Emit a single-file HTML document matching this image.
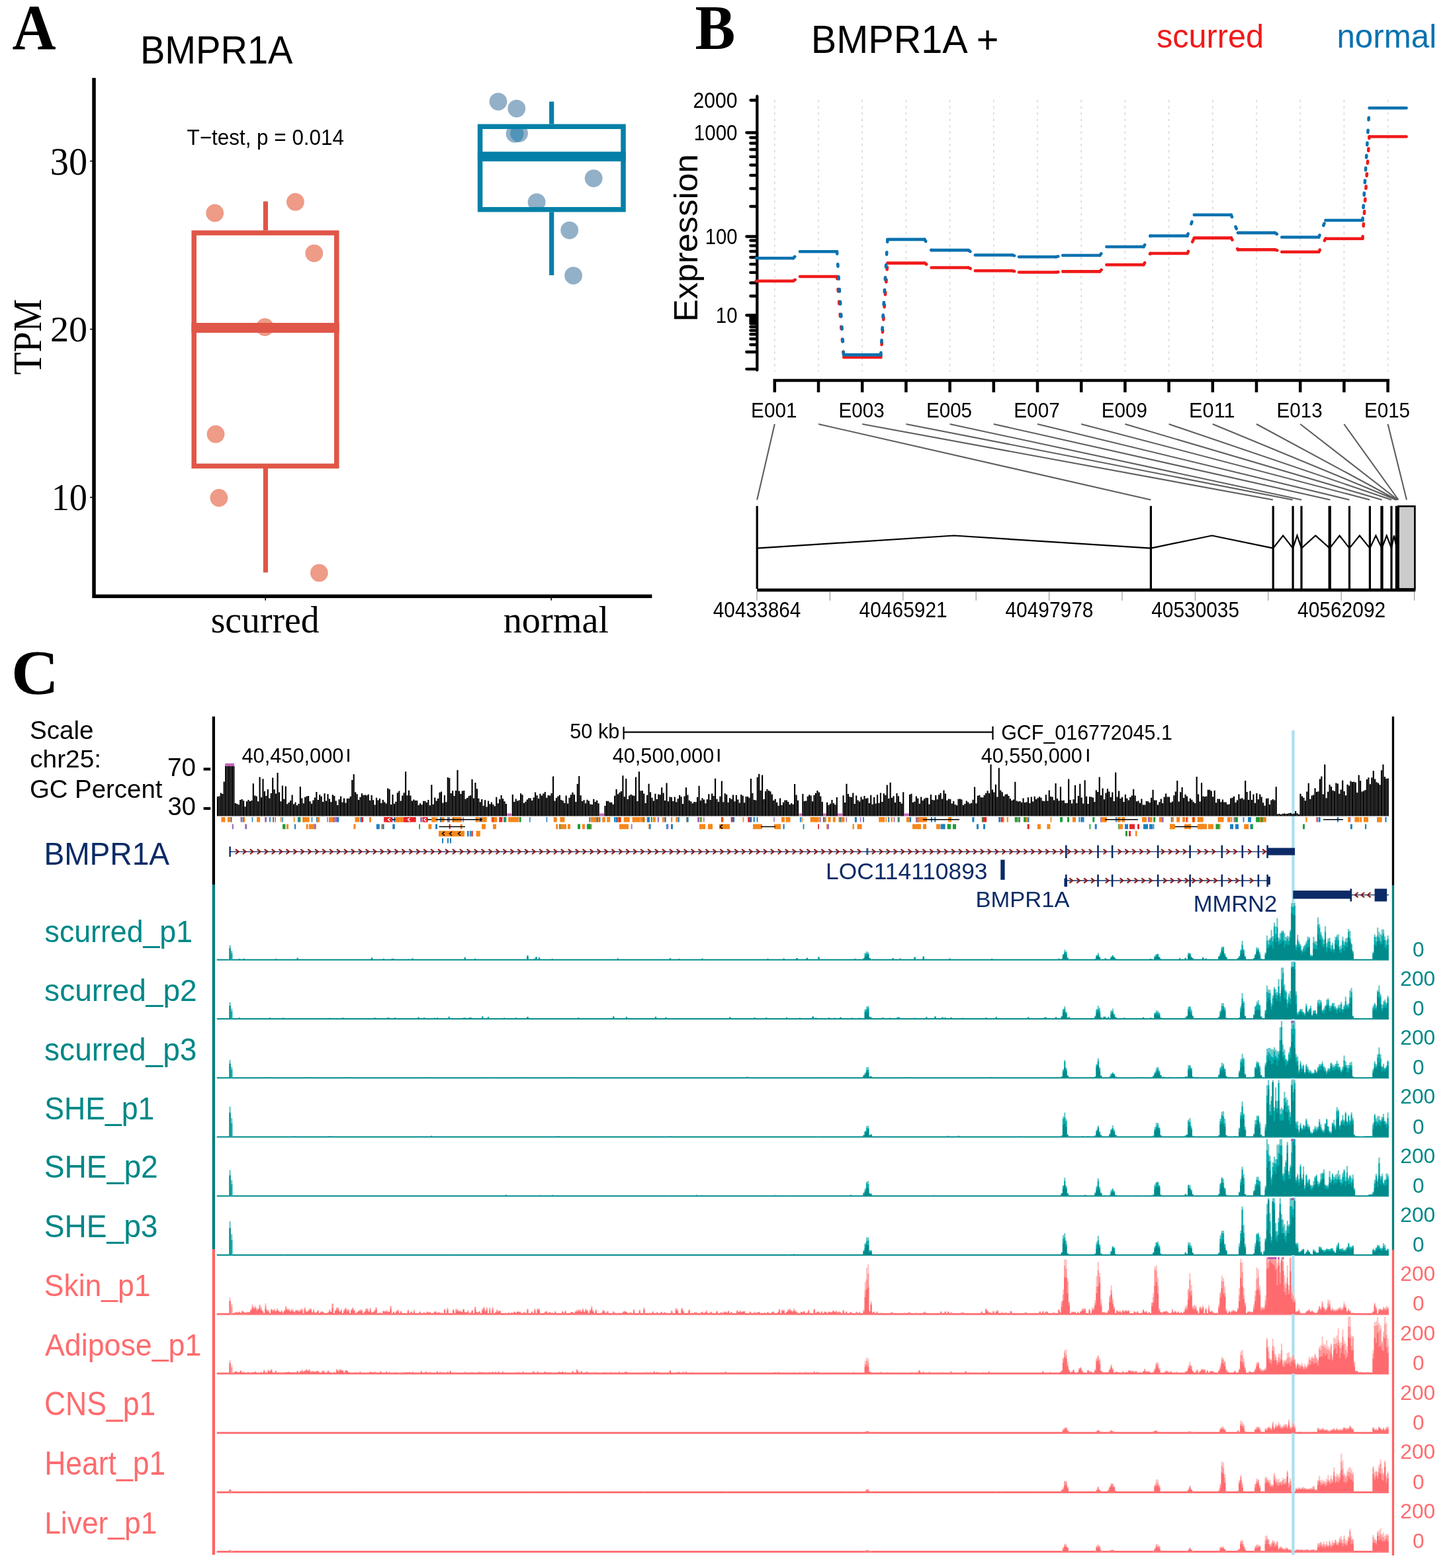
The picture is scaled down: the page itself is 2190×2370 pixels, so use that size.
<!DOCTYPE html>
<html><head><meta charset="utf-8"><title>BMPR1A figure</title>
<style>html,body{margin:0;padding:0;background:#fff;}svg{display:block;}</style></head>
<body><svg width="2190" height="2370" viewBox="0 0 2190 2370">
<rect width="2190" height="2370" fill="#fff"/>
<text x="18.6" y="74.4" font-family="'Liberation Serif', 'Times New Roman', serif" font-weight="bold" font-size="96.34" textLength="66.1" lengthAdjust="spacingAndGlyphs" fill="#000">A</text>
<text x="211.9" y="96.0" font-family="'Liberation Sans', Arial, sans-serif" font-weight="normal" font-size="58.87" textLength="230.6" lengthAdjust="spacingAndGlyphs" fill="#000">BMPR1A</text>
<text x="282.5" y="219.2" font-family="'Liberation Sans', Arial, sans-serif" font-weight="normal" font-size="33.08" textLength="237.5" lengthAdjust="spacingAndGlyphs" fill="#000">T−test, p = 0.014</text>
<text x="75.8" y="263.8" font-family="'Liberation Serif', 'Times New Roman', serif" font-weight="normal" font-size="58.94" textLength="56.3" lengthAdjust="spacingAndGlyphs" fill="#000">30</text>
<text x="76.0" y="516.3" font-family="'Liberation Serif', 'Times New Roman', serif" font-weight="normal" font-size="54.88" textLength="56.1" lengthAdjust="spacingAndGlyphs" fill="#000">20</text>
<text x="77.7" y="771.4" font-family="'Liberation Serif', 'Times New Roman', serif" font-weight="normal" font-size="56.99" textLength="54.3" lengthAdjust="spacingAndGlyphs" fill="#000">10</text>
<line x1="136" y1="243.5" x2="140" y2="243.5" stroke="#000" stroke-width="1.6"/>
<line x1="136" y1="497.6" x2="140" y2="497.6" stroke="#000" stroke-width="1.6"/>
<line x1="136" y1="751.7" x2="140" y2="751.7" stroke="#000" stroke-width="1.6"/>
<line x1="401.2" y1="903" x2="401.2" y2="907.5" stroke="#000" stroke-width="1.6"/>
<line x1="833.2" y1="903" x2="833.2" y2="907.5" stroke="#000" stroke-width="1.6"/>
<path d="M142 117.7 V901.3 H985.4" fill="none" stroke="#000" stroke-width="5.5"/>
<text transform="translate(61.5 566.5) rotate(-90)" x="0" y="0" font-family="'Liberation Serif', 'Times New Roman', serif" font-size="60.94" textLength="114.6" lengthAdjust="spacingAndGlyphs">TPM</text>
<text x="318.7" y="956.3" font-family="'Liberation Serif', 'Times New Roman', serif" font-weight="normal" font-size="56.64" textLength="164.0" lengthAdjust="spacingAndGlyphs" fill="#000">scurred</text>
<text x="760.7" y="956.3" font-family="'Liberation Serif', 'Times New Roman', serif" font-weight="normal" font-size="56.64" textLength="159.4" lengthAdjust="spacingAndGlyphs" fill="#000">normal</text>
<circle cx="324.7" cy="322" r="13.4" fill="#EE9B87"/>
<circle cx="446.4" cy="305.2" r="13.4" fill="#EE9B87"/>
<circle cx="474.8" cy="382.8" r="13.4" fill="#EE9B87"/>
<circle cx="400.4" cy="494.5" r="13.4" fill="#EE9B87"/>
<circle cx="326" cy="656.2" r="13.4" fill="#EE9B87"/>
<circle cx="330.9" cy="752.5" r="13.4" fill="#EE9B87"/>
<circle cx="482.4" cy="865.9" r="13.4" fill="#EE9B87"/>
<circle cx="753" cy="153.6" r="13.4" fill="#92B0C8"/>
<circle cx="780.8" cy="164.1" r="13.4" fill="#92B0C8"/>
<circle cx="778.1" cy="202.3" r="13.4" fill="#92B0C8"/>
<circle cx="784.6" cy="201.5" r="13.4" fill="#92B0C8"/>
<circle cx="897.2" cy="269.6" r="13.4" fill="#92B0C8"/>
<circle cx="811.1" cy="305.6" r="13.4" fill="#92B0C8"/>
<circle cx="860.7" cy="348.1" r="13.4" fill="#92B0C8"/>
<circle cx="866.6" cy="416.6" r="13.4" fill="#92B0C8"/>
<clipPath id="ov"><circle cx="778.1" cy="202.3" r="13.4"/></clipPath><circle cx="784.6" cy="201.5" r="13.4" fill="#5294B9" clip-path="url(#ov)"/>
<rect x="293.2" y="352" width="215.6" height="352.4" fill="none" stroke="#E05648" stroke-width="7.5"/>
<rect x="289.45" y="488" width="223.1" height="15" fill="#E05648"/>
<line x1="401.4" y1="304.4" x2="401.4" y2="348.3" stroke="#E05648" stroke-width="7.2"/>
<line x1="401.4" y1="708.1" x2="401.4" y2="865.3" stroke="#E05648" stroke-width="7.2"/>
<rect x="725.6" y="191.3" width="216.4" height="125.4" fill="none" stroke="#0480A8" stroke-width="7.5"/>
<rect x="721.85" y="229.3" width="223.9" height="14.6" fill="#0480A8"/>
<line x1="833.7" y1="153.6" x2="833.7" y2="187.6" stroke="#0480A8" stroke-width="7.2"/>
<line x1="833.7" y1="320.4" x2="833.7" y2="416" stroke="#0480A8" stroke-width="7.2"/>
<text x="1050.5" y="74.0" font-family="'Liberation Serif', 'Times New Roman', serif" font-weight="bold" font-size="94.23" textLength="60.9" lengthAdjust="spacingAndGlyphs" fill="#000">B</text>
<text x="1225.8" y="79.5" font-family="'Liberation Sans', Arial, sans-serif" font-weight="normal" font-size="59.88" textLength="283.5" lengthAdjust="spacingAndGlyphs" fill="#000">BMPR1A +</text>
<text x="1747.9" y="71.6" font-family="'Liberation Sans', Arial, sans-serif" font-weight="normal" font-size="50.37" textLength="162.2" lengthAdjust="spacingAndGlyphs" fill="#F01A1A">scurred</text>
<text x="2020.4" y="71.6" font-family="'Liberation Sans', Arial, sans-serif" font-weight="normal" font-size="50.37" textLength="150.7" lengthAdjust="spacingAndGlyphs" fill="#0A72B0">normal</text>
<text x="1047.4" y="162.9" font-family="'Liberation Sans', Arial, sans-serif" font-weight="normal" font-size="32.80" textLength="67.1" lengthAdjust="spacingAndGlyphs" fill="#000">2000</text>
<text x="1048.8" y="211.8" font-family="'Liberation Sans', Arial, sans-serif" font-weight="normal" font-size="32.80" textLength="65.7" lengthAdjust="spacingAndGlyphs" fill="#000">1000</text>
<text x="1065.7" y="368.8" font-family="'Liberation Sans', Arial, sans-serif" font-weight="normal" font-size="32.94" textLength="48.8" lengthAdjust="spacingAndGlyphs" fill="#000">100</text>
<text x="1081.8" y="487.7" font-family="'Liberation Sans', Arial, sans-serif" font-weight="normal" font-size="32.80" textLength="32.7" lengthAdjust="spacingAndGlyphs" fill="#000">10</text>
<text transform="translate(1053.8 486.5) rotate(-90)" x="0" y="0" font-family="'Liberation Sans', Arial, sans-serif" font-size="50.87" textLength="253.4" lengthAdjust="spacingAndGlyphs">Expression</text>
<line x1="1170.8" y1="151" x2="1170.8" y2="562" stroke="#D8D8D8" stroke-width="1.6" stroke-dasharray="3.5 6"/>
<line x1="1237.0" y1="151" x2="1237.0" y2="562" stroke="#D8D8D8" stroke-width="1.6" stroke-dasharray="3.5 6"/>
<line x1="1303.2" y1="151" x2="1303.2" y2="562" stroke="#D8D8D8" stroke-width="1.6" stroke-dasharray="3.5 6"/>
<line x1="1369.4" y1="151" x2="1369.4" y2="562" stroke="#D8D8D8" stroke-width="1.6" stroke-dasharray="3.5 6"/>
<line x1="1435.6" y1="151" x2="1435.6" y2="562" stroke="#D8D8D8" stroke-width="1.6" stroke-dasharray="3.5 6"/>
<line x1="1501.8" y1="151" x2="1501.8" y2="562" stroke="#D8D8D8" stroke-width="1.6" stroke-dasharray="3.5 6"/>
<line x1="1568.0" y1="151" x2="1568.0" y2="562" stroke="#D8D8D8" stroke-width="1.6" stroke-dasharray="3.5 6"/>
<line x1="1634.2" y1="151" x2="1634.2" y2="562" stroke="#D8D8D8" stroke-width="1.6" stroke-dasharray="3.5 6"/>
<line x1="1700.4" y1="151" x2="1700.4" y2="562" stroke="#D8D8D8" stroke-width="1.6" stroke-dasharray="3.5 6"/>
<line x1="1766.6" y1="151" x2="1766.6" y2="562" stroke="#D8D8D8" stroke-width="1.6" stroke-dasharray="3.5 6"/>
<line x1="1832.8" y1="151" x2="1832.8" y2="562" stroke="#D8D8D8" stroke-width="1.6" stroke-dasharray="3.5 6"/>
<line x1="1899.0" y1="151" x2="1899.0" y2="562" stroke="#D8D8D8" stroke-width="1.6" stroke-dasharray="3.5 6"/>
<line x1="1965.2" y1="151" x2="1965.2" y2="562" stroke="#D8D8D8" stroke-width="1.6" stroke-dasharray="3.5 6"/>
<line x1="2031.4" y1="151" x2="2031.4" y2="562" stroke="#D8D8D8" stroke-width="1.6" stroke-dasharray="3.5 6"/>
<line x1="2097.6" y1="151" x2="2097.6" y2="562" stroke="#D8D8D8" stroke-width="1.6" stroke-dasharray="3.5 6"/>
<path d="M1144.3 145.5 V559.5 M1134.5 151.5 H1144.3 M1128.3 200.5 H1144.3 M1128.3 357.5 H1144.3 M1128.3 476.5 H1144.3 M1128.3 532 H1144.3 M1128.3 557.8 H1144.3 M1134.3 208 H1144.3 M1134.3 216.5 H1144.3 M1134.3 226 H1144.3 M1134.3 236.8 H1144.3 M1134.3 249.5 H1144.3 M1134.3 265 H1144.3 M1134.3 285 H1144.3 M1134.3 312 H1144.3 M1134.3 363.5 H1144.3 M1134.3 371.3 H1144.3 M1134.3 379.8 H1144.3 M1134.3 389 H1144.3 M1134.3 399.4 H1144.3 M1134.3 411.9 H1144.3 M1134.3 427.5 H1144.3 M1134.3 447.5 H1144.3 M1134.3 480 H1144.3 M1134.3 483.5 H1144.3 M1134.3 486 H1144.3 M1134.3 489 H1144.3 M1134.3 494 H1144.3 M1134.3 499.5 H1144.3 M1134.3 505.25 H1144.3 M1134.3 512.25 H1144.3 M1134.3 521 H1144.3" fill="none" stroke="#000" stroke-width="4.3" stroke-linecap="round"/>
<path d="M1168.5 575.1 H2100 M1170.8 575.1 V593 M1237.0 575.1 V593 M1303.2 575.1 V593 M1369.4 575.1 V593 M1435.6 575.1 V593 M1501.8 575.1 V593 M1568.0 575.1 V593 M1634.2 575.1 V593 M1700.4 575.1 V593 M1766.6 575.1 V593 M1832.8 575.1 V593 M1899.0 575.1 V593 M1965.2 575.1 V593 M2031.4 575.1 V593 M2097.6 575.1 V593" fill="none" stroke="#000" stroke-width="4.5"/>
<text x="1135.1" y="630.8" font-family="'Liberation Sans', Arial, sans-serif" font-weight="normal" font-size="31.94" textLength="69.4" lengthAdjust="spacingAndGlyphs" fill="#000">E001</text>
<text x="1267.5" y="630.8" font-family="'Liberation Sans', Arial, sans-serif" font-weight="normal" font-size="31.94" textLength="69.2" lengthAdjust="spacingAndGlyphs" fill="#000">E003</text>
<text x="1399.9" y="630.8" font-family="'Liberation Sans', Arial, sans-serif" font-weight="normal" font-size="31.94" textLength="69.2" lengthAdjust="spacingAndGlyphs" fill="#000">E005</text>
<text x="1532.3" y="630.8" font-family="'Liberation Sans', Arial, sans-serif" font-weight="normal" font-size="31.94" textLength="69.4" lengthAdjust="spacingAndGlyphs" fill="#000">E007</text>
<text x="1664.7" y="630.8" font-family="'Liberation Sans', Arial, sans-serif" font-weight="normal" font-size="31.94" textLength="69.3" lengthAdjust="spacingAndGlyphs" fill="#000">E009</text>
<text x="1797.1" y="630.8" font-family="'Liberation Sans', Arial, sans-serif" font-weight="normal" font-size="31.94" textLength="69.4" lengthAdjust="spacingAndGlyphs" fill="#000">E011</text>
<text x="1929.5" y="630.8" font-family="'Liberation Sans', Arial, sans-serif" font-weight="normal" font-size="31.94" textLength="69.2" lengthAdjust="spacingAndGlyphs" fill="#000">E013</text>
<text x="2061.9" y="630.8" font-family="'Liberation Sans', Arial, sans-serif" font-weight="normal" font-size="31.94" textLength="69.2" lengthAdjust="spacingAndGlyphs" fill="#000">E015</text>
<path d="M1142.8 424.7 H1198.8 M1209.0 418.0 H1265.0 M1275.2 540.0 H1331.2 M1341.4 397.6 H1397.4 M1407.6 404.5 H1463.6 M1473.8 409.3 H1529.8 M1540.0 411.5 H1596.0 M1606.2 410.4 H1662.2 M1672.4 400.2 H1728.4 M1738.6 383.0 H1794.6 M1804.8 359.6 H1860.8 M1871.0 377.4 H1927.0 M1937.2 380.7 H1993.2 M2003.4 360.7 H2059.4 M2069.6 206.5 H2125.6" fill="none" stroke="#F01A1A" stroke-width="4.6" stroke-linecap="round"/>
<path d="M1198.8 424.7 L1209.0 418.0 M1265.0 418.0 L1275.2 540.0 M1331.2 540.0 L1341.4 397.6 M1397.4 397.6 L1407.6 404.5 M1463.6 404.5 L1473.8 409.3 M1529.8 409.3 L1540.0 411.5 M1596.0 411.5 L1606.2 410.4 M1662.2 410.4 L1672.4 400.2 M1728.4 400.2 L1738.6 383.0 M1794.6 383.0 L1804.8 359.6 M1860.8 359.6 L1871.0 377.4 M1927.0 377.4 L1937.2 380.7 M1993.2 380.7 L2003.4 360.7 M2059.4 360.7 L2069.6 206.5" fill="none" stroke="#F01A1A" stroke-width="4.6" stroke-dasharray="3.4 15.6" stroke-linecap="round"/>
<path d="M1142.8 390.3 H1198.8 M1209.0 380.3 H1265.0 M1275.2 536.4 H1331.2 M1341.4 361.9 H1397.4 M1407.6 378.1 H1463.6 M1473.8 385.5 H1529.8 M1540.0 388.3 H1596.0 M1606.2 386.0 H1662.2 M1672.4 373.0 H1728.4 M1738.6 356.5 H1794.6 M1804.8 324.8 H1860.8 M1871.0 351.9 H1927.0 M1937.2 358.5 H1993.2 M2003.4 333.0 H2059.4 M2069.6 163.3 H2125.6" fill="none" stroke="#0A72B0" stroke-width="4.6" stroke-linecap="round"/>
<path d="M1198.8 390.3 L1209.0 380.3 M1265.0 380.3 L1275.2 536.4 M1331.2 536.4 L1341.4 361.9 M1397.4 361.9 L1407.6 378.1 M1463.6 378.1 L1473.8 385.5 M1529.8 385.5 L1540.0 388.3 M1596.0 388.3 L1606.2 386.0 M1662.2 386.0 L1672.4 373.0 M1728.4 373.0 L1738.6 356.5 M1794.6 356.5 L1804.8 324.8 M1860.8 324.8 L1871.0 351.9 M1927.0 351.9 L1937.2 358.5 M1993.2 358.5 L2003.4 333.0 M2059.4 333.0 L2069.6 163.3" fill="none" stroke="#0A72B0" stroke-width="4.6" stroke-dasharray="3.4 15.6" stroke-linecap="round"/>
<path d="M1170.8 641 L1144.2 755.5 M1237.0 641 L1739.4 755.5 M1303.2 641 L1924.0 755.5 M1369.4 641 L1953.8 755.5 M1435.6 641 L1967.2 755.5 M1501.8 641 L2010.5 755.5 M1568.0 641 L2039.5 755.5 M1634.2 641 L2070.3 755.5 M1700.4 641 L2088.6 755.5 M1766.6 641 L2103.0 755.5 M1832.8 641 L2109.8 755.5 M1899.0 641 L2111.2 755.5 M1965.2 641 L2112.6 755.5 M2031.4 641 L2113.6 755.5 M2097.6 641 L2126.0 755.5" fill="none" stroke="#5E5E5E" stroke-width="2.1"/>
<path d="M1144.2 764.7 V890 M1739.4 764.7 V890 M1924.2 764.7 V890 M1954.1 764.7 V890 M1967.0 764.7 V890 M2039.5 764.7 V890 M2070.4 764.7 V890 M2103.0 764.7 V890" fill="none" stroke="#000" stroke-width="3.2"/>
<path d="M2009.7 764.7 V890 M2088.5 764.7 V890" fill="none" stroke="#000" stroke-width="4.3"/>
<path d="M2111.4 764.7 V890" fill="none" stroke="#000" stroke-width="5.2"/>
<rect x="2113.6" y="765.2" width="24.8" height="125" fill="#CCCCCC" stroke="#000" stroke-width="2.6"/>
<path d="M1144.2 828.6 L1441.8 809.5 L1739.4 828.6 M1739.4 828.6 L1831.8 809.5 L1924.2 828.6 M1924.2 828.6 L1939.2 809.5 L1954.1 828.6 M1954.1 828.6 L1960.5 809.5 L1967.0 828.6 M1967.0 828.6 L1988.3 809.5 L2009.7 828.6 M2009.7 828.6 L2024.6 809.5 L2039.5 828.6 M2039.5 828.6 L2054.9 809.5 L2070.4 828.6 M2070.4 828.6 L2079.4 809.5 L2088.5 828.6 M2088.5 828.6 L2095.8 809.5 L2103.0 828.6 M2103.0 828.6 L2107.0 809.5 L2111.0 828.6" fill="none" stroke="#000" stroke-width="2.2" stroke-linejoin="miter"/>
<path d="M1144.2 891.9 H2139.3" stroke="#000" stroke-width="4.7"/>
<path d="M1144.0 894 V907.8 M1254.4 894 V907.8 M1364.8 894 V907.8 M1475.2 894 V907.8 M1585.6 894 V907.8 M1696.0 894 V907.8 M1806.4 894 V907.8 M1916.8 894 V907.8 M2027.2 894 V907.8 M2137.6 894 V907.8" stroke="#999" stroke-width="1.2"/>
<text x="1077.8" y="933.0" font-family="'Liberation Sans', Arial, sans-serif" font-weight="normal" font-size="32.65" textLength="132.6" lengthAdjust="spacingAndGlyphs" fill="#000">40433864</text>
<text x="1298.6" y="933.0" font-family="'Liberation Sans', Arial, sans-serif" font-weight="normal" font-size="32.65" textLength="133.1" lengthAdjust="spacingAndGlyphs" fill="#000">40465921</text>
<text x="1519.4" y="933.0" font-family="'Liberation Sans', Arial, sans-serif" font-weight="normal" font-size="32.65" textLength="133.0" lengthAdjust="spacingAndGlyphs" fill="#000">40497978</text>
<text x="1740.2" y="933.0" font-family="'Liberation Sans', Arial, sans-serif" font-weight="normal" font-size="32.65" textLength="132.9" lengthAdjust="spacingAndGlyphs" fill="#000">40530035</text>
<text x="1961.0" y="933.0" font-family="'Liberation Sans', Arial, sans-serif" font-weight="normal" font-size="32.65" textLength="133.2" lengthAdjust="spacingAndGlyphs" fill="#000">40562092</text>
<rect x="327.7" y="1449.70" width="1771.3" height="2.0" fill="#008A8A"/>
<rect x="327.7" y="1538.95" width="1771.3" height="2.0" fill="#008A8A"/>
<rect x="327.7" y="1628.20" width="1771.3" height="2.0" fill="#008A8A"/>
<rect x="327.7" y="1717.45" width="1771.3" height="2.0" fill="#008A8A"/>
<rect x="327.7" y="1806.70" width="1771.3" height="2.0" fill="#008A8A"/>
<rect x="327.7" y="1895.95" width="1771.3" height="2.0" fill="#008A8A"/>
<rect x="327.7" y="1984.80" width="1771.3" height="2.8" fill="#FF6A6E"/>
<rect x="327.7" y="2074.60" width="1771.3" height="2.8" fill="#FF6A6E"/>
<rect x="327.7" y="2164.40" width="1771.3" height="2.8" fill="#FF6A6E"/>
<rect x="327.7" y="2254.20" width="1771.3" height="2.8" fill="#FF6A6E"/>
<rect x="327.7" y="2344.00" width="1771.3" height="2.8" fill="#FF6A6E"/>
<rect x="1952.3" y="1104" width="4.3" height="1246" fill="#ADDFF0"/>
<rect x="320.7" y="1083" width="4.3" height="254" fill="#000"/>
<rect x="320.7" y="1337" width="4.3" height="551.1" fill="#067F7C"/>
<rect x="320.7" y="1888.1" width="4.3" height="462" fill="#FF6464"/>
<rect x="2103.8" y="1083" width="3.3" height="255" fill="#000"/>
<rect x="2103.8" y="1338" width="3.3" height="551" fill="#067F7C"/>
<rect x="2103.8" y="1889" width="3.3" height="462" fill="#FF6464"/>
<text x="17.1" y="1049.3" font-family="'Liberation Serif', 'Times New Roman', serif" font-weight="bold" font-size="94.85" textLength="71.8" lengthAdjust="spacingAndGlyphs" fill="#000">C</text>
<text x="45.0" y="1117.1" font-family="'Liberation Sans', Arial, sans-serif" font-weight="normal" font-size="38.50" textLength="96.6" lengthAdjust="spacingAndGlyphs" fill="#000">Scale</text>
<text x="45.2" y="1159.6" font-family="'Liberation Sans', Arial, sans-serif" font-weight="normal" font-size="36.99" textLength="107.9" lengthAdjust="spacingAndGlyphs" fill="#000">chr25:</text>
<text x="44.9" y="1205.7" font-family="'Liberation Sans', Arial, sans-serif" font-weight="normal" font-size="38.24" textLength="200.5" lengthAdjust="spacingAndGlyphs" fill="#000">GC Percent</text>
<text x="253.0" y="1172.9" font-family="'Liberation Sans', Arial, sans-serif" font-weight="normal" font-size="38.24" textLength="42.9" lengthAdjust="spacingAndGlyphs" fill="#000">70</text>
<text x="253.6" y="1231.6" font-family="'Liberation Sans', Arial, sans-serif" font-weight="normal" font-size="38.67" textLength="42.3" lengthAdjust="spacingAndGlyphs" fill="#000">30</text>
<rect x="307.6" y="1160.4" width="10.6" height="4.2" fill="#000"/>
<rect x="307.6" y="1219.9" width="10.6" height="4.2" fill="#000"/>
<text x="861.2" y="1116.1" font-family="'Liberation Sans', Arial, sans-serif" font-weight="normal" font-size="30.78" textLength="75.3" lengthAdjust="spacingAndGlyphs" fill="#000">50 kb</text>
<path d="M942.6 1098.5 V1117.5 M942.6 1106.6 H1500.5 M1500.5 1098 V1117.9" fill="none" stroke="#000" stroke-width="2.2"/>
<text x="1513.2" y="1117.9" font-family="'Liberation Sans', Arial, sans-serif" font-weight="normal" font-size="31.79" textLength="258.7" lengthAdjust="spacingAndGlyphs" fill="#000">GCF_016772045.1</text>
<text x="365.4" y="1152.9" font-family="'Liberation Sans', Arial, sans-serif" font-weight="normal" font-size="31.36" textLength="154.1" lengthAdjust="spacingAndGlyphs" fill="#000">40,450,000</text>
<rect x="525.1" y="1132.1" width="2.8" height="19.3" fill="#000"/>
<text x="925.7" y="1152.9" font-family="'Liberation Sans', Arial, sans-serif" font-weight="normal" font-size="31.36" textLength="153.5" lengthAdjust="spacingAndGlyphs" fill="#000">40,500,000</text>
<rect x="1084.8" y="1132.1" width="2.8" height="19.3" fill="#000"/>
<text x="1482.8" y="1152.9" font-family="'Liberation Sans', Arial, sans-serif" font-weight="normal" font-size="31.36" textLength="152.9" lengthAdjust="spacingAndGlyphs" fill="#000">40,550,000</text>
<rect x="1642.8999999999999" y="1132.1" width="2.8" height="19.3" fill="#000"/>
<path d="M328.90 1233.5V1203.9M331.35 1233.5V1203.6M333.80 1233.5V1198.6M336.25 1233.5V1200.1M338.70 1233.5V1181.6M341.15 1233.5V1158.0M343.60 1233.5V1158.0M346.05 1233.5V1158.0M348.50 1233.5V1158.0M350.95 1233.5V1158.0M353.40 1233.5V1158.0M355.85 1233.5V1213.9M358.30 1233.5V1214.9M360.75 1233.5V1216.2M363.20 1233.5V1209.0M365.65 1233.5V1208.0M368.10 1233.5V1210.2M370.55 1233.5V1219.3M373.00 1233.5V1211.3M375.45 1233.5V1209.0M377.90 1233.5V1211.1M380.35 1233.5V1209.9M382.80 1233.5V1184.2M385.25 1233.5V1202.6M387.70 1233.5V1203.5M390.15 1233.5V1211.2M392.60 1233.5V1174.4M395.05 1233.5V1205.2M397.50 1233.5V1177.3M399.95 1233.5V1196.1M402.40 1233.5V1202.9M404.85 1233.5V1192.9M407.30 1233.5V1206.4M409.75 1233.5V1199.1M412.20 1233.5V1175.4M414.65 1233.5V1193.3M417.10 1233.5V1199.5M419.55 1233.5V1167.9M422.00 1233.5V1197.6M424.45 1233.5V1211.3M426.90 1233.5V1187.5M429.35 1233.5V1207.7M431.80 1233.5V1188.4M434.25 1233.5V1215.2M436.70 1233.5V1213.1M439.15 1233.5V1209.9M441.60 1233.5V1201.6M444.05 1233.5V1215.6M446.50 1233.5V1212.8M448.95 1233.5V1217.3M451.40 1233.5V1215.1M453.85 1233.5V1188.9M456.30 1233.5V1206.6M458.75 1233.5V1214.3M461.20 1233.5V1204.7M463.65 1233.5V1203.6M466.10 1233.5V1202.9M468.55 1233.5V1211.3M471.00 1233.5V1214.8M473.45 1233.5V1209.5M475.90 1233.5V1205.5M478.35 1233.5V1196.9M480.80 1233.5V1208.9M483.25 1233.5V1201.3M485.70 1233.5V1203.8M488.15 1233.5V1211.9M490.60 1233.5V1199.3M493.05 1233.5V1210.5M495.50 1233.5V1200.3M497.95 1233.5V1207.4M500.40 1233.5V1212.2M502.85 1233.5V1201.3M505.30 1233.5V1203.1M507.75 1233.5V1210.6M510.20 1233.5V1216.9M512.65 1233.5V1208.3M515.10 1233.5V1203.6M517.55 1233.5V1212.4M520.00 1233.5V1206.6M522.45 1233.5V1213.6M524.90 1233.5V1207.1M527.35 1233.5V1206.7M529.80 1233.5V1203.8M532.25 1233.5V1179.1M534.70 1233.5V1170.2M537.15 1233.5V1197.3M539.60 1233.5V1200.3M542.05 1233.5V1209.0M544.50 1233.5V1204.8M546.95 1233.5V1199.2M549.40 1233.5V1202.0M551.85 1233.5V1201.4M554.30 1233.5V1202.2M556.75 1233.5V1200.7M559.20 1233.5V1209.7M561.65 1233.5V1201.9M564.10 1233.5V1209.2M566.55 1233.5V1216.5M569.00 1233.5V1205.8M571.45 1233.5V1209.6M573.90 1233.5V1206.9M576.35 1233.5V1213.9M578.80 1233.5V1208.9M581.25 1233.5V1212.3M583.70 1233.5V1214.4M586.15 1233.5V1191.6M588.60 1233.5V1193.0M591.05 1233.5V1216.1M593.50 1233.5V1201.0M595.95 1233.5V1214.7M598.40 1233.5V1211.8M600.85 1233.5V1198.2M603.30 1233.5V1195.4M605.75 1233.5V1210.4M608.20 1233.5V1202.5M610.65 1233.5V1198.3M613.10 1233.5V1166.3M615.55 1233.5V1202.2M618.00 1233.5V1194.8M620.45 1233.5V1202.5M622.90 1233.5V1210.5M625.35 1233.5V1208.5M627.80 1233.5V1210.0M630.25 1233.5V1210.0M632.70 1233.5V1216.9M635.15 1233.5V1214.3M637.60 1233.5V1216.3M640.05 1233.5V1210.7M642.50 1233.5V1210.8M644.95 1233.5V1213.1M647.40 1233.5V1208.9M649.85 1233.5V1217.3M652.30 1233.5V1186.2M654.75 1233.5V1215.8M657.20 1233.5V1205.6M659.65 1233.5V1210.5M662.10 1233.5V1206.9M664.55 1233.5V1197.7M667.00 1233.5V1196.5M669.45 1233.5V1213.5M671.90 1233.5V1201.9M674.35 1233.5V1212.3M676.80 1233.5V1175.0M679.25 1233.5V1176.1M681.70 1233.5V1199.1M684.15 1233.5V1195.3M686.60 1233.5V1203.0M689.05 1233.5V1195.1M691.50 1233.5V1164.1M693.95 1233.5V1195.6M696.40 1233.5V1200.0M698.85 1233.5V1195.5M701.30 1233.5V1194.9M703.75 1233.5V1207.8M706.20 1233.5V1205.9M708.65 1233.5V1203.2M711.10 1233.5V1202.3M713.55 1233.5V1178.1M716.00 1233.5V1206.6M718.45 1233.5V1183.1M720.90 1233.5V1192.2M723.35 1233.5V1206.8M725.80 1233.5V1212.3M728.25 1233.5V1208.0M730.70 1233.5V1218.0M733.15 1233.5V1209.3M735.60 1233.5V1219.5M738.05 1233.5V1210.4M740.50 1233.5V1215.2M742.95 1233.5V1212.6M745.40 1233.5V1215.9M747.85 1233.5V1218.6M750.30 1233.5V1204.7M752.75 1233.5V1214.2M755.20 1233.5V1207.9M757.65 1233.5V1202.0M760.10 1233.5V1207.3M762.55 1233.5V1211.3M765.00 1233.5V1215.0M774.80 1233.5V1201.0M777.25 1233.5V1211.9M779.70 1233.5V1207.6M782.15 1233.5V1210.4M784.60 1233.5V1209.4M787.05 1233.5V1199.3M789.50 1233.5V1201.2M791.95 1233.5V1213.8M794.40 1233.5V1211.7M796.85 1233.5V1208.4M799.30 1233.5V1206.2M801.75 1233.5V1206.4M804.20 1233.5V1209.9M806.65 1233.5V1205.5M809.10 1233.5V1197.4M811.55 1233.5V1202.2M814.00 1233.5V1206.9M816.45 1233.5V1199.7M818.90 1233.5V1202.5M821.35 1233.5V1199.6M823.80 1233.5V1196.9M826.25 1233.5V1205.7M828.70 1233.5V1202.0M831.15 1233.5V1202.4M833.60 1233.5V1198.9M836.05 1233.5V1173.6M838.50 1233.5V1210.5M840.95 1233.5V1205.9M843.40 1233.5V1203.5M845.85 1233.5V1201.7M848.30 1233.5V1209.0M850.75 1233.5V1210.3M853.20 1233.5V1213.7M855.65 1233.5V1202.5M858.10 1233.5V1214.4M860.55 1233.5V1205.7M863.00 1233.5V1201.2M865.45 1233.5V1197.7M867.90 1233.5V1200.9M870.35 1233.5V1212.0M872.80 1233.5V1185.0M875.25 1233.5V1173.1M877.70 1233.5V1202.3M880.15 1233.5V1211.1M882.60 1233.5V1209.3M885.05 1233.5V1214.2M887.50 1233.5V1208.8M889.95 1233.5V1210.4M892.40 1233.5V1215.6M894.85 1233.5V1216.0M897.30 1233.5V1207.7M899.75 1233.5V1212.0M902.20 1233.5V1209.7M904.65 1233.5V1214.3M914.45 1233.5V1218.0M916.90 1233.5V1210.7M919.35 1233.5V1210.7M921.80 1233.5V1212.8M924.25 1233.5V1212.8M926.70 1233.5V1215.8M929.15 1233.5V1202.8M931.60 1233.5V1193.0M934.05 1233.5V1200.3M936.50 1233.5V1197.8M938.95 1233.5V1196.0M941.40 1233.5V1172.2M943.85 1233.5V1204.3M946.30 1233.5V1176.9M948.75 1233.5V1208.1M951.20 1233.5V1202.4M953.65 1233.5V1200.8M956.10 1233.5V1202.2M958.55 1233.5V1202.7M961.00 1233.5V1174.5M963.45 1233.5V1211.1M965.90 1233.5V1166.3M968.35 1233.5V1195.3M970.80 1233.5V1195.1M973.25 1233.5V1199.5M975.70 1233.5V1213.9M978.15 1233.5V1201.7M980.60 1233.5V1184.7M983.05 1233.5V1197.3M985.50 1233.5V1205.8M987.95 1233.5V1210.6M990.40 1233.5V1199.7M992.85 1233.5V1208.0M995.30 1233.5V1200.6M997.75 1233.5V1201.2M1000.20 1233.5V1190.2M1002.65 1233.5V1198.5M1005.10 1233.5V1210.1M1007.55 1233.5V1183.6M1010.00 1233.5V1211.2M1012.45 1233.5V1204.4M1014.90 1233.5V1204.9M1017.35 1233.5V1211.0M1019.80 1233.5V1204.5M1022.25 1233.5V1212.3M1024.70 1233.5V1207.2M1027.15 1233.5V1201.8M1029.60 1233.5V1204.2M1032.05 1233.5V1215.1M1034.50 1233.5V1203.6M1036.95 1233.5V1190.3M1039.40 1233.5V1201.5M1041.85 1233.5V1209.8M1044.30 1233.5V1211.6M1046.75 1233.5V1214.3M1049.20 1233.5V1212.0M1051.65 1233.5V1212.2M1054.10 1233.5V1204.8M1056.55 1233.5V1187.7M1059.00 1233.5V1210.0M1061.45 1233.5V1206.2M1063.90 1233.5V1208.6M1066.35 1233.5V1214.2M1068.80 1233.5V1208.3M1071.25 1233.5V1200.3M1073.70 1233.5V1209.1M1076.15 1233.5V1199.5M1078.60 1233.5V1203.1M1081.05 1233.5V1176.8M1083.50 1233.5V1207.8M1085.95 1233.5V1212.1M1088.40 1233.5V1203.7M1090.85 1233.5V1180.5M1093.30 1233.5V1212.2M1095.75 1233.5V1199.3M1098.20 1233.5V1201.1M1100.65 1233.5V1212.7M1103.10 1233.5V1206.2M1105.55 1233.5V1208.0M1108.00 1233.5V1201.5M1110.45 1233.5V1211.3M1112.90 1233.5V1201.8M1115.35 1233.5V1208.4M1117.80 1233.5V1213.5M1120.25 1233.5V1201.1M1122.70 1233.5V1202.8M1125.15 1233.5V1213.3M1127.60 1233.5V1204.0M1130.05 1233.5V1204.1M1132.50 1233.5V1205.7M1134.95 1233.5V1177.1M1137.40 1233.5V1198.8M1139.85 1233.5V1208.9M1142.30 1233.5V1209.4M1144.75 1233.5V1174.8M1147.20 1233.5V1169.7M1149.65 1233.5V1194.8M1152.10 1233.5V1171.6M1154.55 1233.5V1208.0M1157.00 1233.5V1196.1M1159.45 1233.5V1192.8M1161.90 1233.5V1195.1M1164.35 1233.5V1196.3M1166.80 1233.5V1200.6M1169.25 1233.5V1210.1M1171.70 1233.5V1207.7M1174.15 1233.5V1212.8M1176.60 1233.5V1217.8M1179.05 1233.5V1206.5M1181.50 1233.5V1217.1M1183.95 1233.5V1212.8M1186.40 1233.5V1209.5M1188.85 1233.5V1209.5M1191.30 1233.5V1211.9M1193.75 1233.5V1215.9M1196.20 1233.5V1213.9M1198.65 1233.5V1215.7M1201.10 1233.5V1184.9M1203.55 1233.5V1201.6M1206.00 1233.5V1209.8M1213.35 1233.5V1199.9M1215.80 1233.5V1211.0M1218.25 1233.5V1210.5M1220.70 1233.5V1203.8M1223.15 1233.5V1201.3M1225.60 1233.5V1202.4M1228.05 1233.5V1211.3M1230.50 1233.5V1201.8M1232.95 1233.5V1198.7M1235.40 1233.5V1195.1M1237.85 1233.5V1197.6M1240.30 1233.5V1203.4M1242.75 1233.5V1212.1M1250.10 1233.5V1212.7M1252.55 1233.5V1217.1M1255.00 1233.5V1214.8M1257.45 1233.5V1208.9M1259.90 1233.5V1214.1M1262.35 1233.5V1216.2M1264.80 1233.5V1205.0M1274.60 1233.5V1202.3M1277.05 1233.5V1212.9M1279.50 1233.5V1184.7M1281.95 1233.5V1199.9M1284.40 1233.5V1204.3M1286.85 1233.5V1205.0M1289.30 1233.5V1198.6M1291.75 1233.5V1215.1M1294.20 1233.5V1202.6M1296.65 1233.5V1209.6M1299.10 1233.5V1211.5M1301.55 1233.5V1204.6M1304.00 1233.5V1208.2M1306.45 1233.5V1203.0M1308.90 1233.5V1207.0M1311.35 1233.5V1206.3M1313.80 1233.5V1213.9M1316.25 1233.5V1201.7M1318.70 1233.5V1215.8M1321.15 1233.5V1205.0M1323.60 1233.5V1214.5M1326.05 1233.5V1201.3M1328.50 1233.5V1213.8M1330.95 1233.5V1198.4M1333.40 1233.5V1212.1M1335.85 1233.5V1199.3M1338.30 1233.5V1201.7M1340.75 1233.5V1186.4M1343.20 1233.5V1206.9M1345.65 1233.5V1182.8M1348.10 1233.5V1205.8M1350.55 1233.5V1203.3M1353.00 1233.5V1213.1M1355.45 1233.5V1199.1M1357.90 1233.5V1203.2M1360.35 1233.5V1212.1M1362.80 1233.5V1214.4M1365.25 1233.5V1197.2M1375.05 1233.5V1201.1M1377.50 1233.5V1199.7M1379.95 1233.5V1212.7M1382.40 1233.5V1211.6M1384.85 1233.5V1203.5M1387.30 1233.5V1206.7M1389.75 1233.5V1214.8M1392.20 1233.5V1204.4M1394.65 1233.5V1210.0M1397.10 1233.5V1207.2M1399.55 1233.5V1205.7M1402.00 1233.5V1206.0M1404.45 1233.5V1215.4M1406.90 1233.5V1201.0M1409.35 1233.5V1208.9M1411.80 1233.5V1209.5M1414.25 1233.5V1202.1M1416.70 1233.5V1208.2M1419.15 1233.5V1201.2M1421.60 1233.5V1198.8M1424.05 1233.5V1207.6M1426.50 1233.5V1194.5M1428.95 1233.5V1199.5M1431.40 1233.5V1209.7M1433.85 1233.5V1207.5M1436.30 1233.5V1208.1M1438.75 1233.5V1214.6M1441.20 1233.5V1211.1M1443.65 1233.5V1216.1M1446.10 1233.5V1217.3M1448.55 1233.5V1207.7M1451.00 1233.5V1207.4M1453.45 1233.5V1208.4M1455.90 1233.5V1217.1M1458.35 1233.5V1215.0M1460.80 1233.5V1210.6M1463.25 1233.5V1212.5M1465.70 1233.5V1214.7M1468.15 1233.5V1213.8M1470.60 1233.5V1208.8M1473.05 1233.5V1189.5M1475.50 1233.5V1214.2M1477.95 1233.5V1202.8M1480.40 1233.5V1201.9M1482.85 1233.5V1205.3M1485.30 1233.5V1205.3M1487.75 1233.5V1201.7M1490.20 1233.5V1198.8M1492.65 1233.5V1195.2M1495.10 1233.5V1199.0M1497.55 1233.5V1155.5M1500.00 1233.5V1193.4M1502.45 1233.5V1197.5M1504.90 1233.5V1185.7M1507.35 1233.5V1204.6M1509.80 1233.5V1160.7M1512.25 1233.5V1194.6M1514.70 1233.5V1197.2M1517.15 1233.5V1203.5M1519.60 1233.5V1200.7M1522.05 1233.5V1200.2M1524.50 1233.5V1203.0M1526.95 1233.5V1207.3M1529.40 1233.5V1210.0M1531.85 1233.5V1208.6M1534.30 1233.5V1181.8M1536.75 1233.5V1210.6M1539.20 1233.5V1211.6M1541.65 1233.5V1211.1M1544.10 1233.5V1213.1M1546.55 1233.5V1206.5M1549.00 1233.5V1212.9M1551.45 1233.5V1212.2M1553.90 1233.5V1205.3M1556.35 1233.5V1214.0M1558.80 1233.5V1204.4M1561.25 1233.5V1211.4M1563.70 1233.5V1203.8M1566.15 1233.5V1207.9M1568.60 1233.5V1205.9M1571.05 1233.5V1204.0M1573.50 1233.5V1205.8M1575.95 1233.5V1210.5M1578.40 1233.5V1211.1M1580.85 1233.5V1201.2M1583.30 1233.5V1210.4M1585.75 1233.5V1194.4M1588.20 1233.5V1204.0M1590.65 1233.5V1204.6M1593.10 1233.5V1209.4M1595.55 1233.5V1184.1M1598.00 1233.5V1207.0M1600.45 1233.5V1210.2M1602.90 1233.5V1189.2M1605.35 1233.5V1210.1M1607.80 1233.5V1209.8M1610.25 1233.5V1213.9M1612.70 1233.5V1213.8M1615.15 1233.5V1177.4M1617.60 1233.5V1209.0M1620.05 1233.5V1214.4M1622.50 1233.5V1208.3M1624.95 1233.5V1186.7M1627.40 1233.5V1214.0M1629.85 1233.5V1203.0M1632.30 1233.5V1184.7M1634.75 1233.5V1205.6M1637.20 1233.5V1214.6M1639.65 1233.5V1179.3M1642.10 1233.5V1203.7M1644.55 1233.5V1214.9M1647.00 1233.5V1204.3M1649.45 1233.5V1204.4M1651.90 1233.5V1205.4M1654.35 1233.5V1212.1M1656.80 1233.5V1194.2M1659.25 1233.5V1196.9M1661.70 1233.5V1174.5M1664.15 1233.5V1202.0M1666.60 1233.5V1191.5M1669.05 1233.5V1208.3M1671.50 1233.5V1198.5M1673.95 1233.5V1192.2M1676.40 1233.5V1196.4M1678.85 1233.5V1204.7M1681.30 1233.5V1197.6M1683.75 1233.5V1211.1M1686.20 1233.5V1167.6M1688.65 1233.5V1204.5M1691.10 1233.5V1195.5M1693.55 1233.5V1207.0M1696.00 1233.5V1204.8M1698.45 1233.5V1212.1M1700.90 1233.5V1200.7M1703.35 1233.5V1206.8M1705.80 1233.5V1209.4M1708.25 1233.5V1204.9M1710.70 1233.5V1202.5M1713.15 1233.5V1192.8M1715.60 1233.5V1202.6M1718.05 1233.5V1211.2M1720.50 1233.5V1210.6M1722.95 1233.5V1213.8M1725.40 1233.5V1207.5M1727.85 1233.5V1216.5M1730.30 1233.5V1216.6M1732.75 1233.5V1211.1M1735.20 1233.5V1211.3M1737.65 1233.5V1213.2M1740.10 1233.5V1205.7M1742.55 1233.5V1193.8M1745.00 1233.5V1209.4M1747.45 1233.5V1209.4M1749.90 1233.5V1216.4M1752.35 1233.5V1212.2M1754.80 1233.5V1207.5M1757.25 1233.5V1214.0M1759.70 1233.5V1204.6M1762.15 1233.5V1199.5M1764.60 1233.5V1204.5M1767.05 1233.5V1204.5M1769.50 1233.5V1213.1M1771.95 1233.5V1211.5M1774.40 1233.5V1202.2M1776.85 1233.5V1196.6M1779.30 1233.5V1180.0M1781.75 1233.5V1211.4M1784.20 1233.5V1197.2M1786.65 1233.5V1190.0M1789.10 1233.5V1206.0M1791.55 1233.5V1200.8M1794.00 1233.5V1203.4M1796.45 1233.5V1211.3M1798.90 1233.5V1206.7M1801.35 1233.5V1208.7M1803.80 1233.5V1212.1M1806.25 1233.5V1214.1M1808.70 1233.5V1174.0M1811.15 1233.5V1200.6M1813.60 1233.5V1211.6M1816.05 1233.5V1183.2M1818.50 1233.5V1203.4M1820.95 1233.5V1204.2M1823.40 1233.5V1203.6M1825.85 1233.5V1193.7M1828.30 1233.5V1193.7M1830.75 1233.5V1195.4M1833.20 1233.5V1204.2M1835.65 1233.5V1194.8M1838.10 1233.5V1213.3M1840.55 1233.5V1207.6M1843.00 1233.5V1207.8M1845.45 1233.5V1212.2M1847.90 1233.5V1208.6M1850.35 1233.5V1212.6M1852.80 1233.5V1212.4M1855.25 1233.5V1216.0M1857.70 1233.5V1215.5M1860.15 1233.5V1206.6M1862.60 1233.5V1205.8M1865.05 1233.5V1203.7M1867.50 1233.5V1213.1M1869.95 1233.5V1209.6M1872.40 1233.5V1200.6M1874.85 1233.5V1207.2M1877.30 1233.5V1206.2M1879.75 1233.5V1208.2M1882.20 1233.5V1180.0M1884.65 1233.5V1197.0M1887.10 1233.5V1208.9M1889.55 1233.5V1195.6M1892.00 1233.5V1208.9M1894.45 1233.5V1200.6M1896.90 1233.5V1213.7M1899.35 1233.5V1199.1M1901.80 1233.5V1208.3M1904.25 1233.5V1200.5M1906.70 1233.5V1204.4M1909.15 1233.5V1213.2M1911.60 1233.5V1217.7M1914.05 1233.5V1207.0M1916.50 1233.5V1206.6M1918.95 1233.5V1215.9M1921.40 1233.5V1209.5M1923.85 1233.5V1208.1M1926.30 1233.5V1209.6M1928.75 1233.5V1189.3M1931.20 1233.5V1230.6M1933.65 1233.5V1230.0M1936.10 1233.5V1230.9M1938.55 1233.5V1230.1M1941.00 1233.5V1229.6M1943.45 1233.5V1229.9M1945.90 1233.5V1230.1M1948.35 1233.5V1229.0M1950.80 1233.5V1228.7M1953.25 1233.5V1230.2M1955.70 1233.5V1229.8M1958.15 1233.5V1225.9M1960.60 1233.5V1229.3M1963.05 1233.5V1230.8M1965.50 1233.5V1199.7M1967.95 1233.5V1203.4M1970.40 1233.5V1205.7M1972.85 1233.5V1210.3M1975.30 1233.5V1196.5M1977.75 1233.5V1183.7M1980.20 1233.5V1207.7M1982.65 1233.5V1202.6M1985.10 1233.5V1201.4M1987.55 1233.5V1191.3M1990.00 1233.5V1196.9M1992.45 1233.5V1196.2M1994.90 1233.5V1177.5M1997.35 1233.5V1173.5M1999.80 1233.5V1200.4M2002.25 1233.5V1155.5M2004.70 1233.5V1206.3M2007.15 1233.5V1196.7M2009.60 1233.5V1186.0M2012.05 1233.5V1188.9M2014.50 1233.5V1194.7M2016.95 1233.5V1195.8M2019.40 1233.5V1183.6M2021.85 1233.5V1184.5M2024.30 1233.5V1199.8M2026.75 1233.5V1193.4M2029.20 1233.5V1179.6M2031.65 1233.5V1195.9M2034.10 1233.5V1202.3M2036.55 1233.5V1185.7M2039.00 1233.5V1187.4M2041.45 1233.5V1180.5M2043.90 1233.5V1182.0M2046.35 1233.5V1181.6M2048.80 1233.5V1182.5M2051.25 1233.5V1198.1M2053.70 1233.5V1171.4M2056.15 1233.5V1180.1M2058.60 1233.5V1196.5M2061.05 1233.5V1195.6M2063.50 1233.5V1193.9M2065.95 1233.5V1177.9M2068.40 1233.5V1175.2M2070.85 1233.5V1185.2M2073.30 1233.5V1175.3M2075.75 1233.5V1165.0M2078.20 1233.5V1177.5M2080.65 1233.5V1182.3M2083.10 1233.5V1183.4M2085.55 1233.5V1186.2M2088.00 1233.5V1164.2M2090.45 1233.5V1155.5M2092.90 1233.5V1174.0M2095.35 1233.5V1176.9M2097.80 1233.5V1176.6" stroke="#000" stroke-width="2.15"/>
<path d="M766.3 1231.5H768.7M768.7 1231.5H771.2M771.2 1231.5H773.6M905.9 1231.5H908.4M908.4 1231.5H910.8M910.8 1231.5H913.3M1207.3 1231.5H1209.7M1209.7 1231.5H1212.2M1244.0 1231.5H1246.5M1246.5 1231.5H1248.9M1266.1 1231.5H1268.5M1268.5 1231.5H1271.0M1271.0 1231.5H1273.4M1366.5 1231.5H1369.0M1369.0 1231.5H1371.4M1371.4 1231.5H1373.9" stroke="#C464B8" stroke-width="4"/>
<rect x="340.3" y="1153.7" width="13.8" height="4.4" fill="#C464B8"/>
<rect x="334.4" y="1235" width="5" height="7.6" fill="#F7871B"/><rect x="338.6" y="1235" width="1.8" height="7.6" fill="#F7871B"/><rect x="343.8" y="1235" width="5" height="7.6" fill="#F7871B"/><rect x="348.7" y="1235" width="1.8" height="7.6" fill="#1F7FC0"/><rect x="363.5" y="1235" width="3" height="7.6" fill="#9E6CC0"/><rect x="367.1" y="1235" width="2" height="7.6" fill="#1E9E3A"/><rect x="368.4" y="1235" width="1.8" height="7.6" fill="#F7871B"/><rect x="380.7" y="1235" width="1.5" height="7.6" fill="#1F7FC0"/><rect x="388.1" y="1235" width="5" height="7.6" fill="#F7871B"/><rect x="400.1" y="1235" width="3" height="7.6" fill="#9E6CC0"/><rect x="407.1" y="1235" width="1.8" height="7.6" fill="#1F7FC0"/><rect x="412.0" y="1235" width="2.2" height="7.6" fill="#F7871B"/><rect x="412.5" y="1235" width="1.5" height="7.6" fill="#1F7FC0"/><rect x="415.5" y="1235" width="1.5" height="7.6" fill="#9E6CC0"/><rect x="423.8" y="1235" width="1.6" height="7.6" fill="#F7871B"/><rect x="426.3" y="1235" width="1.5" height="7.6" fill="#1F7FC0"/><rect x="443.8" y="1235" width="1.8" height="7.6" fill="#F7871B"/><rect x="449.9" y="1235" width="1.8" height="7.6" fill="#1F7FC0"/><rect x="451.3" y="1235" width="3" height="7.6" fill="#1E9E3A"/><rect x="457.3" y="1235" width="1.8" height="7.6" fill="#F7871B"/><rect x="458.4" y="1235" width="1.5" height="7.6" fill="#1F7FC0"/><rect x="458.6" y="1235" width="9" height="7.6" fill="#F7871B"/><rect x="470.7" y="1235" width="1.5" height="7.6" fill="#1F7FC0"/><rect x="478.0" y="1235" width="2.2" height="7.6" fill="#1F7FC0"/><rect x="479.1" y="1235" width="4" height="7.6" fill="#F7871B"/><rect x="480.4" y="1235" width="1.8" height="7.6" fill="#F7871B"/><rect x="494.2" y="1235" width="1.5" height="7.6" fill="#9E6CC0"/><rect x="497.2" y="1235" width="3" height="7.6" fill="#1F7FC0"/><rect x="497.3" y="1235" width="7" height="7.6" fill="#F7871B"/><rect x="503.4" y="1235" width="3" height="7.6" fill="#9E6CC0"/><rect x="503.8" y="1235" width="3" height="7.6" fill="#F7871B"/><rect x="504.1" y="1235" width="1.8" height="7.6" fill="#9E6CC0"/><rect x="506.8" y="1235" width="3" height="7.6" fill="#9E6CC0"/><rect x="509.3" y="1235" width="3" height="7.6" fill="#1F7FC0"/><rect x="536.5" y="1235" width="7" height="7.6" fill="#F7871B"/><rect x="544.4" y="1235" width="3" height="7.6" fill="#1F7FC0"/><rect x="547.0" y="1235" width="2" height="7.6" fill="#E8262B"/><rect x="558.0" y="1235" width="2.2" height="7.6" fill="#F7871B"/><rect x="559.3" y="1235" width="1.6" height="7.6" fill="#F7871B"/><rect x="584.2" y="1235" width="5" height="7.6" fill="#F7871B"/><rect x="585.1" y="1235" width="3" height="7.6" fill="#1F7FC0"/><rect x="587.9" y="1235" width="1.5" height="7.6" fill="#1F7FC0"/><rect x="591.8" y="1235" width="1.8" height="7.6" fill="#9E6CC0"/><rect x="595.2" y="1235" width="2.2" height="7.6" fill="#1F7FC0"/><rect x="597.1" y="1235" width="1.6" height="7.6" fill="#F7871B"/><rect x="600.0" y="1235" width="2.2" height="7.6" fill="#F7871B"/><rect x="600.7" y="1235" width="2.2" height="7.6" fill="#F7871B"/><rect x="606.4" y="1235" width="1.8" height="7.6" fill="#1F7FC0"/><rect x="607.6" y="1235" width="7" height="7.6" fill="#F7871B"/><rect x="610.9" y="1235" width="1.8" height="7.6" fill="#9E6CC0"/><rect x="613.4" y="1235" width="1.8" height="7.6" fill="#1F7FC0"/><rect x="615.2" y="1235" width="1.8" height="7.6" fill="#1F7FC0"/><rect x="635.1" y="1235" width="3" height="7.6" fill="#9E6CC0"/><rect x="641.3" y="1235" width="3" height="7.6" fill="#F7871B"/><rect x="644.9" y="1235" width="1.8" height="7.6" fill="#1F7FC0"/><rect x="659.4" y="1235" width="1.8" height="7.6" fill="#F7871B"/><rect x="664.8" y="1235" width="7" height="7.6" fill="#F7871B"/><rect x="665.0" y="1235" width="1.8" height="7.6" fill="#1F7FC0"/><rect x="667.6" y="1235" width="1.8" height="7.6" fill="#F7871B"/><rect x="675.9" y="1235" width="4" height="7.6" fill="#1E9E3A"/><rect x="677.4" y="1235" width="1.5" height="7.6" fill="#9E6CC0"/><rect x="683.2" y="1235" width="4" height="7.6" fill="#F7871B"/><rect x="684.7" y="1235" width="1.5" height="7.6" fill="#1F7FC0"/><rect x="686.5" y="1235" width="7" height="7.6" fill="#F7871B"/><rect x="688.8" y="1235" width="9" height="7.6" fill="#F7871B"/><rect x="699.2" y="1235" width="1.8" height="7.6" fill="#9E6CC0"/><rect x="718.6" y="1235" width="5" height="7.6" fill="#F7871B"/><rect x="726.5" y="1235" width="2.2" height="7.6" fill="#1F7FC0"/><rect x="742.4" y="1235" width="9" height="7.6" fill="#F7871B"/><rect x="744.4" y="1235" width="2" height="7.6" fill="#E8262B"/><rect x="745.9" y="1235" width="3" height="7.6" fill="#F7871B"/><rect x="754.6" y="1235" width="1.6" height="7.6" fill="#F7871B"/><rect x="761.1" y="1235" width="2.2" height="7.6" fill="#1F7FC0"/><rect x="762.3" y="1235" width="3" height="7.6" fill="#1E9E3A"/><rect x="768.2" y="1235" width="9" height="7.6" fill="#F7871B"/><rect x="777.0" y="1235" width="7" height="7.6" fill="#F7871B"/><rect x="784.7" y="1235" width="1.5" height="7.6" fill="#1F7FC0"/><rect x="785.6" y="1235" width="2" height="7.6" fill="#1E9E3A"/><rect x="800.1" y="1235" width="1.5" height="7.6" fill="#1F7FC0"/><rect x="825.7" y="1235" width="1.5" height="7.6" fill="#1F7FC0"/><rect x="836.7" y="1235" width="5" height="7.6" fill="#F7871B"/><rect x="846.4" y="1235" width="7" height="7.6" fill="#F7871B"/><rect x="890.3" y="1235" width="1.8" height="7.6" fill="#1F7FC0"/><rect x="892.6" y="1235" width="7" height="7.6" fill="#F7871B"/><rect x="896.7" y="1235" width="9" height="7.6" fill="#F7871B"/><rect x="901.7" y="1235" width="1.8" height="7.6" fill="#1F7FC0"/><rect x="905.6" y="1235" width="1.8" height="7.6" fill="#1F7FC0"/><rect x="910.3" y="1235" width="4" height="7.6" fill="#F7871B"/><rect x="911.6" y="1235" width="3" height="7.6" fill="#F7871B"/><rect x="917.1" y="1235" width="1.6" height="7.6" fill="#F7871B"/><rect x="918.4" y="1235" width="1.8" height="7.6" fill="#F7871B"/><rect x="920.0" y="1235" width="2.2" height="7.6" fill="#F7871B"/><rect x="928.1" y="1235" width="3" height="7.6" fill="#1F7FC0"/><rect x="930.0" y="1235" width="9" height="7.6" fill="#F7871B"/><rect x="931.0" y="1235" width="2.2" height="7.6" fill="#1F7FC0"/><rect x="932.0" y="1235" width="1.8" height="7.6" fill="#1F7FC0"/><rect x="934.8" y="1235" width="3" height="7.6" fill="#E8262B"/><rect x="942.7" y="1235" width="9" height="7.6" fill="#F7871B"/><rect x="955.6" y="1235" width="3" height="7.6" fill="#F7871B"/><rect x="956.4" y="1235" width="5" height="7.6" fill="#F7871B"/><rect x="961.1" y="1235" width="4" height="7.6" fill="#F7871B"/><rect x="963.6" y="1235" width="4" height="7.6" fill="#F7871B"/><rect x="967.8" y="1235" width="5" height="7.6" fill="#F7871B"/><rect x="971.9" y="1235" width="2.2" height="7.6" fill="#1F7FC0"/><rect x="973.2" y="1235" width="1.6" height="7.6" fill="#F7871B"/><rect x="977.6" y="1235" width="3" height="7.6" fill="#9E6CC0"/><rect x="978.2" y="1235" width="2.2" height="7.6" fill="#1F7FC0"/><rect x="979.0" y="1235" width="3" height="7.6" fill="#1F7FC0"/><rect x="983.7" y="1235" width="2" height="7.6" fill="#1E9E3A"/><rect x="986.8" y="1235" width="4" height="7.6" fill="#F7871B"/><rect x="993.7" y="1235" width="2.2" height="7.6" fill="#9E6CC0"/><rect x="1001.2" y="1235" width="1.6" height="7.6" fill="#F7871B"/><rect x="1001.3" y="1235" width="2.2" height="7.6" fill="#F7871B"/><rect x="1003.8" y="1235" width="2.2" height="7.6" fill="#F7871B"/><rect x="1004.5" y="1235" width="2.2" height="7.6" fill="#1F7FC0"/><rect x="1014.0" y="1235" width="2.2" height="7.6" fill="#F7871B"/><rect x="1021.3" y="1235" width="3" height="7.6" fill="#F7871B"/><rect x="1024.6" y="1235" width="2.2" height="7.6" fill="#1F7FC0"/><rect x="1037.3" y="1235" width="1.6" height="7.6" fill="#F7871B"/><rect x="1037.6" y="1235" width="3" height="7.6" fill="#1F7FC0"/><rect x="1054.1" y="1235" width="3" height="7.6" fill="#9E6CC0"/><rect x="1057.9" y="1235" width="2" height="7.6" fill="#1E9E3A"/><rect x="1059.0" y="1235" width="2.2" height="7.6" fill="#F7871B"/><rect x="1063.1" y="1235" width="1.5" height="7.6" fill="#9E6CC0"/><rect x="1090.1" y="1235" width="3" height="7.6" fill="#E8262B"/><rect x="1091.9" y="1235" width="1.6" height="7.6" fill="#F7871B"/><rect x="1104.7" y="1235" width="3" height="7.6" fill="#E8262B"/><rect x="1107.1" y="1235" width="3" height="7.6" fill="#1F7FC0"/><rect x="1122.6" y="1235" width="1.6" height="7.6" fill="#F7871B"/><rect x="1130.2" y="1235" width="6" height="7.6" fill="#E8262B"/><rect x="1132.7" y="1235" width="2.2" height="7.6" fill="#1F7FC0"/><rect x="1138.6" y="1235" width="2.2" height="7.6" fill="#1F7FC0"/><rect x="1143.6" y="1235" width="1.8" height="7.6" fill="#1F7FC0"/><rect x="1169.3" y="1235" width="1.5" height="7.6" fill="#9E6CC0"/><rect x="1181.0" y="1235" width="5" height="7.6" fill="#F7871B"/><rect x="1187.5" y="1235" width="7" height="7.6" fill="#F7871B"/><rect x="1208.9" y="1235" width="1.8" height="7.6" fill="#1F7FC0"/><rect x="1211.4" y="1235" width="1.6" height="7.6" fill="#F7871B"/><rect x="1224.6" y="1235" width="9" height="7.6" fill="#F7871B"/><rect x="1232.8" y="1235" width="5" height="7.6" fill="#F7871B"/><rect x="1238.5" y="1235" width="2.2" height="7.6" fill="#9E6CC0"/><rect x="1243.8" y="1235" width="3" height="7.6" fill="#1F7FC0"/><rect x="1245.9" y="1235" width="3" height="7.6" fill="#F7871B"/><rect x="1251.5" y="1235" width="4" height="7.6" fill="#F7871B"/><rect x="1258.8" y="1235" width="4" height="7.6" fill="#F7871B"/><rect x="1267.4" y="1235" width="9" height="7.6" fill="#F7871B"/><rect x="1269.2" y="1235" width="1.5" height="7.6" fill="#1F7FC0"/><rect x="1278.6" y="1235" width="1.5" height="7.6" fill="#9E6CC0"/><rect x="1291.9" y="1235" width="3" height="7.6" fill="#1F7FC0"/><rect x="1292.9" y="1235" width="1.5" height="7.6" fill="#1F7FC0"/><rect x="1299.8" y="1235" width="1.5" height="7.6" fill="#9E6CC0"/><rect x="1304.1" y="1235" width="1.8" height="7.6" fill="#1F7FC0"/><rect x="1328.2" y="1235" width="9" height="7.6" fill="#F7871B"/><rect x="1338.6" y="1235" width="1.6" height="7.6" fill="#F7871B"/><rect x="1342.3" y="1235" width="1.6" height="7.6" fill="#F7871B"/><rect x="1342.4" y="1235" width="1.8" height="7.6" fill="#1F7FC0"/><rect x="1346.7" y="1235" width="2.2" height="7.6" fill="#F7871B"/><rect x="1350.6" y="1235" width="1.8" height="7.6" fill="#9E6CC0"/><rect x="1356.4" y="1235" width="2.2" height="7.6" fill="#9E6CC0"/><rect x="1357.7" y="1235" width="2" height="7.6" fill="#1E9E3A"/><rect x="1369.9" y="1235" width="5" height="7.6" fill="#F7871B"/><rect x="1374.9" y="1235" width="2.2" height="7.6" fill="#1F7FC0"/><rect x="1383.9" y="1235" width="5" height="7.6" fill="#F7871B"/><rect x="1384.6" y="1235" width="1.5" height="7.6" fill="#1F7FC0"/><rect x="1384.9" y="1235" width="1.8" height="7.6" fill="#9E6CC0"/><rect x="1386.9" y="1235" width="9" height="7.6" fill="#F7871B"/><rect x="1387.1" y="1235" width="3" height="7.6" fill="#9E6CC0"/><rect x="1387.9" y="1235" width="1.8" height="7.6" fill="#F7871B"/><rect x="1388.4" y="1235" width="2.2" height="7.6" fill="#F7871B"/><rect x="1394.1" y="1235" width="7" height="7.6" fill="#F7871B"/><rect x="1406.8" y="1235" width="2.2" height="7.6" fill="#1F7FC0"/><rect x="1412.2" y="1235" width="2.2" height="7.6" fill="#1F7FC0"/><rect x="1433.0" y="1235" width="5" height="7.6" fill="#F7871B"/><rect x="1469.4" y="1235" width="3" height="7.6" fill="#1F7FC0"/><rect x="1483.8" y="1235" width="2" height="7.6" fill="#1E9E3A"/><rect x="1485.2" y="1235" width="6" height="7.6" fill="#E8262B"/><rect x="1509.2" y="1235" width="3" height="7.6" fill="#1F7FC0"/><rect x="1512.7" y="1235" width="4" height="7.6" fill="#E8262B"/><rect x="1515.5" y="1235" width="2.2" height="7.6" fill="#F7871B"/><rect x="1521.7" y="1235" width="2.2" height="7.6" fill="#F7871B"/><rect x="1533.7" y="1235" width="6" height="7.6" fill="#1E9E3A"/><rect x="1537.2" y="1235" width="1.6" height="7.6" fill="#F7871B"/><rect x="1540.0" y="1235" width="1.8" height="7.6" fill="#1F7FC0"/><rect x="1540.2" y="1235" width="1.5" height="7.6" fill="#1F7FC0"/><rect x="1547.1" y="1235" width="4" height="7.6" fill="#1E9E3A"/><rect x="1550.5" y="1235" width="4" height="7.6" fill="#F7871B"/><rect x="1553.6" y="1235" width="1.8" height="7.6" fill="#1F7FC0"/><rect x="1587.6" y="1235" width="1.8" height="7.6" fill="#F7871B"/><rect x="1602.0" y="1235" width="4" height="7.6" fill="#1E9E3A"/><rect x="1613.0" y="1235" width="3" height="7.6" fill="#1E9E3A"/><rect x="1621.0" y="1235" width="5" height="7.6" fill="#F7871B"/><rect x="1630.4" y="1235" width="1.8" height="7.6" fill="#1F7FC0"/><rect x="1633.4" y="1235" width="3" height="7.6" fill="#1F7FC0"/><rect x="1636.3" y="1235" width="2.2" height="7.6" fill="#1F7FC0"/><rect x="1651.3" y="1235" width="3" height="7.6" fill="#1E9E3A"/><rect x="1662.9" y="1235" width="1.8" height="7.6" fill="#9E6CC0"/><rect x="1664.0" y="1235" width="9" height="7.6" fill="#F7871B"/><rect x="1667.6" y="1235" width="4" height="7.6" fill="#F7871B"/><rect x="1686.1" y="1235" width="1.8" height="7.6" fill="#1F7FC0"/><rect x="1688.7" y="1235" width="5" height="7.6" fill="#F7871B"/><rect x="1689.2" y="1235" width="1.8" height="7.6" fill="#F7871B"/><rect x="1695.3" y="1235" width="5" height="7.6" fill="#F7871B"/><rect x="1726.0" y="1235" width="7" height="7.6" fill="#F7871B"/><rect x="1734.9" y="1235" width="3" height="7.6" fill="#9E6CC0"/><rect x="1737.6" y="1235" width="4" height="7.6" fill="#F7871B"/><rect x="1743.2" y="1235" width="3" height="7.6" fill="#1E9E3A"/><rect x="1751.7" y="1235" width="7" height="7.6" fill="#F7871B"/><rect x="1755.9" y="1235" width="2.2" height="7.6" fill="#9E6CC0"/><rect x="1769.8" y="1235" width="1.8" height="7.6" fill="#1F7FC0"/><rect x="1771.8" y="1235" width="2.2" height="7.6" fill="#F7871B"/><rect x="1778.2" y="1235" width="5" height="7.6" fill="#F7871B"/><rect x="1787.1" y="1235" width="4" height="7.6" fill="#F7871B"/><rect x="1792.5" y="1235" width="2" height="7.6" fill="#E8262B"/><rect x="1794.1" y="1235" width="1.6" height="7.6" fill="#F7871B"/><rect x="1801.5" y="1235" width="5" height="7.6" fill="#F7871B"/><rect x="1802.8" y="1235" width="2" height="7.6" fill="#E8262B"/><rect x="1809.7" y="1235" width="9" height="7.6" fill="#F7871B"/><rect x="1840.6" y="1235" width="9" height="7.6" fill="#F7871B"/><rect x="1855.0" y="1235" width="5" height="7.6" fill="#F7871B"/><rect x="1860.8" y="1235" width="1.5" height="7.6" fill="#9E6CC0"/><rect x="1864.6" y="1235" width="2.2" height="7.6" fill="#1F7FC0"/><rect x="1865.8" y="1235" width="3" height="7.6" fill="#F7871B"/><rect x="1866.9" y="1235" width="4" height="7.6" fill="#1E9E3A"/><rect x="1878.6" y="1235" width="1.8" height="7.6" fill="#1F7FC0"/><rect x="1886.1" y="1235" width="2.2" height="7.6" fill="#1F7FC0"/><rect x="1888.0" y="1235" width="3" height="7.6" fill="#1F7FC0"/><rect x="1898.1" y="1235" width="6" height="7.6" fill="#1E9E3A"/><rect x="1903.8" y="1235" width="4" height="7.6" fill="#F7871B"/><rect x="1904.8" y="1235" width="9" height="7.6" fill="#F7871B"/><rect x="1905.5" y="1235" width="3" height="7.6" fill="#1E9E3A"/><rect x="1973.3" y="1235" width="2.2" height="7.6" fill="#F7871B"/><rect x="1989.6" y="1235" width="2" height="7.6" fill="#E8262B"/><rect x="1992.6" y="1235" width="3" height="7.6" fill="#1F7FC0"/><rect x="2020.9" y="1235" width="2.2" height="7.6" fill="#1F7FC0"/><rect x="2037.1" y="1235" width="3" height="7.6" fill="#F7871B"/><rect x="2039.8" y="1235" width="1.5" height="7.6" fill="#9E6CC0"/><rect x="2047.4" y="1235" width="7" height="7.6" fill="#F7871B"/><rect x="2055.2" y="1235" width="3" height="7.6" fill="#F7871B"/><rect x="2061.0" y="1235" width="7" height="7.6" fill="#F7871B"/><rect x="2081.3" y="1235" width="1.8" height="7.6" fill="#1F7FC0"/><rect x="2081.5" y="1235" width="7" height="7.6" fill="#F7871B"/><rect x="2083.5" y="1235" width="5" height="7.6" fill="#F7871B"/><rect x="2093.4" y="1235" width="2.2" height="7.6" fill="#1F7FC0"/><rect x="350.7" y="1245.6" width="2.2" height="7.6" fill="#9E6CC0"/><rect x="370.2" y="1245.6" width="3" height="7.6" fill="#9E6CC0"/><rect x="462.7" y="1245.6" width="3" height="7.6" fill="#F7871B"/><rect x="472.7" y="1245.6" width="5" height="7.6" fill="#F7871B"/><rect x="534.4" y="1245.6" width="3" height="7.6" fill="#F7871B"/><rect x="568.8" y="1245.6" width="5" height="7.6" fill="#1F7FC0"/><rect x="576.0" y="1245.6" width="2.2" height="7.6" fill="#F7871B"/><rect x="633.2" y="1245.6" width="1.8" height="7.6" fill="#1E9E3A"/><rect x="678.6" y="1245.6" width="2.2" height="7.6" fill="#E8262B"/><rect x="695.7" y="1245.6" width="3" height="7.6" fill="#F7871B"/><rect x="730.3" y="1245.6" width="2.2" height="7.6" fill="#1E9E3A"/><rect x="840.2" y="1245.6" width="3" height="7.6" fill="#F7871B"/><rect x="845.1" y="1245.6" width="1.8" height="7.6" fill="#1E9E3A"/><rect x="886.9" y="1245.6" width="5" height="7.6" fill="#1F7FC0"/><rect x="889.7" y="1245.6" width="5" height="7.6" fill="#F7871B"/><rect x="953.8" y="1245.6" width="1.8" height="7.6" fill="#9E6CC0"/><rect x="980.2" y="1245.6" width="1.8" height="7.6" fill="#F7871B"/><rect x="981.4" y="1245.6" width="2.2" height="7.6" fill="#1F7FC0"/><rect x="1007.0" y="1245.6" width="1.8" height="7.6" fill="#1F7FC0"/><rect x="1008.5" y="1245.6" width="1.8" height="7.6" fill="#9E6CC0"/><rect x="1071.8" y="1245.6" width="5" height="7.6" fill="#F7871B"/><rect x="1177.6" y="1245.6" width="1.8" height="7.6" fill="#1F7FC0"/><rect x="1183.5" y="1245.6" width="2.2" height="7.6" fill="#1F7FC0"/><rect x="1213.6" y="1245.6" width="1.8" height="7.6" fill="#1F7FC0"/><rect x="1236.2" y="1245.6" width="1.8" height="7.6" fill="#E8262B"/><rect x="1249.1" y="1245.6" width="2.2" height="7.6" fill="#F7871B"/><rect x="1288.5" y="1245.6" width="2.2" height="7.6" fill="#F7871B"/><rect x="1289.0" y="1245.6" width="1.8" height="7.6" fill="#F7871B"/><rect x="1295.6" y="1245.6" width="7" height="7.6" fill="#F7871B"/><rect x="1386.6" y="1245.6" width="3" height="7.6" fill="#F7871B"/><rect x="1421.6" y="1245.6" width="7" height="7.6" fill="#1F7FC0"/><rect x="1431.5" y="1245.6" width="5" height="7.6" fill="#F7871B"/><rect x="1552.7" y="1245.6" width="3" height="7.6" fill="#E8262B"/><rect x="1567.9" y="1245.6" width="5" height="7.6" fill="#F7871B"/><rect x="1582.4" y="1245.6" width="5" height="7.6" fill="#F7871B"/><rect x="1646.5" y="1245.6" width="1.8" height="7.6" fill="#1E9E3A"/><rect x="1654.7" y="1245.6" width="3" height="7.6" fill="#1F7FC0"/><rect x="1690.1" y="1245.6" width="2.2" height="7.6" fill="#1E9E3A"/><rect x="1742.5" y="1245.6" width="1.8" height="7.6" fill="#1F7FC0"/><rect x="1798.1" y="1245.6" width="1.8" height="7.6" fill="#1E9E3A"/><rect x="1813.7" y="1245.6" width="5" height="7.6" fill="#1F7FC0"/><rect x="1837.6" y="1245.6" width="7" height="7.6" fill="#F7871B"/><rect x="1837.6" y="1245.6" width="5" height="7.6" fill="#1E9E3A"/><rect x="1859.0" y="1245.6" width="5" height="7.6" fill="#1F7FC0"/><rect x="1867.0" y="1245.6" width="5" height="7.6" fill="#1F7FC0"/><rect x="1880.2" y="1245.6" width="7" height="7.6" fill="#F7871B"/><rect x="1889.5" y="1245.6" width="3" height="7.6" fill="#1F7FC0"/><rect x="1891.7" y="1245.6" width="2.2" height="7.6" fill="#1E9E3A"/><rect x="1969.0" y="1245.6" width="3" height="7.6" fill="#1E9E3A"/><rect x="2040.9" y="1245.6" width="3" height="7.6" fill="#1F7FC0"/><rect x="2063.0" y="1245.6" width="2.2" height="7.6" fill="#1F7FC0"/>
<rect x="427" y="1245.6" width="4.5" height="7.6" fill="#1E9E3A"/><rect x="433" y="1245.6" width="3.0" height="7.6" fill="#F7871B"/><rect x="445" y="1245.6" width="2.0" height="7.6" fill="#1F7FC0"/><rect x="467" y="1245.6" width="7.0" height="7.6" fill="#F7871B"/><rect x="475" y="1245.6" width="2.5" height="7.6" fill="#9E6CC0"/><rect x="578" y="1245.6" width="2.6" height="7.6" fill="#1F7FC0"/><rect x="593.3" y="1245.6" width="3.5" height="7.6" fill="#1F7FC0"/><rect x="647.4" y="1245.6" width="4.9" height="7.6" fill="#F7871B"/><rect x="658" y="1245.6" width="3.0" height="7.6" fill="#1F7FC0"/><rect x="728" y="1245.6" width="6.0" height="7.6" fill="#F7871B"/><rect x="745" y="1245.6" width="5.0" height="7.6" fill="#F7871B"/><rect x="847" y="1245.6" width="9.0" height="7.6" fill="#F7871B"/><rect x="858" y="1245.6" width="4.0" height="7.6" fill="#F7871B"/><rect x="873" y="1245.6" width="4.0" height="7.6" fill="#1E9E3A"/><rect x="880" y="1245.6" width="4.0" height="7.6" fill="#F7871B"/><rect x="888" y="1245.6" width="5.0" height="7.6" fill="#1E9E3A"/><rect x="936" y="1245.6" width="14.0" height="7.6" fill="#F7871B"/><rect x="1014" y="1245.6" width="3.0" height="7.6" fill="#1F7FC0"/><rect x="1057" y="1245.6" width="9.0" height="7.6" fill="#F7871B"/><rect x="1070" y="1245.6" width="7.0" height="7.6" fill="#F7871B"/><rect x="1087" y="1245.6" width="16.0" height="7.6" fill="#F7871B"/><rect x="1138" y="1245.6" width="14.0" height="7.6" fill="#F7871B"/><rect x="1170" y="1245.6" width="10.0" height="7.6" fill="#F7871B"/><rect x="1250" y="1245.6" width="3.0" height="7.6" fill="#9E6CC0"/><rect x="1379" y="1245.6" width="13.0" height="7.6" fill="#F7871B"/><rect x="1395" y="1245.6" width="5.0" height="7.6" fill="#F7871B"/><rect x="1415" y="1245.6" width="6.0" height="7.6" fill="#F7871B"/><rect x="1425" y="1245.6" width="3.0" height="7.6" fill="#1F7FC0"/><rect x="1432" y="1245.6" width="5.0" height="7.6" fill="#1E9E3A"/><rect x="1440" y="1245.6" width="5.0" height="7.6" fill="#1E9E3A"/><rect x="1476" y="1245.6" width="3.0" height="7.6" fill="#1F7FC0"/><rect x="1486" y="1245.6" width="3.0" height="7.6" fill="#1F7FC0"/><rect x="1691" y="1245.6" width="6.0" height="7.6" fill="#F7871B"/><rect x="1700" y="1245.6" width="5.0" height="7.6" fill="#1F7FC0"/><rect x="1707" y="1245.6" width="8.0" height="7.6" fill="#E8262B"/><rect x="1719" y="1245.6" width="3.0" height="7.6" fill="#E8262B"/><rect x="1728" y="1245.6" width="7.0" height="7.6" fill="#1F7FC0"/><rect x="1737" y="1245.6" width="5.0" height="7.6" fill="#1F7FC0"/><rect x="1768" y="1245.6" width="6.0" height="7.6" fill="#1E9E3A"/><rect x="1790" y="1245.6" width="10.0" height="7.6" fill="#F7871B"/><rect x="1810" y="1245.6" width="14.0" height="7.6" fill="#F7871B"/><rect x="1826" y="1245.6" width="8.0" height="7.6" fill="#F7871B"/>
<path d="M663.5 1249.5 H703 M1775 1249.5 H1810 M1150 1249.5 H1172 M1088 1249.5 L1092 1246.5 M1088 1249.5 L1092 1252.5" stroke="#000" stroke-width="1.6"/>
<rect x="1701" y="1256" width="3" height="8" fill="#1E9E3A"/><rect x="1706" y="1256" width="3" height="8" fill="#E8262B"/><rect x="1716" y="1256" width="2.5" height="8" fill="#F7871B"/>
<path d="M655 1238.8 H728 M1395 1238.8 H1450 M1670 1238.8 H1720 M2000 1238.8 H2030" stroke="#000" stroke-width="1.4"/>
<rect x="663" y="1255.8" width="39" height="8.5" fill="#F7871B"/><rect x="706" y="1255.8" width="2.6" height="8.5" fill="#1F7FC0"/><rect x="710" y="1255.8" width="1.8" height="8.5" fill="#1F7FC0"/><rect x="712.3" y="1255.8" width="2.4" height="8.5" fill="#E8262B"/><rect x="719.6" y="1255.8" width="6.2" height="8.5" fill="#F7871B"/>
<path d="M672 1257 L668.5 1260 L672 1263 M683 1257 L679.5 1260 L683 1263 M696 1257 L692.5 1260 L696 1263" fill="none" stroke="#000" stroke-width="1.6"/>
<rect x="580.1" y="1235" width="12.5" height="7.6" fill="#E8262B"/><rect x="597.6" y="1235" width="11.2" height="7.6" fill="#F7871B"/><rect x="610" y="1235" width="18.7" height="7.6" fill="#E8262B"/><rect x="638.6" y="1235" width="7.5" height="7.6" fill="#E8262B"/><rect x="652.3" y="1235" width="6.3" height="7.6" fill="#F7871B"/><rect x="728.3" y="1235" width="7.4" height="7.6" fill="#F7871B"/><rect x="754.4" y="1235" width="5" height="7.6" fill="#E8262B"/>
<path d="M589.5 1236.2 L586.5 1238.8 L589.5 1241.4 M619.5 1236.2 L616.5 1238.8 L619.5 1241.4 M644 1236.2 L641 1238.8 L644 1241.4" fill="none" stroke="#fff" stroke-width="1.4"/>
<path d="M592.6 1238.8 H597.6 M646.1 1238.8 H652.3 M724.5 1236 L728 1238.8 L724.5 1241.6" fill="none" stroke="#000" stroke-width="1.4"/>
<rect x="1768" y="1245.6" width="0" height="0" fill="none"/><rect x="1768" y="1245.6" width="8" height="7.6" fill="#F7871B"/><rect x="1810" y="1245.6" width="14" height="7.6" fill="#F7871B"/>
<rect x="668" y="1267" width="2" height="7.5" fill="#1F7FC0"/><rect x="676" y="1267" width="2" height="7.5" fill="#1F7FC0"/><rect x="680" y="1267" width="2" height="7.5" fill="#1F7FC0"/>
<path d="M347.5 1287.3 H1916" stroke="#0C2B66" stroke-width="1.3"/>
<path d="M356.0 1283.6L360.8 1287.3L356.0 1291.0M366.9 1283.6L371.7 1287.3L366.9 1291.0M377.9 1283.6L382.7 1287.3L377.9 1291.0M388.8 1283.6L393.6 1287.3L388.8 1291.0M399.7 1283.6L404.5 1287.3L399.7 1291.0M410.7 1283.6L415.5 1287.3L410.7 1291.0M421.6 1283.6L426.4 1287.3L421.6 1291.0M432.5 1283.6L437.3 1287.3L432.5 1291.0M443.4 1283.6L448.2 1287.3L443.4 1291.0M454.4 1283.6L459.2 1287.3L454.4 1291.0M465.3 1283.6L470.1 1287.3L465.3 1291.0M476.2 1283.6L481.0 1287.3L476.2 1291.0M487.2 1283.6L492.0 1287.3L487.2 1291.0M498.1 1283.6L502.9 1287.3L498.1 1291.0M509.0 1283.6L513.8 1287.3L509.0 1291.0M520.0 1283.6L524.8 1287.3L520.0 1291.0M530.9 1283.6L535.7 1287.3L530.9 1291.0M541.8 1283.6L546.6 1287.3L541.8 1291.0M552.7 1283.6L557.5 1287.3L552.7 1291.0M563.7 1283.6L568.5 1287.3L563.7 1291.0M574.6 1283.6L579.4 1287.3L574.6 1291.0M585.5 1283.6L590.3 1287.3L585.5 1291.0M596.5 1283.6L601.3 1287.3L596.5 1291.0M607.4 1283.6L612.2 1287.3L607.4 1291.0M618.3 1283.6L623.1 1287.3L618.3 1291.0M629.2 1283.6L634.0 1287.3L629.2 1291.0M640.2 1283.6L645.0 1287.3L640.2 1291.0M651.1 1283.6L655.9 1287.3L651.1 1291.0M662.0 1283.6L666.8 1287.3L662.0 1291.0M673.0 1283.6L677.8 1287.3L673.0 1291.0M683.9 1283.6L688.7 1287.3L683.9 1291.0M694.8 1283.6L699.6 1287.3L694.8 1291.0M705.8 1283.6L710.6 1287.3L705.8 1291.0M716.7 1283.6L721.5 1287.3L716.7 1291.0M727.6 1283.6L732.4 1287.3L727.6 1291.0M738.5 1283.6L743.3 1287.3L738.5 1291.0M749.5 1283.6L754.3 1287.3L749.5 1291.0M760.4 1283.6L765.2 1287.3L760.4 1291.0M771.3 1283.6L776.1 1287.3L771.3 1291.0M782.3 1283.6L787.1 1287.3L782.3 1291.0M793.2 1283.6L798.0 1287.3L793.2 1291.0M804.1 1283.6L808.9 1287.3L804.1 1291.0M815.1 1283.6L819.9 1287.3L815.1 1291.0M826.0 1283.6L830.8 1287.3L826.0 1291.0M836.9 1283.6L841.7 1287.3L836.9 1291.0M847.8 1283.6L852.6 1287.3L847.8 1291.0M858.8 1283.6L863.6 1287.3L858.8 1291.0M869.7 1283.6L874.5 1287.3L869.7 1291.0M880.6 1283.6L885.4 1287.3L880.6 1291.0M891.6 1283.6L896.4 1287.3L891.6 1291.0M902.5 1283.6L907.3 1287.3L902.5 1291.0M913.4 1283.6L918.2 1287.3L913.4 1291.0M924.4 1283.6L929.2 1287.3L924.4 1291.0M935.3 1283.6L940.1 1287.3L935.3 1291.0M946.2 1283.6L951.0 1287.3L946.2 1291.0M957.1 1283.6L961.9 1287.3L957.1 1291.0M968.1 1283.6L972.9 1287.3L968.1 1291.0M979.0 1283.6L983.8 1287.3L979.0 1291.0M989.9 1283.6L994.7 1287.3L989.9 1291.0M1000.9 1283.6L1005.7 1287.3L1000.9 1291.0M1011.8 1283.6L1016.6 1287.3L1011.8 1291.0M1022.7 1283.6L1027.5 1287.3L1022.7 1291.0M1033.7 1283.6L1038.5 1287.3L1033.7 1291.0M1044.6 1283.6L1049.4 1287.3L1044.6 1291.0M1055.5 1283.6L1060.3 1287.3L1055.5 1291.0M1066.4 1283.6L1071.2 1287.3L1066.4 1291.0M1077.4 1283.6L1082.2 1287.3L1077.4 1291.0M1088.3 1283.6L1093.1 1287.3L1088.3 1291.0M1099.2 1283.6L1104.0 1287.3L1099.2 1291.0M1110.2 1283.6L1115.0 1287.3L1110.2 1291.0M1121.1 1283.6L1125.9 1287.3L1121.1 1291.0M1132.0 1283.6L1136.8 1287.3L1132.0 1291.0M1143.0 1283.6L1147.8 1287.3L1143.0 1291.0M1153.9 1283.6L1158.7 1287.3L1153.9 1291.0M1164.8 1283.6L1169.6 1287.3L1164.8 1291.0M1175.7 1283.6L1180.5 1287.3L1175.7 1291.0M1186.7 1283.6L1191.5 1287.3L1186.7 1291.0M1197.6 1283.6L1202.4 1287.3L1197.6 1291.0M1208.5 1283.6L1213.3 1287.3L1208.5 1291.0M1219.5 1283.6L1224.3 1287.3L1219.5 1291.0M1230.4 1283.6L1235.2 1287.3L1230.4 1291.0M1241.3 1283.6L1246.1 1287.3L1241.3 1291.0M1252.3 1283.6L1257.1 1287.3L1252.3 1291.0M1263.2 1283.6L1268.0 1287.3L1263.2 1291.0M1274.1 1283.6L1278.9 1287.3L1274.1 1291.0M1285.0 1283.6L1289.8 1287.3L1285.0 1291.0M1296.0 1283.6L1300.8 1287.3L1296.0 1291.0M1317.8 1283.6L1322.6 1287.3L1317.8 1291.0M1328.8 1283.6L1333.6 1287.3L1328.8 1291.0M1339.7 1283.6L1344.5 1287.3L1339.7 1291.0M1350.6 1283.6L1355.4 1287.3L1350.6 1291.0M1361.6 1283.6L1366.4 1287.3L1361.6 1291.0M1372.5 1283.6L1377.3 1287.3L1372.5 1291.0M1383.4 1283.6L1388.2 1287.3L1383.4 1291.0M1394.4 1283.6L1399.2 1287.3L1394.4 1291.0M1405.3 1283.6L1410.1 1287.3L1405.3 1291.0M1416.2 1283.6L1421.0 1287.3L1416.2 1291.0M1427.1 1283.6L1431.9 1287.3L1427.1 1291.0M1438.1 1283.6L1442.9 1287.3L1438.1 1291.0M1449.0 1283.6L1453.8 1287.3L1449.0 1291.0M1459.9 1283.6L1464.7 1287.3L1459.9 1291.0M1470.9 1283.6L1475.7 1287.3L1470.9 1291.0M1481.8 1283.6L1486.6 1287.3L1481.8 1291.0M1492.7 1283.6L1497.5 1287.3L1492.7 1291.0M1503.7 1283.6L1508.5 1287.3L1503.7 1291.0M1514.6 1283.6L1519.4 1287.3L1514.6 1291.0M1525.5 1283.6L1530.3 1287.3L1525.5 1291.0M1536.4 1283.6L1541.2 1287.3L1536.4 1291.0M1547.4 1283.6L1552.2 1287.3L1547.4 1291.0M1558.3 1283.6L1563.1 1287.3L1558.3 1291.0M1569.2 1283.6L1574.0 1287.3L1569.2 1291.0M1580.2 1283.6L1585.0 1287.3L1580.2 1291.0M1591.1 1283.6L1595.9 1287.3L1591.1 1291.0M1602.0 1283.6L1606.8 1287.3L1602.0 1291.0M1613.0 1283.6L1617.8 1287.3L1613.0 1291.0M1623.9 1283.6L1628.7 1287.3L1623.9 1291.0M1634.8 1283.6L1639.6 1287.3L1634.8 1291.0M1645.7 1283.6L1650.5 1287.3L1645.7 1291.0M1667.6 1283.6L1672.4 1287.3L1667.6 1291.0M1689.5 1283.6L1694.3 1287.3L1689.5 1291.0M1700.4 1283.6L1705.2 1287.3L1700.4 1291.0M1711.3 1283.6L1716.1 1287.3L1711.3 1291.0M1722.3 1283.6L1727.1 1287.3L1722.3 1291.0M1733.2 1283.6L1738.0 1287.3L1733.2 1291.0M1755.0 1283.6L1759.8 1287.3L1755.0 1291.0M1766.0 1283.6L1770.8 1287.3L1766.0 1291.0M1776.9 1283.6L1781.7 1287.3L1776.9 1291.0M1787.8 1283.6L1792.6 1287.3L1787.8 1291.0M1809.7 1283.6L1814.5 1287.3L1809.7 1291.0M1820.6 1283.6L1825.4 1287.3L1820.6 1291.0M1831.6 1283.6L1836.4 1287.3L1831.6 1291.0M1853.4 1283.6L1858.2 1287.3L1853.4 1291.0M1864.3 1283.6L1869.1 1287.3L1864.3 1291.0M1886.2 1283.6L1891.0 1287.3L1886.2 1291.0M1908.1 1283.6L1912.9 1287.3L1908.1 1291.0" fill="none" stroke="#8B1A1A" stroke-width="2.1"/>
<rect x="346.4" y="1279.5" width="2.4" height="15.5" fill="#0C2B66"/>
<rect x="1309.3" y="1282" width="1.2" height="10" fill="#0C2B66"/><rect x="1311" y="1282" width="1.2" height="10" fill="#0C2B66"/>
<rect x="1610.0" y="1277.5" width="2.6" height="19.5" fill="#0C2B66"/>
<rect x="1658.2" y="1277.5" width="2.6" height="19.5" fill="#0C2B66"/>
<rect x="1679.8" y="1277.5" width="2.6" height="19.5" fill="#0C2B66"/>
<rect x="1748.8" y="1277.5" width="2.6" height="19.5" fill="#0C2B66"/>
<rect x="1797.3" y="1277.5" width="2.6" height="19.5" fill="#0C2B66"/>
<rect x="1845.5" y="1277.5" width="2.6" height="19.5" fill="#0C2B66"/>
<rect x="1876.5" y="1277.5" width="2.6" height="19.5" fill="#0C2B66"/>
<rect x="1900.6" y="1277.5" width="2.6" height="19.5" fill="#0C2B66"/>
<rect x="1914.3" y="1277.5" width="2.6" height="19.5" fill="#0C2B66"/>
<rect x="1915.5" y="1281.6" width="41.6" height="11" fill="#0C2B66"/>
<text x="1248.1" y="1329.1" font-family="'Liberation Sans', Arial, sans-serif" font-weight="normal" font-size="35.80" textLength="244.4" lengthAdjust="spacingAndGlyphs" fill="#0C2B66">LOC114110893</text>
<rect x="1512.3" y="1299.5" width="6.3" height="30.3" fill="#0C2B66"/>
<path d="M1609 1331 H1919" stroke="#0C2B66" stroke-width="1.3"/>
<path d="M1616.4 1327.3L1621.2 1331L1616.4 1334.7M1627.3 1327.3L1632.1 1331L1627.3 1334.7M1638.2 1327.3L1643.0 1331L1638.2 1334.7M1649.1 1327.3L1653.9 1331L1649.1 1334.7M1670.9 1327.3L1675.7 1331L1670.9 1334.7M1692.7 1327.3L1697.5 1331L1692.7 1334.7M1703.6 1327.3L1708.4 1331L1703.6 1334.7M1714.5 1327.3L1719.3 1331L1714.5 1334.7M1725.4 1327.3L1730.2 1331L1725.4 1334.7M1736.3 1327.3L1741.1 1331L1736.3 1334.7M1758.1 1327.3L1762.9 1331L1758.1 1334.7M1769.0 1327.3L1773.8 1331L1769.0 1334.7M1779.9 1327.3L1784.7 1331L1779.9 1334.7M1790.8 1327.3L1795.6 1331L1790.8 1334.7M1801.7 1327.3L1806.5 1331L1801.7 1334.7M1812.6 1327.3L1817.4 1331L1812.6 1334.7M1823.5 1327.3L1828.3 1331L1823.5 1334.7M1834.4 1327.3L1839.2 1331L1834.4 1334.7M1856.2 1327.3L1861.0 1331L1856.2 1334.7M1867.1 1327.3L1871.9 1331L1867.1 1334.7M1888.9 1327.3L1893.7 1331L1888.9 1334.7" fill="none" stroke="#8B1A1A" stroke-width="2.1"/>
<rect x="1608.4" y="1327.5" width="4.6" height="12.5" fill="#0C2B66"/>
<rect x="1610.0" y="1321.8" width="2.6" height="18.6" fill="#0C2B66"/>
<rect x="1658.2" y="1321.8" width="2.6" height="18.6" fill="#0C2B66"/>
<rect x="1679.8" y="1321.8" width="2.6" height="18.6" fill="#0C2B66"/>
<rect x="1748.8" y="1321.8" width="2.6" height="18.6" fill="#0C2B66"/>
<rect x="1797.3" y="1321.8" width="2.6" height="18.6" fill="#0C2B66"/>
<rect x="1845.5" y="1321.8" width="2.6" height="18.6" fill="#0C2B66"/>
<rect x="1876.5" y="1321.8" width="2.6" height="18.6" fill="#0C2B66"/>
<rect x="1900.6" y="1321.8" width="2.6" height="18.6" fill="#0C2B66"/>
<rect x="1914.3" y="1321.8" width="2.6" height="18.6" fill="#0C2B66"/>
<rect x="1915.5" y="1325" width="4.4" height="12" fill="#0C2B66"/>
<text x="1474.5" y="1370.7" font-family="'Liberation Sans', Arial, sans-serif" font-weight="normal" font-size="32.99" textLength="142.0" lengthAdjust="spacingAndGlyphs" fill="#0C2B66">BMPR1A</text>
<rect x="1954.3" y="1346.1" width="87.4" height="12.4" fill="#0C2B66"/>
<rect x="2040.4" y="1343.3" width="2.8" height="19.2" fill="#0C2B66"/>
<path d="M2042 1352.7 H2099" stroke="#0C2B66" stroke-width="1.3"/>
<path d="M2052.6 1349.0L2047.8 1352.7L2052.6 1356.4M2062.1 1349.0L2057.3 1352.7L2062.1 1356.4M2071.6 1349.0L2066.8 1352.7L2071.6 1356.4" fill="none" stroke="#8B1A1A" stroke-width="2.1"/>
<rect x="2077.6" y="1343.3" width="18.6" height="19.2" fill="#0C2B66"/>
<text x="1803.8" y="1377.7" font-family="'Liberation Sans', Arial, sans-serif" font-weight="normal" font-size="34.94" textLength="126.4" lengthAdjust="spacingAndGlyphs" fill="#0C2B66">MMRN2</text>
<text x="66.4" y="1306.9" font-family="'Liberation Sans', Arial, sans-serif" font-weight="normal" font-size="48.26" textLength="189.7" lengthAdjust="spacingAndGlyphs" fill="#0C2B66">BMPR1A</text>
<path d="M327.7 1450.7H360.7V1449.0H362.9V1450.7H367.3V1448.8H369.5V1450.7H415.7V1449.6H417.9V1450.7H448.7V1447.6H450.9V1450.7H560.9V1447.3H563.1V1450.7H578.5V1449.3H580.7V1450.7H591.7V1449.2H593.9V1449.4H596.1V1450.7H615.9V1449.8H618.1V1450.7H622.5V1448.3H624.7V1450.7H701.7V1446.6H703.9V1450.7H717.1V1448.7H719.3V1450.7H796.3V1443.6H798.5V1450.7H807.3V1448.6H809.5V1446.1H811.7V1450.7H813.9V1447.2H816.1V1450.7H833.7V1449.4H835.9V1450.7H932.7V1448.5H934.9V1450.7H1011.9V1448.0H1014.1V1450.7H1025.1V1448.9H1027.3V1450.7H1060.3V1448.5H1062.5V1450.7H1159.3V1449.3H1161.5V1450.7H1183.5V1448.5H1185.7V1450.7H1203.3V1447.9H1205.5V1450.7H1218.7V1447.6H1220.9V1450.7H1236.3V1446.0H1238.5V1450.7H1291.3V1449.0H1293.5V1450.7H1304.5V1448.3H1306.7V1440.1H1308.9V1438.1H1311.1V1439.2H1313.3V1447.9H1315.5V1450.0H1317.7V1450.7H1348.5V1448.3H1350.7V1450.7H1359.5V1448.5H1361.7V1450.7H1381.5V1446.4H1383.7V1450.7H1394.7V1444.9H1396.9V1450.7H1434.3V1448.6H1436.5V1450.7H1498.1V1449.0H1500.3V1450.7H1599.3V1448.8H1601.5V1450.7H1603.7V1449.4H1605.9V1442.2H1608.1V1435.5H1610.3V1437.6H1612.5V1447.0H1614.7V1450.7H1654.3V1449.5H1656.5V1443.7H1658.7V1440.2H1660.9V1445.8H1663.1V1450.0H1665.3V1450.7H1669.7V1448.2H1671.9V1450.7H1676.3V1450.0H1678.5V1445.8H1680.7V1443.7H1682.9V1446.4H1685.1V1449.1H1687.3V1450.7H1737.9V1449.3H1740.1V1450.7H1742.3V1449.9H1744.5V1444.3H1746.7V1442.1H1748.9V1441.5H1751.1V1446.1H1753.3V1449.8H1755.5V1450.7H1781.9V1447.8H1784.1V1450.7H1790.7V1447.6H1792.9V1450.2H1795.1V1440.0H1797.3V1440.2H1799.5V1445.5H1801.7V1447.9H1803.9V1450.7H1817.1V1446.6H1819.3V1450.7H1821.5V1448.6H1823.7V1450.7H1841.3V1445.2H1843.5V1439.6H1845.7V1430.9H1847.9V1430.5H1850.1V1441.0H1852.3V1446.1H1854.5V1450.7H1869.9V1447.8H1872.1V1445.2H1874.3V1434.9H1876.5V1422.0H1878.7V1434.5H1880.9V1444.6H1883.1V1450.7H1894.1V1448.1H1896.3V1441.7H1898.5V1431.4H1900.7V1432.7H1902.9V1438.7H1905.1V1449.4H1907.3V1450.7H1911.7V1439.6H1913.9V1413.9H1916.1V1420.8H1918.3V1417.9H1920.5V1405.5H1922.7V1415.0H1924.9V1394.4H1927.1V1400.0H1929.3V1388.0H1931.5V1417.5H1933.7V1410.5H1935.9V1407.1H1938.1V1406.5H1940.3V1410.5H1942.5V1416.1H1944.7V1414.4H1946.9V1415.4H1949.1V1405.5H1951.3V1364.7H1957.9V1427.7H1960.1V1413.0H1962.3V1422.9H1964.5V1427.4H1966.7V1435.4H1968.9V1430.5H1971.1V1428.0H1973.3V1423.1H1975.5V1415.4H1977.7V1416.6H1979.9V1442.6H1982.1V1444.0H1984.3V1416.1H1986.5V1422.4H1988.7V1422.6H1990.9V1386.6H1993.1V1396.6H1995.3V1408.6H1997.5V1415.5H1999.7V1420.2H2001.9V1400.1H2004.1V1425.7H2006.3V1418.4H2008.5V1417.6H2010.7V1428.4H2012.9V1425.3H2015.1V1433.9H2017.3V1416.0H2019.5V1413.6H2021.7V1411.9H2023.9V1430.3H2026.1V1428.5H2028.3V1415.8H2030.5V1423.2H2032.7V1418.4H2034.9V1417.3H2037.1V1403.9H2039.3V1406.9H2041.5V1425.8H2043.7V1437.0H2045.9V1450.7H2074.5V1438.5H2076.7V1412.2H2078.9V1415.7H2081.1V1402.1H2083.3V1408.4H2085.5V1411.9H2087.7V1404.7H2089.9V1405.0H2092.1V1415.5H2094.3V1421.3H2096.5V1414.0H2098.7V1450.7H2100.9V1450.7Z" fill="#6CC8C8"/>
<path d="M327.7 1450.7H360.7V1449.4H362.9V1450.7H367.3V1449.0H369.5V1450.7H415.7V1449.6H417.9V1450.7H448.7V1448.4H450.9V1450.7H560.9V1447.8H563.1V1450.7H578.5V1449.3H580.7V1450.7H591.7V1449.3H593.9V1449.4H596.1V1450.7H615.9V1449.8H618.1V1450.7H622.5V1449.0H624.7V1450.7H701.7V1447.5H703.9V1450.7H717.1V1449.1H719.3V1450.7H796.3V1445.1H798.5V1450.7H807.3V1449.2H809.5V1446.5H811.7V1450.7H813.9V1447.6H816.1V1450.7H833.7V1449.4H835.9V1450.7H932.7V1448.9H934.9V1450.7H1011.9V1448.5H1014.1V1450.7H1025.1V1449.2H1027.3V1450.7H1060.3V1449.1H1062.5V1450.7H1159.3V1449.3H1161.5V1450.7H1183.5V1449.1H1185.7V1450.7H1203.3V1448.1H1205.5V1450.7H1218.7V1448.2H1220.9V1450.7H1236.3V1446.8H1238.5V1450.7H1291.3V1449.1H1293.5V1450.7H1304.5V1448.5H1306.7V1441.9H1308.9V1441.0H1311.1V1441.7H1313.3V1448.1H1315.5V1450.0H1317.7V1450.7H1348.5V1448.5H1350.7V1450.7H1359.5V1449.0H1361.7V1450.7H1381.5V1446.8H1383.7V1450.7H1394.7V1446.0H1396.9V1450.7H1434.3V1448.9H1436.5V1450.7H1498.1V1449.4H1500.3V1450.7H1599.3V1448.9H1601.5V1450.7H1603.7V1449.4H1605.9V1442.6H1608.1V1439.1H1610.3V1439.4H1612.5V1447.9H1614.7V1450.7H1654.3V1449.5H1656.5V1444.3H1658.7V1443.0H1660.9V1447.0H1663.1V1450.0H1665.3V1450.7H1669.7V1448.5H1671.9V1450.7H1676.3V1450.0H1678.5V1446.8H1680.7V1444.2H1682.9V1446.8H1685.1V1449.3H1687.3V1450.7H1737.9V1449.3H1740.1V1450.7H1742.3V1449.9H1744.5V1445.9H1746.7V1443.1H1748.9V1442.1H1751.1V1446.9H1753.3V1449.8H1755.5V1450.7H1781.9V1448.5H1784.1V1450.7H1790.7V1448.3H1792.9V1450.2H1795.1V1442.2H1797.3V1441.4H1799.5V1446.7H1801.7V1448.6H1803.9V1450.7H1817.1V1447.5H1819.3V1450.7H1821.5V1448.8H1823.7V1450.7H1841.3V1445.8H1843.5V1441.8H1845.7V1433.5H1847.9V1432.1H1850.1V1442.4H1852.3V1447.1H1854.5V1450.7H1869.9V1448.4H1872.1V1445.5H1874.3V1436.9H1876.5V1428.2H1878.7V1436.6H1880.9V1446.2H1883.1V1450.7H1894.1V1448.2H1896.3V1443.3H1898.5V1434.5H1900.7V1435.5H1902.9V1442.0H1905.1V1449.4H1907.3V1450.7H1911.7V1441.2H1913.9V1421.8H1916.1V1427.4H1918.3V1421.1H1920.5V1417.3H1922.7V1422.7H1924.9V1400.4H1927.1V1411.4H1929.3V1401.5H1931.5V1422.6H1933.7V1420.0H1935.9V1410.3H1938.1V1408.8H1940.3V1421.4H1942.5V1422.1H1944.7V1418.3H1946.9V1422.1H1949.1V1408.5H1951.3V1370.0H1953.5V1370.9H1955.7V1369.2H1957.9V1430.7H1960.1V1420.4H1962.3V1426.4H1964.5V1429.7H1966.7V1437.9H1968.9V1433.8H1971.1V1429.9H1973.3V1426.5H1975.5V1421.1H1977.7V1418.7H1979.9V1444.5H1982.1V1444.6H1984.3V1424.5H1986.5V1426.4H1988.7V1428.9H1990.9V1398.0H1993.1V1402.1H1995.3V1412.8H1997.5V1419.0H1999.7V1427.1H2001.9V1408.6H2004.1V1431.4H2006.3V1423.2H2008.5V1423.0H2010.7V1434.5H2012.9V1428.9H2015.1V1435.8H2017.3V1421.1H2019.5V1416.6H2021.7V1421.1H2023.9V1435.3H2026.1V1434.6H2028.3V1421.6H2030.5V1428.1H2032.7V1424.1H2034.9V1424.6H2037.1V1408.4H2039.3V1418.4H2041.5V1427.6H2043.7V1439.1H2045.9V1450.7H2074.5V1440.4H2076.7V1415.9H2078.9V1423.6H2081.1V1414.0H2083.3V1417.2H2085.5V1422.4H2087.7V1414.3H2089.9V1411.2H2092.1V1421.1H2094.3V1427.7H2096.5V1419.3H2098.7V1450.7H2100.9V1450.7Z" fill="#00ADAD"/>
<path d="M327.7 1450.7H360.7V1449.4H362.9V1450.7H367.3V1449.6H369.5V1450.7H415.7V1449.6H417.9V1450.7H448.7V1448.8H450.9V1450.7H560.9V1448.9H563.1V1450.7H578.5V1449.3H580.7V1450.7H591.7V1449.3H593.9V1449.4H596.1V1450.7H615.9V1449.8H618.1V1450.7H622.5V1449.6H624.7V1450.7H701.7V1448.7H703.9V1450.7H717.1V1449.5H719.3V1450.7H796.3V1446.2H798.5V1450.7H807.3V1449.5H809.5V1448.1H811.7V1450.7H813.9V1448.5H816.1V1450.7H833.7V1449.4H835.9V1450.7H932.7V1449.4H934.9V1450.7H1011.9V1449.3H1014.1V1450.7H1025.1V1449.4H1027.3V1450.7H1060.3V1449.7H1062.5V1450.7H1159.3V1449.3H1161.5V1450.7H1183.5V1449.5H1185.7V1450.7H1203.3V1448.7H1205.5V1450.7H1218.7V1448.6H1220.9V1450.7H1236.3V1448.2H1238.5V1450.7H1291.3V1449.6H1293.5V1450.7H1304.5V1448.9H1306.7V1445.4H1308.9V1444.3H1311.1V1443.3H1313.3V1449.1H1315.5V1450.0H1317.7V1450.7H1348.5V1449.1H1350.7V1450.7H1359.5V1449.6H1361.7V1450.7H1381.5V1447.9H1383.7V1450.7H1394.7V1447.8H1396.9V1450.7H1434.3V1449.6H1436.5V1450.7H1498.1V1449.4H1500.3V1450.7H1599.3V1449.2H1601.5V1450.7H1603.7V1449.4H1605.9V1444.3H1608.1V1441.6H1610.3V1443.3H1612.5V1448.8H1614.7V1450.7H1654.3V1449.5H1656.5V1446.0H1658.7V1445.6H1660.9V1448.1H1663.1V1450.0H1665.3V1450.7H1669.7V1448.9H1671.9V1450.7H1676.3V1450.0H1678.5V1448.0H1680.7V1446.3H1682.9V1447.4H1685.1V1449.3H1687.3V1450.7H1737.9V1449.3H1740.1V1450.7H1742.3V1449.9H1744.5V1447.1H1746.7V1446.1H1748.9V1444.7H1751.1V1447.8H1753.3V1449.8H1755.5V1450.7H1781.9V1449.4H1784.1V1450.7H1790.7V1449.0H1792.9V1450.2H1795.1V1444.1H1797.3V1443.1H1799.5V1447.7H1801.7V1449.0H1803.9V1450.7H1817.1V1448.4H1819.3V1450.7H1821.5V1449.4H1823.7V1450.7H1841.3V1446.7H1843.5V1444.5H1845.7V1437.0H1847.9V1438.5H1850.1V1445.0H1852.3V1448.4H1854.5V1450.7H1869.9V1449.0H1872.1V1447.4H1874.3V1441.7H1876.5V1436.0H1878.7V1440.6H1880.9V1447.6H1883.1V1450.7H1894.1V1448.9H1896.3V1444.4H1898.5V1438.2H1900.7V1438.3H1902.9V1445.0H1905.1V1449.4H1907.3V1450.7H1911.7V1444.1H1913.9V1432.8H1916.1V1432.7H1918.3V1430.2H1920.5V1428.3H1922.7V1433.8H1924.9V1418.2H1927.1V1424.5H1929.3V1416.4H1931.5V1427.4H1933.7V1426.8H1935.9V1423.7H1938.1V1421.8H1940.3V1432.0H1942.5V1426.9H1944.7V1428.3H1946.9V1428.1H1949.1V1417.8H1951.3V1380.0H1953.5V1383.2H1955.7V1383.0H1957.9V1436.8H1960.1V1431.9H1962.3V1430.8H1964.5V1436.4H1966.7V1440.5H1968.9V1438.4H1971.1V1438.0H1973.3V1433.8H1975.5V1431.2H1979.9V1446.8H1982.1V1446.2H1984.3V1434.8H1986.5V1434.2H1988.7V1435.3H1990.9V1411.9H1993.1V1419.9H1995.3V1421.3H1997.5V1429.6H1999.7V1432.3H2001.9V1418.4H2004.1V1438.4H2006.3V1432.8H2008.5V1432.2H2010.7V1438.1H2012.9V1435.4H2015.1V1440.3H2017.3V1426.5H2019.5V1428.3H2021.7V1430.8H2023.9V1440.1H2026.1V1440.2H2028.3V1432.9H2030.5V1437.0H2032.7V1430.6H2034.9V1431.4H2037.1V1416.8H2039.3V1423.5H2041.5V1435.1H2043.7V1441.8H2045.9V1450.7H2074.5V1442.2H2076.7V1428.0H2078.9V1429.7H2081.1V1422.6H2085.5V1427.5H2087.7V1426.7H2089.9V1420.8H2092.1V1432.3H2094.3V1434.4H2096.5V1428.8H2098.7V1450.7H2100.9V1450.7Z" fill="#008A8A"/>
<rect x="348.7" y="1437.1" width="2.6" height="13.6" fill="#6CC8C8"/><rect x="348.7" y="1440.8" width="2.6" height="9.9" fill="#00ADAD"/>
<rect x="346.4" y="1428.7" width="2.3" height="22.0" fill="#6CC8C8"/><rect x="346.4" y="1433.1" width="2.3" height="17.6" fill="#008A8A"/>
<text x="67.6" y="1423.7" font-family="'Liberation Sans', Arial, sans-serif" font-weight="normal" font-size="45.40" textLength="223.4" lengthAdjust="spacingAndGlyphs" fill="#008787">scurred_p1</text>
<text x="2135.0" y="1445.7" font-family="'Liberation Sans', Arial, sans-serif" font-weight="normal" font-size="32.22" textLength="17.6" lengthAdjust="spacingAndGlyphs" fill="#008787">0</text>
<path d="M327.7 1540.0H360.7V1538.5H362.9V1540.0H406.9V1538.2H409.1V1540.0H426.7V1538.2H428.9V1540.0H497.1V1538.7H499.3V1540.0H516.9V1538.5H519.1V1540.0H565.3V1538.5H567.5V1540.0H585.1V1538.0H587.3V1538.8H589.5V1540.0H596.1V1538.2H598.3V1540.0H631.3V1537.2H633.5V1540.0H640.1V1537.7H642.3V1540.0H655.5V1538.4H657.7V1540.0H659.9V1537.8H662.1V1540.0H677.5V1536.2H679.7V1540.0H699.5V1538.5H701.7V1538.0H703.9V1540.0H708.3V1538.5H710.5V1537.7H712.7V1540.0H728.1V1535.8H730.3V1540.0H736.9V1536.7H739.1V1540.0H761.1V1538.2H763.3V1540.0H774.3V1539.0H776.5V1540.0H778.7V1538.4H780.9V1540.0H796.3V1536.7H798.5V1540.0H873.3V1538.2H875.5V1540.0H926.1V1535.9H928.3V1540.0H945.9V1536.8H948.1V1540.0H970.1V1538.9H972.3V1540.0H989.9V1536.5H992.1V1540.0H1005.3V1537.5H1007.5V1540.0H1102.1V1537.0H1104.3V1540.0H1139.5V1538.0H1141.7V1540.0H1157.1V1537.9H1159.3V1540.0H1187.9V1537.5H1190.1V1540.0H1207.7V1538.2H1209.9V1540.0H1227.5V1536.2H1229.7V1540.0H1231.9V1537.9H1234.1V1540.0H1251.7V1538.2H1253.9V1540.0H1260.5V1538.8H1262.7V1540.0H1269.3V1537.4H1271.5V1540.0H1286.9V1538.2H1289.1V1540.0H1297.9V1538.4H1300.1V1540.0H1304.5V1538.9H1306.7V1525.2H1308.9V1521.2H1311.1V1520.5H1313.3V1536.5H1315.5V1537.5H1317.7V1540.0H1333.1V1537.9H1335.3V1540.0H1344.1V1538.5H1346.3V1540.0H1355.1V1537.8H1357.3V1537.0H1359.5V1540.0H1381.5V1538.2H1383.7V1540.0H1399.1V1536.8H1401.3V1540.0H1412.3V1536.0H1414.5V1540.0H1423.3V1537.4H1425.5V1540.0H1427.7V1537.7H1429.9V1540.0H1436.5V1537.4H1438.7V1540.0H1454.1V1538.8H1456.3V1540.0H1489.3V1538.0H1491.5V1540.0H1504.7V1536.8H1506.9V1540.0H1553.1V1537.2H1555.3V1540.0H1577.3V1538.0H1579.5V1537.0H1581.7V1540.0H1594.9V1537.0H1597.1V1540.0H1603.7V1535.5H1605.9V1525.0H1608.1V1521.0H1610.3V1529.4H1612.5V1538.0H1614.7V1537.2H1616.9V1540.0H1654.3V1535.2H1656.5V1525.0H1658.7V1520.0H1660.9V1523.2H1663.1V1537.2H1665.3V1540.0H1667.5V1536.2H1669.7V1536.5H1671.9V1540.0H1674.1V1536.8H1676.3V1539.0H1678.5V1527.0H1680.7V1524.4H1682.9V1532.7H1685.1V1537.2H1687.3V1540.0H1698.3V1538.0H1700.5V1540.0H1726.9V1537.5H1729.1V1540.0H1737.9V1537.9H1740.1V1538.9H1742.3V1539.2H1744.5V1530.8H1746.7V1526.9H1748.9V1528.0H1751.1V1530.2H1753.3V1538.4H1755.5V1540.0H1790.7V1537.8H1792.9V1535.0H1795.1V1521.7H1797.3V1520.7H1799.5V1525.5H1801.7V1535.2H1803.9V1540.0H1841.3V1536.8H1843.5V1527.4H1845.7V1516.2H1850.1V1522.5H1852.3V1538.0H1854.5V1540.0H1872.1V1537.7H1874.3V1520.7H1876.5V1501.0H1878.7V1513.0H1880.9V1534.9H1883.1V1540.0H1894.1V1532.9H1896.3V1520.5H1898.5V1514.2H1900.7V1511.5H1902.9V1518.8H1905.1V1536.2H1907.3V1540.0H1911.7V1526.2H1913.9V1489.7H1916.1V1495.2H1918.3V1496.2H1920.5V1516.0H1922.7V1504.7H1924.9V1492.0H1927.1V1495.2H1929.3V1499.5H1931.5V1480.0H1933.7V1501.2H1935.9V1462.5H1940.3V1487.9H1942.5V1497.4H1944.7V1510.5H1946.9V1501.7H1949.1V1498.0H1951.3V1454.0H1957.9V1498.2H1960.1V1529.9H1962.3V1527.9H1964.5V1525.0H1966.7V1525.0H1968.9V1529.5H1971.1V1531.2H1973.3V1517.0H1975.5V1528.2H1977.7V1524.5H1979.9V1519.9H1982.1V1533.8H1984.3V1527.0H1986.5V1526.8H1988.7V1532.0H1990.9V1511.7H1993.1V1510.8H1995.3V1511.9H1997.5V1526.2H1999.7V1524.2H2001.9V1520.0H2004.1V1510.8H2006.3V1508.7H2008.5V1519.9H2010.7V1519.7H2012.9V1515.9H2015.1V1515.7H2017.3V1520.7H2019.5V1523.7H2021.7V1519.4H2023.9V1518.2H2026.1V1514.2H2028.3V1524.9H2030.5V1519.0H2032.7V1506.4H2034.9V1517.7H2037.1V1516.4H2039.3V1497.0H2041.5V1493.2H2043.7V1535.2H2045.9V1539.2H2048.1V1539.0H2050.3V1539.2H2052.5V1539.0H2054.7V1539.2H2056.9V1539.4H2061.3V1539.5H2063.5V1539.7H2065.7V1539.5H2067.9V1539.0H2070.1V1539.5H2072.3V1539.2H2074.5V1519.9H2076.7V1516.2H2078.9V1519.7H2081.1V1496.4H2083.3V1489.4H2085.5V1502.5H2087.7V1518.0H2089.9V1513.0H2092.1V1510.8H2094.3V1515.5H2096.5V1504.9H2098.7V1540.0H2100.9V1540.0Z" fill="#6CC8C8"/>
<path d="M327.7 1540.0H360.7V1538.5H362.9V1540.0H406.9V1538.5H409.1V1540.0H426.7V1538.5H428.9V1540.0H497.1V1538.7H499.3V1540.0H516.9V1538.5H519.1V1540.0H565.3V1538.5H567.5V1540.0H585.1V1538.5H587.3V1538.8H589.5V1540.0H596.1V1538.5H598.3V1540.0H631.3V1537.5H633.5V1540.0H640.1V1538.2H642.3V1540.0H655.5V1538.7H657.7V1540.0H659.9V1538.4H662.1V1540.0H677.5V1537.2H679.7V1540.0H699.5V1538.8H701.7V1538.2H703.9V1540.0H708.3V1538.5H710.5V1538.0H712.7V1540.0H728.1V1536.5H730.3V1540.0H736.9V1537.2H739.1V1540.0H761.1V1538.7H763.3V1540.0H774.3V1539.0H776.5V1540.0H778.7V1538.5H780.9V1540.0H796.3V1536.9H798.5V1540.0H873.3V1538.5H875.5V1540.0H926.1V1536.5H928.3V1540.0H945.9V1537.2H948.1V1540.0H970.1V1538.9H972.3V1540.0H989.9V1536.9H992.1V1540.0H1005.3V1538.0H1007.5V1540.0H1102.1V1537.5H1104.3V1540.0H1139.5V1538.0H1141.7V1540.0H1157.1V1538.0H1159.3V1540.0H1187.9V1538.0H1190.1V1540.0H1207.7V1538.4H1209.9V1540.0H1227.5V1536.5H1229.7V1540.0H1231.9V1538.2H1234.1V1540.0H1251.7V1538.5H1253.9V1540.0H1260.5V1538.8H1262.7V1540.0H1269.3V1537.7H1271.5V1540.0H1286.9V1538.8H1289.1V1540.0H1297.9V1538.8H1300.1V1540.0H1304.5V1538.9H1306.7V1527.5H1308.9V1525.4H1311.1V1522.8H1313.3V1537.0H1315.5V1538.0H1317.7V1540.0H1333.1V1538.0H1335.3V1540.0H1344.1V1538.7H1346.3V1540.0H1355.1V1538.0H1357.3V1537.5H1359.5V1540.0H1381.5V1538.5H1383.7V1540.0H1399.1V1537.5H1401.3V1540.0H1412.3V1536.7H1414.5V1540.0H1423.3V1537.5H1425.5V1540.0H1427.7V1537.9H1429.9V1540.0H1436.5V1538.0H1438.7V1540.0H1454.1V1538.8H1456.3V1540.0H1489.3V1538.5H1491.5V1540.0H1504.7V1537.5H1506.9V1540.0H1553.1V1537.5H1555.3V1540.0H1577.3V1538.4H1579.5V1537.7H1581.7V1540.0H1594.9V1537.5H1597.1V1540.0H1603.7V1536.2H1605.9V1526.5H1608.1V1524.5H1610.3V1530.8H1612.5V1538.2H1614.7V1537.5H1616.9V1540.0H1654.3V1536.5H1656.5V1526.8H1658.7V1525.0H1660.9V1527.7H1663.1V1537.8H1665.3V1540.0H1667.5V1537.2H1669.7V1537.5H1671.9V1540.0H1674.1V1537.4H1676.3V1539.0H1678.5V1529.2H1680.7V1528.4H1682.9V1533.2H1685.1V1537.5H1687.3V1540.0H1698.3V1538.2H1700.5V1540.0H1726.9V1537.8H1729.1V1540.0H1737.9V1538.4H1740.1V1538.9H1742.3V1539.2H1744.5V1531.2H1746.7V1530.2H1748.9V1530.5H1751.1V1532.4H1753.3V1538.5H1755.5V1540.0H1790.7V1538.2H1792.9V1536.0H1795.1V1525.0H1797.3V1522.0H1799.5V1528.7H1801.7V1535.8H1803.9V1540.0H1841.3V1537.2H1843.5V1529.5H1845.7V1520.9H1847.9V1520.5H1850.1V1525.5H1852.3V1538.5H1854.5V1540.0H1872.1V1538.0H1874.3V1524.2H1876.5V1509.2H1878.7V1515.8H1880.9V1535.8H1883.1V1540.0H1894.1V1534.0H1896.3V1522.0H1898.5V1518.7H1900.7V1517.0H1902.9V1520.2H1905.1V1536.4H1907.3V1540.0H1911.7V1527.5H1913.9V1499.0H1916.1V1500.9H1918.3V1501.0H1920.5V1521.0H1922.7V1508.7H1924.9V1495.0H1927.1V1501.0H1929.3V1504.5H1931.5V1490.9H1933.7V1506.2H1935.9V1480.2H1938.1V1470.5H1940.3V1496.0H1942.5V1499.7H1944.7V1516.5H1946.9V1506.2H1949.1V1509.5H1951.3V1460.7H1953.5V1462.0H1955.7V1454.4H1957.9V1504.0H1960.1V1532.2H1962.3V1530.2H1964.5V1525.9H1966.7V1528.5H1968.9V1530.2H1971.1V1533.5H1973.3V1520.5H1975.5V1529.2H1977.7V1525.8H1979.9V1523.7H1982.1V1534.7H1984.3V1528.5H1986.5V1528.2H1988.7V1532.8H1990.9V1515.8H1993.1V1517.2H1995.3V1515.2H1997.5V1528.2H1999.7V1526.7H2001.9V1521.0H2004.1V1518.0H2006.3V1511.8H2008.5V1524.0H2010.7V1522.0H2012.9V1517.4H2015.1V1521.0H2017.3V1523.5H2019.5V1526.2H2021.7V1522.8H2023.9V1523.5H2026.1V1517.8H2028.3V1526.0H2030.5V1521.5H2032.7V1513.5H2034.9V1519.8H2037.1V1520.8H2039.3V1507.5H2041.5V1499.8H2043.7V1536.0H2045.9V1539.2H2048.1V1539.0H2050.3V1539.2H2052.5V1539.0H2054.7V1539.2H2056.9V1539.4H2061.3V1539.5H2063.5V1539.7H2065.7V1539.5H2067.9V1539.0H2070.1V1539.5H2072.3V1539.2H2074.5V1523.0H2076.7V1517.5H2078.9V1522.7H2081.1V1499.0H2083.3V1499.4H2085.5V1506.5H2087.7V1523.8H2089.9V1518.8H2092.1V1514.2H2094.3V1518.4H2096.5V1508.0H2098.7V1540.0H2100.9V1540.0Z" fill="#00ADAD"/>
<path d="M327.7 1540.0H360.7V1538.5H362.9V1540.0H406.9V1538.5H409.1V1540.0H426.7V1539.0H428.9V1540.0H497.1V1538.7H499.3V1540.0H516.9V1538.5H519.1V1540.0H565.3V1538.5H567.5V1540.0H585.1V1538.5H587.3V1538.8H589.5V1540.0H596.1V1538.5H598.3V1540.0H631.3V1538.4H633.5V1540.0H640.1V1538.8H642.3V1540.0H655.5V1538.7H657.7V1540.0H659.9V1538.8H662.1V1540.0H677.5V1538.4H679.7V1540.0H699.5V1538.8H701.7V1538.9H703.9V1540.0H708.3V1538.5H712.7V1540.0H728.1V1537.8H730.3V1540.0H736.9V1538.2H739.1V1540.0H761.1V1538.7H763.3V1540.0H774.3V1539.0H776.5V1540.0H778.7V1538.5H780.9V1540.0H796.3V1537.5H798.5V1540.0H873.3V1538.5H875.5V1540.0H926.1V1537.2H928.3V1540.0H945.9V1538.2H948.1V1540.0H970.1V1538.9H972.3V1540.0H989.9V1538.0H992.1V1540.0H1005.3V1538.7H1007.5V1540.0H1102.1V1538.4H1104.3V1540.0H1139.5V1538.5H1141.7V1540.0H1157.1V1538.5H1159.3V1540.0H1187.9V1538.7H1190.1V1540.0H1207.7V1538.9H1209.9V1540.0H1227.5V1537.2H1229.7V1540.0H1231.9V1538.9H1234.1V1540.0H1251.7V1538.5H1253.9V1540.0H1260.5V1538.8H1262.7V1540.0H1269.3V1538.0H1271.5V1540.0H1286.9V1538.8H1289.1V1540.0H1297.9V1538.8H1300.1V1540.0H1304.5V1538.9H1306.7V1529.9H1308.9V1530.4H1311.1V1526.7H1313.3V1537.7H1315.5V1538.7H1317.7V1540.0H1333.1V1538.5H1335.3V1540.0H1344.1V1538.7H1346.3V1540.0H1355.1V1538.7H1357.3V1538.2H1359.5V1540.0H1381.5V1539.0H1383.7V1540.0H1399.1V1538.2H1401.3V1540.0H1412.3V1537.4H1414.5V1540.0H1423.3V1538.2H1425.5V1540.0H1427.7V1538.4H1429.9V1540.0H1436.5V1538.4H1438.7V1540.0H1454.1V1538.8H1456.3V1540.0H1489.3V1538.5H1491.5V1540.0H1504.7V1538.4H1506.9V1540.0H1553.1V1538.4H1555.3V1540.0H1577.3V1538.8H1579.5V1538.5H1581.7V1540.0H1594.9V1538.0H1597.1V1540.0H1603.7V1537.5H1605.9V1530.5H1608.1V1529.0H1610.3V1532.5H1612.5V1538.5H1614.7V1538.0H1616.9V1540.0H1654.3V1537.8H1656.5V1530.9H1658.7V1528.4H1660.9V1532.0H1663.1V1538.2H1665.3V1540.0H1667.5V1537.8H1669.7V1538.2H1671.9V1540.0H1674.1V1538.2H1676.3V1539.0H1678.5V1532.9H1680.7V1531.0H1682.9V1535.8H1685.1V1538.0H1687.3V1540.0H1698.3V1539.0H1700.5V1540.0H1726.9V1538.2H1729.1V1540.0H1737.9V1538.8H1740.1V1538.9H1742.3V1539.2H1744.5V1533.5H1746.7V1533.9H1748.9V1534.2H1751.1V1534.8H1753.3V1538.5H1755.5V1540.0H1790.7V1538.5H1792.9V1537.0H1795.1V1527.9H1797.3V1529.0H1799.5V1532.9H1801.7V1537.4H1803.9V1540.0H1841.3V1537.8H1843.5V1533.2H1845.7V1527.2H1847.9V1525.0H1850.1V1528.8H1852.3V1539.0H1854.5V1540.0H1872.1V1538.5H1874.3V1529.4H1876.5V1517.2H1878.7V1523.4H1880.9V1537.0H1883.1V1540.0H1894.1V1536.0H1896.3V1528.0H1898.5V1525.8H1900.7V1526.2H1902.9V1526.7H1905.1V1537.2H1907.3V1540.0H1911.7V1531.7H1913.9V1514.2H1916.1V1508.2H1918.3V1512.0H1920.5V1526.2H1922.7V1518.8H1924.9V1503.0H1927.1V1509.2H1929.3V1513.2H1931.5V1502.5H1933.7V1513.9H1935.9V1496.7H1938.1V1491.2H1940.3V1509.2H1942.5V1510.7H1944.7V1523.0H1946.9V1515.2H1949.1V1517.7H1951.3V1463.0H1953.5V1461.0H1955.7V1464.9H1957.9V1518.2H1960.1V1534.7H1962.3V1534.0H1964.5V1528.7H1966.7V1531.2H1968.9V1533.5H1971.1V1535.8H1973.3V1524.0H1975.5V1531.2H1977.7V1529.0H1979.9V1527.4H1982.1V1535.9H1984.3V1531.8H1988.7V1534.7H1990.9V1520.2H1993.1V1520.7H1995.3V1519.5H1997.5V1530.5H1999.7V1531.8H2001.9V1527.5H2004.1V1521.5H2006.3V1519.2H2008.5V1528.4H2010.7V1527.8H2012.9V1521.5H2015.1V1526.0H2019.5V1531.5H2021.7V1525.4H2023.9V1530.0H2026.1V1525.9H2028.3V1530.2H2030.5V1526.0H2032.7V1523.4H2034.9V1525.0H2037.1V1523.9H2039.3V1517.0H2041.5V1508.2H2043.7V1537.0H2045.9V1539.2H2048.1V1539.0H2050.3V1539.2H2052.5V1539.0H2054.7V1539.2H2056.9V1539.4H2061.3V1539.5H2063.5V1539.7H2065.7V1539.5H2067.9V1539.0H2070.1V1539.5H2072.3V1539.2H2074.5V1527.4H2076.7V1525.5H2078.9V1527.5H2081.1V1506.2H2083.3V1508.8H2085.5V1518.0H2087.7V1528.5H2089.9V1524.4H2092.1V1522.4H2094.3V1524.0H2096.5V1515.8H2098.7V1540.0H2100.9V1540.0Z" fill="#008A8A"/>
<rect x="348.7" y="1524.5" width="2.6" height="15.5" fill="#6CC8C8"/><rect x="348.7" y="1528.7" width="2.6" height="11.2" fill="#00ADAD"/>
<rect x="346.4" y="1515.0" width="2.3" height="25.0" fill="#6CC8C8"/><rect x="346.4" y="1520.0" width="2.3" height="20.0" fill="#008A8A"/>
<text x="67.1" y="1513.0" font-family="'Liberation Sans', Arial, sans-serif" font-weight="normal" font-size="45.96" textLength="230.6" lengthAdjust="spacingAndGlyphs" fill="#008787">scurred_p2</text>
<text x="2116.2" y="1489.8" font-family="'Liberation Sans', Arial, sans-serif" font-weight="normal" font-size="32.22" textLength="53.1" lengthAdjust="spacingAndGlyphs" fill="#008787">200</text>
<text x="2135.0" y="1535.0" font-family="'Liberation Sans', Arial, sans-serif" font-weight="normal" font-size="32.22" textLength="17.6" lengthAdjust="spacingAndGlyphs" fill="#008787">0</text>
<path d="M327.7 1629.2H404.7V1628.1H406.9V1629.2H466.3V1628.1H468.5V1629.2H523.5V1627.9H525.7V1629.2H648.9V1628.2H651.1V1629.2H743.5V1628.4H745.7V1629.2H789.7V1628.3H791.9V1629.2H866.7V1628.2H868.9V1629.2H1128.5V1627.8H1130.7V1629.2H1238.5V1628.2H1240.7V1629.2H1278.1V1628.3H1280.3V1629.2H1304.5V1624.6H1306.7V1621.3H1308.9V1612.9H1311.1V1612.7H1313.3V1626.6H1315.5V1626.5H1317.7V1629.2H1366.1V1627.9H1368.3V1629.2H1478.3V1628.3H1480.5V1629.2H1495.9V1627.6H1498.1V1629.2H1506.9V1628.6H1509.1V1629.2H1581.7V1628.4H1583.9V1629.2H1603.7V1627.1H1605.9V1616.1H1608.1V1602.3H1610.3V1614.0H1612.5V1625.0H1614.7V1629.2H1641.1V1628.5H1643.3V1629.2H1647.7V1628.1H1649.9V1629.2H1654.3V1626.9H1656.5V1608.0H1658.7V1599.4H1660.9V1613.0H1663.1V1625.4H1665.3V1629.2H1676.3V1626.7H1678.5V1622.6H1680.7V1620.5H1682.9V1622.9H1685.1V1627.2H1687.3V1629.2H1726.9V1627.9H1729.1V1629.2H1742.3V1625.4H1744.5V1620.4H1746.7V1614.1H1748.9V1612.4H1751.1V1617.7H1753.3V1624.9H1755.5V1629.2H1757.7V1627.8H1759.9V1629.2H1766.5V1627.5H1768.7V1629.2H1786.3V1628.0H1788.5V1629.2H1790.7V1626.9H1795.1V1610.2H1797.3V1609.7H1799.5V1614.0H1801.7V1627.3H1803.9V1629.2H1841.3V1623.6H1843.5V1612.8H1845.7V1606.3H1847.9V1607.7H1850.1V1614.9H1852.3V1626.1H1854.5V1629.2H1872.1V1618.1H1874.3V1600.7H1876.5V1592.7H1878.7V1598.8H1880.9V1622.6H1883.1V1629.2H1894.1V1627.8H1896.3V1612.4H1898.5V1604.1H1900.7V1605.3H1902.9V1610.5H1905.1V1624.9H1907.3V1629.2H1911.7V1606.4H1913.9V1585.2H1916.1V1584.1H1918.3V1583.7H1920.5V1585.8H1922.7V1586.2H1924.9V1582.9H1927.1V1586.5H1929.3V1588.7H1931.5V1589.2H1933.7V1552.7H1935.9V1543.2H1938.1V1579.1H1940.3V1586.5H1942.5V1599.9H1944.7V1602.2H1946.9V1590.6H1949.1V1582.0H1951.3V1543.2H1957.9V1593.0H1960.1V1596.7H1962.3V1617.1H1964.5V1603.5H1966.7V1611.1H1968.9V1609.0H1971.1V1620.4H1973.3V1608.5H1975.5V1612.4H1977.7V1617.3H1979.9V1617.7H1982.1V1621.3H1984.3V1621.2H1986.5V1616.0H1988.7V1619.3H1990.9V1612.4H1993.1V1608.3H1995.3V1608.2H1997.5V1604.4H1999.7V1611.0H2001.9V1613.4H2004.1V1618.9H2006.3V1614.4H2008.5V1614.7H2010.7V1605.9H2012.9V1608.7H2015.1V1610.6H2017.3V1607.9H2019.5V1603.2H2021.7V1607.5H2023.9V1612.2H2026.1V1616.9H2028.3V1612.2H2030.5V1595.4H2032.7V1604.3H2034.9V1609.7H2037.1V1610.0H2039.3V1606.0H2041.5V1604.7H2043.7V1626.6H2045.9V1629.2H2074.5V1615.4H2076.7V1604.0H2078.9V1608.4H2081.1V1593.8H2083.3V1583.2H2085.5V1593.7H2087.7V1611.3H2089.9V1607.7H2092.1V1613.9H2094.3V1610.8H2096.5V1603.0H2098.7V1629.2H2100.9V1629.2Z" fill="#6CC8C8"/>
<path d="M327.7 1629.2H404.7V1628.1H406.9V1629.2H466.3V1628.1H468.5V1629.2H523.5V1627.9H525.7V1629.2H648.9V1628.2H651.1V1629.2H743.5V1628.4H745.7V1629.2H789.7V1628.3H791.9V1629.2H866.7V1628.2H868.9V1629.2H1128.5V1627.8H1130.7V1629.2H1238.5V1628.2H1240.7V1629.2H1278.1V1628.3H1280.3V1629.2H1304.5V1625.7H1306.7V1622.7H1308.9V1617.2H1311.1V1616.8H1313.3V1627.3H1315.5V1627.0H1317.7V1629.2H1366.1V1627.9H1368.3V1629.2H1478.3V1628.3H1480.5V1629.2H1495.9V1628.0H1498.1V1629.2H1506.9V1628.6H1509.1V1629.2H1581.7V1628.4H1583.9V1629.2H1603.7V1627.3H1605.9V1618.0H1608.1V1604.5H1610.3V1616.3H1612.5V1626.0H1614.7V1629.2H1641.1V1628.5H1643.3V1629.2H1647.7V1628.1H1649.9V1629.2H1654.3V1627.4H1656.5V1609.9H1658.7V1603.7H1660.9V1615.2H1663.1V1625.9H1665.3V1629.2H1676.3V1627.4H1678.5V1624.1H1680.7V1622.1H1682.9V1623.5H1685.1V1627.4H1687.3V1629.2H1726.9V1627.9H1729.1V1629.2H1742.3V1626.0H1744.5V1622.3H1746.7V1618.2H1748.9V1614.9H1751.1V1619.8H1753.3V1625.2H1755.5V1629.2H1757.7V1627.8H1759.9V1629.2H1766.5V1627.9H1768.7V1629.2H1786.3V1628.0H1788.5V1629.2H1790.7V1627.4H1792.9V1627.5H1795.1V1615.4H1797.3V1611.5H1799.5V1615.2H1801.7V1627.8H1803.9V1629.2H1841.3V1625.2H1843.5V1615.2H1845.7V1611.4H1847.9V1610.7H1850.1V1615.9H1852.3V1626.4H1854.5V1629.2H1872.1V1620.5H1874.3V1604.7H1876.5V1600.5H1878.7V1602.0H1880.9V1624.1H1883.1V1629.2H1894.1V1627.8H1896.3V1613.8H1898.5V1607.2H1900.7V1607.1H1902.9V1614.2H1905.1V1625.2H1907.3V1629.2H1911.7V1609.7H1913.9V1594.9H1916.1V1590.0H1918.3V1593.2H1920.5V1596.8H1922.7V1597.9H1924.9V1589.3H1927.1V1596.1H1929.3V1599.1H1931.5V1593.3H1933.7V1571.6H1935.9V1552.3H1938.1V1590.0H1940.3V1594.9H1942.5V1601.9H1944.7V1604.6H1946.9V1594.0H1949.1V1584.6H1951.3V1555.3H1953.5V1548.8H1955.7V1555.0H1957.9V1598.3H1960.1V1603.4H1962.3V1619.5H1964.5V1607.4H1966.7V1615.2H1968.9V1611.6H1971.1V1621.1H1973.3V1610.9H1975.5V1616.2H1977.7V1620.6H1979.9V1619.9H1982.1V1622.7H1984.3V1621.9H1986.5V1618.0H1988.7V1620.9H1990.9V1614.7H1993.1V1611.5H1995.3V1610.8H1997.5V1608.1H1999.7V1613.8H2001.9V1617.0H2004.1V1621.5H2006.3V1617.0H2008.5V1615.8H2010.7V1607.4H2012.9V1613.1H2015.1V1613.3H2017.3V1611.3H2019.5V1607.8H2021.7V1612.7H2023.9V1613.8H2026.1V1620.1H2028.3V1616.0H2030.5V1602.7H2032.7V1610.1H2034.9V1614.3H2037.1V1615.1H2039.3V1609.7H2041.5V1610.6H2043.7V1626.9H2045.9V1629.2H2074.5V1617.4H2076.7V1607.4H2078.9V1611.9H2081.1V1598.7H2083.3V1593.0H2085.5V1599.9H2087.7V1613.5H2089.9V1612.6H2092.1V1615.6H2094.3V1613.5H2096.5V1604.5H2098.7V1629.2H2100.9V1629.2Z" fill="#00ADAD"/>
<path d="M327.7 1629.2H404.7V1628.1H406.9V1629.2H466.3V1628.1H468.5V1629.2H523.5V1627.9H525.7V1629.2H648.9V1628.2H651.1V1629.2H743.5V1628.4H745.7V1629.2H789.7V1628.3H791.9V1629.2H866.7V1628.2H868.9V1629.2H1128.5V1627.8H1130.7V1629.2H1238.5V1628.2H1240.7V1629.2H1278.1V1628.3H1280.3V1629.2H1304.5V1626.6H1306.7V1624.4H1308.9V1619.7H1311.1V1620.9H1313.3V1627.9H1315.5V1627.6H1317.7V1629.2H1366.1V1627.9H1368.3V1629.2H1478.3V1628.3H1480.5V1629.2H1495.9V1628.0H1498.1V1629.2H1506.9V1628.6H1509.1V1629.2H1581.7V1628.4H1583.9V1629.2H1603.7V1627.7H1605.9V1620.4H1608.1V1613.2H1610.3V1618.4H1612.5V1626.5H1614.7V1629.2H1641.1V1628.5H1643.3V1629.2H1647.7V1628.1H1649.9V1629.2H1654.3V1627.9H1656.5V1612.8H1658.7V1609.9H1660.9V1619.4H1663.1V1627.1H1665.3V1629.2H1676.3V1628.1H1678.5V1625.4H1680.7V1623.6H1682.9V1624.9H1685.1V1627.7H1687.3V1629.2H1726.9V1627.9H1729.1V1629.2H1742.3V1626.9H1744.5V1623.8H1746.7V1620.9H1748.9V1618.4H1751.1V1622.3H1753.3V1626.1H1755.5V1629.2H1757.7V1627.8H1759.9V1629.2H1766.5V1627.9H1768.7V1629.2H1786.3V1628.0H1788.5V1629.2H1790.7V1627.9H1792.9V1628.1H1795.1V1618.6H1797.3V1615.5H1799.5V1619.3H1801.7V1627.8H1803.9V1629.2H1841.3V1625.8H1843.5V1619.1H1845.7V1617.8H1847.9V1615.7H1850.1V1620.0H1852.3V1627.4H1854.5V1629.2H1872.1V1622.1H1874.3V1613.4H1876.5V1606.9H1878.7V1611.7H1880.9V1625.5H1883.1V1629.2H1894.1V1627.8H1896.3V1616.1H1898.5V1615.5H1900.7V1611.2H1902.9V1620.2H1905.1V1625.8H1907.3V1629.2H1911.7V1613.1H1913.9V1604.8H1916.1V1599.4H1918.3V1603.4H1920.5V1608.4H1922.7V1607.6H1924.9V1600.9H1927.1V1602.1H1929.3V1610.3H1931.5V1602.8H1933.7V1587.9H1935.9V1572.5H1938.1V1597.9H1940.3V1603.5H1942.5V1610.6H1944.7V1608.6H1946.9V1602.8H1949.1V1599.4H1951.3V1574.8H1953.5V1563.5H1955.7V1583.8H1957.9V1605.7H1960.1V1610.6H1962.3V1622.7H1964.5V1615.2H1966.7V1620.0H1968.9V1616.7H1971.1V1623.5H1973.3V1615.5H1975.5V1620.5H1977.7V1622.7H1979.9V1622.5H1982.1V1624.0H1984.3V1623.4H1986.5V1621.8H1988.7V1622.2H1990.9V1618.5H1993.1V1617.1H1995.3V1617.0H1997.5V1612.8H1999.7V1618.3H2001.9V1619.8H2004.1V1624.1H2006.3V1619.3H2008.5V1620.3H2010.7V1611.3H2012.9V1617.7H2015.1V1618.1H2017.3V1615.9H2019.5V1613.6H2021.7V1617.0H2023.9V1617.8H2026.1V1621.6H2028.3V1618.9H2030.5V1612.7H2032.7V1613.0H2034.9V1620.2H2037.1V1620.5H2039.3V1613.5H2041.5V1616.8H2043.7V1627.8H2045.9V1629.2H2074.5V1621.6H2076.7V1613.4H2078.9V1615.2H2081.1V1610.7H2083.3V1606.0H2085.5V1611.5H2087.7V1619.6H2089.9V1617.9H2092.1V1619.4H2094.3V1615.9H2096.5V1610.4H2098.7V1629.2H2100.9V1629.2Z" fill="#008A8A"/>
<rect x="348.7" y="1612.5" width="2.6" height="16.7" fill="#6CC8C8"/><rect x="348.7" y="1617.0" width="2.6" height="12.2" fill="#00ADAD"/>
<rect x="346.4" y="1602.2" width="2.3" height="27.0" fill="#6CC8C8"/><rect x="346.4" y="1607.6" width="2.3" height="21.6" fill="#008A8A"/>
<path d="M1951.3 1544.7H1953.5M1953.5 1544.7H1955.7" stroke="#B84FB0" stroke-width="3"/>
<text x="67.1" y="1603.3" font-family="'Liberation Sans', Arial, sans-serif" font-weight="normal" font-size="47.34" textLength="230.3" lengthAdjust="spacingAndGlyphs" fill="#008787">scurred_p3</text>
<text x="2116.2" y="1579.0" font-family="'Liberation Sans', Arial, sans-serif" font-weight="normal" font-size="32.22" textLength="53.1" lengthAdjust="spacingAndGlyphs" fill="#008787">200</text>
<text x="2135.0" y="1624.2" font-family="'Liberation Sans', Arial, sans-serif" font-weight="normal" font-size="32.22" textLength="17.6" lengthAdjust="spacingAndGlyphs" fill="#008787">0</text>
<path d="M327.7 1718.5H444.3V1717.5H446.5V1718.5H497.1V1717.2H499.3V1718.5H501.5V1717.4H503.7V1718.5H635.7V1717.4H637.9V1718.5H651.1V1716.5H653.3V1718.5H842.5V1717.2H844.7V1718.5H1011.9V1717.4H1014.1V1718.5H1234.1V1718.0H1236.3V1718.5H1304.5V1715.0H1306.7V1709.2H1308.9V1701.7H1311.1V1701.4H1313.3V1715.2H1315.5V1714.0H1317.7V1718.5H1335.3V1717.8H1337.5V1718.5H1432.1V1716.8H1434.3V1718.5H1447.5V1716.5H1449.7V1718.5H1542.1V1717.5H1544.3V1718.5H1603.7V1716.2H1605.9V1687.8H1608.1V1681.4H1610.3V1691.5H1612.5V1714.5H1614.7V1718.5H1634.5V1717.0H1636.7V1718.5H1643.3V1717.0H1645.5V1718.5H1654.3V1715.9H1656.5V1707.5H1658.7V1701.4H1660.9V1709.4H1663.1V1715.2H1665.3V1718.5H1676.3V1713.4H1678.5V1706.5H1680.7V1701.0H1682.9V1707.2H1685.1V1715.0H1687.3V1718.5H1742.3V1716.2H1744.5V1703.4H1746.7V1697.2H1748.9V1697.0H1751.1V1704.0H1753.3V1715.8H1755.5V1718.5H1790.7V1716.2H1792.9V1714.5H1795.1V1692.5H1797.3V1689.9H1799.5V1702.2H1801.7V1716.8H1803.9V1718.5H1841.3V1715.9H1843.5V1690.8H1845.7V1680.5H1847.9V1679.4H1850.1V1691.0H1852.3V1715.4H1854.5V1718.5H1865.5V1716.9H1867.7V1718.5H1872.1V1704.4H1874.3V1681.0H1876.5V1665.0H1878.7V1682.8H1880.9V1702.9H1883.1V1718.5H1894.1V1713.2H1896.3V1693.0H1898.5V1686.5H1900.7V1686.0H1902.9V1695.5H1905.1V1714.9H1907.3V1718.5H1911.7V1699.2H1913.9V1640.2H1916.1V1632.5H1918.3V1669.4H1920.5V1657.0H1922.7V1632.5H1924.9V1673.5H1927.1V1643.4H1929.3V1664.2H1931.5V1632.5H1933.7V1676.0H1935.9V1673.9H1938.1V1676.0H1940.3V1650.2H1942.5V1658.5H1944.7V1662.0H1946.9V1671.0H1949.1V1681.2H1951.3V1632.5H1957.9V1695.0H1962.3V1707.9H1964.5V1697.5H1966.7V1705.5H1968.9V1700.0H1971.1V1701.2H1973.3V1690.8H1975.5V1698.4H1977.7V1701.4H1979.9V1709.7H1982.1V1711.9H1984.3V1706.5H1986.5V1701.9H1988.7V1703.7H1990.9V1702.4H1993.1V1691.4H1995.3V1699.5H1997.5V1706.5H1999.7V1708.0H2001.9V1697.8H2004.1V1690.9H2006.3V1702.2H2008.5V1709.0H2010.7V1710.2H2012.9V1696.7H2015.1V1692.4H2017.3V1701.4H2019.5V1673.5H2021.7V1677.0H2023.9V1700.5H2026.1V1693.4H2028.3V1685.5H2030.5V1693.5H2032.7V1680.5H2034.9V1694.4H2037.1V1685.5H2039.3V1693.0H2041.5V1681.2H2043.7V1690.0H2045.9V1714.7H2048.1V1717.8H2050.3V1717.5H2052.5V1718.0H2054.7V1717.9H2056.9V1718.0H2059.1V1717.9H2061.3V1717.7H2063.5V1717.5H2065.7V1717.5H2070.1V1717.5H2072.3V1717.7H2074.5V1697.2H2076.7V1683.5H2078.9V1690.2H2081.1V1687.2H2083.3V1686.7H2085.5V1693.0H2087.7V1688.0H2089.9V1683.4H2092.1V1694.0H2094.3V1696.5H2096.5V1681.4H2098.7V1718.5H2100.9V1718.5Z" fill="#6CC8C8"/>
<path d="M327.7 1718.5H444.3V1717.5H446.5V1718.5H497.1V1717.2H499.3V1718.5H501.5V1717.4H503.7V1718.5H635.7V1717.4H637.9V1718.5H651.1V1717.0H653.3V1718.5H842.5V1717.2H844.7V1718.5H1011.9V1717.4H1014.1V1718.5H1234.1V1718.0H1236.3V1718.5H1304.5V1715.9H1306.7V1710.2H1308.9V1705.2H1311.1V1704.9H1313.3V1715.9H1315.5V1715.0H1317.7V1718.5H1335.3V1717.8H1337.5V1718.5H1432.1V1717.0H1434.3V1718.5H1447.5V1717.0H1449.7V1718.5H1542.1V1717.5H1544.3V1718.5H1603.7V1716.5H1605.9V1691.2H1608.1V1688.8H1610.3V1694.5H1612.5V1715.2H1614.7V1718.5H1634.5V1717.2H1636.7V1718.5H1643.3V1717.4H1645.5V1718.5H1654.3V1716.5H1656.5V1709.2H1658.7V1703.8H1660.9V1711.0H1663.1V1716.0H1665.3V1718.5H1676.3V1714.2H1678.5V1707.5H1680.7V1704.9H1682.9V1709.8H1685.1V1715.5H1687.3V1718.5H1742.3V1716.8H1744.5V1707.2H1746.7V1702.8H1748.9V1700.0H1751.1V1705.0H1753.3V1716.0H1755.5V1718.5H1790.7V1716.5H1792.9V1714.9H1795.1V1694.7H1797.3V1696.0H1799.5V1705.4H1801.7V1716.9H1803.9V1718.5H1841.3V1716.0H1843.5V1694.4H1845.7V1685.7H1847.9V1687.2H1850.1V1698.2H1852.3V1716.0H1854.5V1718.5H1865.5V1717.2H1867.7V1718.5H1872.1V1706.2H1874.3V1685.8H1876.5V1672.2H1878.7V1685.2H1880.9V1707.2H1883.1V1718.5H1894.1V1714.4H1896.3V1699.5H1898.5V1692.8H1900.7V1688.2H1902.9V1699.4H1905.1V1715.2H1907.3V1718.5H1911.7V1703.8H1913.9V1655.7H1916.1V1640.4H1918.3V1679.8H1920.5V1663.9H1922.7V1637.0H1924.9V1679.2H1927.1V1663.9H1929.3V1674.9H1931.5V1637.0H1933.7V1684.2H1935.9V1683.5H1938.1V1678.0H1940.3V1660.2H1942.5V1665.7H1944.7V1671.5H1946.9V1677.5H1949.1V1688.4H1951.3V1639.5H1953.5V1650.8H1955.7V1636.9H1957.9V1698.0H1960.1V1701.0H1962.3V1710.5H1964.5V1701.0H1966.7V1706.2H1968.9V1701.9H1971.1V1703.5H1973.3V1693.8H1975.5V1703.0H1977.7V1704.0H1979.9V1712.0H1982.1V1712.9H1984.3V1709.8H1986.5V1706.0H1988.7V1707.5H1990.9V1705.5H1993.1V1696.0H1995.3V1704.0H1997.5V1709.5H1999.7V1710.5H2001.9V1699.0H2004.1V1692.4H2006.3V1703.2H2008.5V1711.4H2010.7V1712.2H2012.9V1698.4H2015.1V1699.5H2017.3V1705.5H2019.5V1679.4H2023.9V1701.7H2026.1V1695.5H2028.3V1692.2H2030.5V1696.2H2032.7V1683.0H2034.9V1696.2H2037.1V1687.4H2039.3V1695.7H2041.5V1684.9H2043.7V1693.4H2045.9V1715.4H2048.1V1717.8H2050.3V1717.5H2052.5V1718.0H2054.7V1717.9H2056.9V1718.0H2059.1V1717.9H2061.3V1717.7H2063.5V1717.5H2065.7V1717.5H2070.1V1717.5H2072.3V1717.7H2074.5V1700.4H2076.7V1686.0H2078.9V1694.5H2081.1V1695.9H2083.3V1692.4H2085.5V1695.0H2087.7V1691.5H2089.9V1689.2H2092.1V1695.5H2094.3V1698.9H2096.5V1689.8H2098.7V1718.5H2100.9V1718.5Z" fill="#00ADAD"/>
<path d="M327.7 1718.5H444.3V1717.5H446.5V1718.5H497.1V1717.2H499.3V1718.5H501.5V1717.4H503.7V1718.5H635.7V1717.4H637.9V1718.5H651.1V1717.0H653.3V1718.5H842.5V1717.2H844.7V1718.5H1011.9V1717.4H1014.1V1718.5H1234.1V1718.0H1236.3V1718.5H1304.5V1716.5H1306.7V1711.7H1308.9V1710.5H1311.1V1707.0H1313.3V1716.5H1315.5V1715.7H1317.7V1718.5H1335.3V1717.8H1337.5V1718.5H1432.1V1717.0H1434.3V1718.5H1447.5V1717.0H1449.7V1718.5H1542.1V1717.5H1544.3V1718.5H1603.7V1717.4H1605.9V1700.0H1608.1V1698.4H1610.3V1702.9H1612.5V1716.0H1614.7V1718.5H1634.5V1717.2H1636.7V1718.5H1643.3V1717.4H1645.5V1718.5H1654.3V1716.9H1656.5V1711.5H1658.7V1706.2H1660.9V1713.8H1663.1V1716.9H1665.3V1718.5H1676.3V1715.5H1678.5V1709.7H1680.7V1707.8H1682.9V1711.0H1685.1V1716.0H1687.3V1718.5H1742.3V1717.2H1744.5V1709.7H1746.7V1705.9H1748.9V1705.0H1751.1V1708.2H1753.3V1716.5H1755.5V1718.5H1790.7V1717.0H1792.9V1716.2H1795.1V1704.0H1797.3V1701.0H1799.5V1708.0H1801.7V1717.5H1803.9V1718.5H1841.3V1716.5H1843.5V1699.5H1845.7V1697.4H1847.9V1698.5H1850.1V1703.0H1852.3V1716.5H1854.5V1718.5H1865.5V1717.2H1867.7V1718.5H1872.1V1710.7H1874.3V1691.5H1876.5V1688.2H1878.7V1691.5H1880.9V1709.0H1883.1V1718.5H1894.1V1715.9H1896.3V1703.9H1898.5V1699.5H1900.7V1693.4H1902.9V1704.9H1905.1V1716.2H1907.3V1718.5H1911.7V1708.8H1913.9V1667.5H1916.1V1646.4H1918.3V1686.5H1920.5V1685.2H1922.7V1635.5H1924.9V1694.8H1927.1V1675.9H1929.3V1682.0H1931.5V1663.0H1933.7V1693.0H1935.9V1693.9H1938.1V1693.5H1940.3V1671.2H1942.5V1680.2H1944.7V1680.9H1946.9V1693.5H1949.1V1699.2H1951.3V1641.0H1953.5V1664.0H1955.7V1646.2H1957.9V1706.0H1960.1V1706.5H1962.3V1713.0H1964.5V1704.2H1966.7V1708.5H1968.9V1707.5H1971.1V1706.7H1973.3V1701.5H1975.5V1706.2H1977.7V1707.5H1979.9V1714.5H1984.3V1712.2H1986.5V1709.5H1988.7V1710.2H1990.9V1708.5H1993.1V1702.7H1995.3V1707.9H1997.5V1711.2H1999.7V1712.4H2001.9V1705.9H2004.1V1701.9H2006.3V1708.4H2008.5V1712.5H2010.7V1714.0H2012.9V1702.0H2015.1V1702.5H2017.3V1708.5H2019.5V1691.4H2021.7V1687.8H2023.9V1706.2H2026.1V1699.2H2028.3V1699.5H2030.5V1701.5H2032.7V1691.2H2034.9V1701.5H2037.1V1698.4H2039.3V1701.5H2041.5V1694.8H2043.7V1699.2H2045.9V1716.0H2048.1V1717.8H2050.3V1717.5H2052.5V1718.0H2054.7V1717.9H2056.9V1718.0H2059.1V1717.9H2061.3V1717.7H2063.5V1717.5H2065.7V1717.5H2070.1V1717.5H2072.3V1717.7H2074.5V1706.7H2076.7V1696.0H2078.9V1702.5H2081.1V1699.5H2083.3V1699.5H2085.5V1701.8H2087.7V1695.8H2089.9V1695.2H2092.1V1699.9H2094.3V1704.2H2096.5V1700.4H2098.7V1718.5H2100.9V1718.5Z" fill="#008A8A"/>
<rect x="348.7" y="1689.9" width="2.6" height="28.5" fill="#6CC8C8"/><rect x="348.7" y="1697.8" width="2.6" height="20.7" fill="#00ADAD"/>
<rect x="346.4" y="1672.5" width="2.3" height="46.0" fill="#6CC8C8"/><rect x="346.4" y="1681.7" width="2.3" height="36.8" fill="#008A8A"/>
<text x="67.3" y="1692.2" font-family="'Liberation Sans', Arial, sans-serif" font-weight="normal" font-size="48.69" textLength="166.1" lengthAdjust="spacingAndGlyphs" fill="#008787">SHE_p1</text>
<text x="2116.2" y="1668.2" font-family="'Liberation Sans', Arial, sans-serif" font-weight="normal" font-size="32.22" textLength="53.1" lengthAdjust="spacingAndGlyphs" fill="#008787">200</text>
<text x="2135.0" y="1713.5" font-family="'Liberation Sans', Arial, sans-serif" font-weight="normal" font-size="32.22" textLength="17.6" lengthAdjust="spacingAndGlyphs" fill="#008787">0</text>
<path d="M327.7 1807.7H763.3V1805.7H765.5V1807.7H776.5V1807.1H778.7V1807.7H816.1V1806.8H818.3V1807.7H833.7V1806.6H835.9V1807.7H1009.7V1806.9H1011.9V1807.7H1051.5V1806.5H1053.7V1807.7H1060.3V1806.8H1062.5V1807.7H1170.3V1806.8H1172.5V1807.7H1192.3V1807.2H1194.5V1807.7H1284.7V1806.3H1286.9V1807.7H1304.5V1802.4H1306.7V1796.4H1308.9V1786.2H1311.1V1785.0H1313.3V1803.1H1315.5V1803.8H1317.7V1807.7H1410.1V1806.7H1412.3V1807.7H1603.7V1803.1H1605.9V1791.8H1608.1V1780.2H1610.3V1792.6H1612.5V1803.1H1614.7V1807.7H1638.9V1806.3H1641.1V1807.7H1654.3V1802.3H1656.5V1792.6H1658.7V1781.0H1660.9V1793.7H1663.1V1802.5H1665.3V1807.7H1674.1V1807.0H1676.3V1806.7H1678.5V1798.5H1680.7V1796.0H1682.9V1799.6H1685.1V1806.6H1687.3V1807.7H1702.7V1807.1H1704.9V1807.7H1709.3V1807.0H1711.5V1807.7H1722.5V1806.9H1724.7V1807.7H1726.9V1807.3H1729.1V1807.7H1742.3V1805.5H1744.5V1790.3H1746.7V1786.5H1748.9V1785.9H1751.1V1791.3H1753.3V1805.6H1755.5V1807.7H1790.7V1804.4H1792.9V1806.7H1795.1V1790.5H1797.3V1791.3H1799.5V1797.7H1801.7V1804.7H1803.9V1807.7H1841.3V1804.5H1843.5V1788.2H1845.7V1779.3H1847.9V1781.4H1850.1V1795.5H1852.3V1805.6H1854.5V1807.7H1872.1V1801.3H1874.3V1782.0H1876.5V1763.6H1878.7V1774.9H1880.9V1804.9H1883.1V1807.7H1894.1V1799.6H1896.3V1789.2H1898.5V1778.7H1900.7V1778.8H1902.9V1784.4H1905.1V1806.1H1907.3V1806.9H1909.5V1806.7H1911.7V1792.0H1913.9V1721.7H1916.1V1729.4H1918.3V1747.3H1920.5V1778.8H1922.7V1756.8H1924.9V1748.3H1927.1V1752.2H1929.3V1730.6H1931.5V1729.4H1933.7V1721.7H1938.1V1773.6H1940.3V1763.8H1942.5V1753.6H1944.7V1726.1H1946.9V1770.5H1949.1V1761.3H1951.3V1721.7H1957.9V1779.4H1960.1V1774.6H1962.3V1781.7H1964.5V1760.1H1966.7V1780.4H1968.9V1762.7H1971.1V1791.3H1973.3V1775.1H1975.5V1783.5H1977.7V1781.4H1979.9V1791.0H1982.1V1791.5H1984.3V1785.0H1986.5V1777.8H1988.7V1775.6H1990.9V1785.5H1993.1V1787.1H1995.3V1773.8H1997.5V1772.4H1999.7V1767.3H2001.9V1790.3H2004.1V1791.5H2006.3V1790.4H2008.5V1770.0H2010.7V1782.2H2012.9V1773.2H2015.1V1778.5H2017.3V1775.7H2019.5V1774.2H2021.7V1768.9H2023.9V1775.5H2026.1V1782.3H2028.3V1773.2H2030.5V1767.3H2032.7V1778.5H2034.9V1762.3H2037.1V1780.3H2039.3V1776.0H2041.5V1780.2H2043.7V1775.6H2045.9V1795.6H2048.1V1807.7H2067.9V1805.4H2070.1V1804.7H2072.3V1805.3H2074.5V1801.0H2076.7V1783.2H2078.9V1774.2H2081.1V1781.3H2083.3V1749.4H2085.5V1778.1H2087.7V1774.3H2089.9V1787.3H2092.1V1783.1H2094.3V1773.5H2096.5V1774.5H2098.7V1807.7H2100.9V1807.7Z" fill="#6CC8C8"/>
<path d="M327.7 1807.7H763.3V1806.0H765.5V1807.7H776.5V1807.1H778.7V1807.7H816.1V1806.8H818.3V1807.7H833.7V1806.6H835.9V1807.7H1009.7V1806.9H1011.9V1807.7H1051.5V1806.5H1053.7V1807.7H1060.3V1806.8H1062.5V1807.7H1170.3V1806.8H1172.5V1807.7H1192.3V1807.2H1194.5V1807.7H1284.7V1806.3H1286.9V1807.7H1304.5V1803.3H1306.7V1798.9H1308.9V1788.2H1311.1V1790.0H1313.3V1804.1H1315.5V1804.9H1317.7V1807.7H1410.1V1806.7H1412.3V1807.7H1603.7V1804.1H1605.9V1792.8H1608.1V1784.9H1610.3V1794.3H1612.5V1803.9H1614.7V1807.7H1638.9V1806.3H1641.1V1807.7H1654.3V1803.5H1656.5V1795.6H1658.7V1785.3H1660.9V1796.7H1663.1V1803.4H1665.3V1807.7H1674.1V1807.0H1676.3V1806.7H1678.5V1801.1H1680.7V1798.2H1682.9V1801.6H1685.1V1806.6H1687.3V1807.7H1702.7V1807.1H1704.9V1807.7H1709.3V1807.0H1711.5V1807.7H1722.5V1806.9H1724.7V1807.7H1726.9V1807.3H1729.1V1807.7H1742.3V1805.9H1744.5V1793.0H1746.7V1788.0H1748.9V1787.6H1751.1V1792.5H1753.3V1806.0H1755.5V1807.7H1790.7V1805.1H1792.9V1806.7H1795.1V1791.9H1797.3V1795.4H1799.5V1799.6H1801.7V1805.5H1803.9V1807.7H1841.3V1804.8H1843.5V1790.3H1845.7V1781.2H1847.9V1787.7H1850.1V1796.5H1852.3V1805.9H1854.5V1807.7H1872.1V1802.3H1874.3V1786.6H1876.5V1767.8H1878.7V1780.5H1880.9V1805.0H1883.1V1807.7H1894.1V1800.2H1896.3V1792.8H1898.5V1783.2H1900.7V1784.1H1902.9V1786.1H1905.1V1806.3H1907.3V1806.9H1909.5V1806.7H1911.7V1794.9H1913.9V1738.5H1916.1V1745.6H1918.3V1755.0H1920.5V1782.5H1922.7V1763.8H1924.9V1757.8H1927.1V1759.2H1929.3V1752.1H1931.5V1742.7H1933.7V1732.1H1935.9V1731.3H1938.1V1776.8H1940.3V1773.8H1942.5V1757.2H1944.7V1730.8H1946.9V1775.6H1949.1V1765.5H1951.3V1741.9H1953.5V1721.9H1955.7V1722.0H1957.9V1783.9H1960.1V1777.1H1962.3V1786.9H1964.5V1763.2H1966.7V1782.8H1968.9V1774.8H1971.1V1795.8H1973.3V1776.8H1975.5V1787.5H1977.7V1784.1H1979.9V1792.4H1982.1V1794.9H1984.3V1791.3H1986.5V1780.2H1988.7V1777.7H1990.9V1789.7H1995.3V1783.2H1997.5V1774.7H1999.7V1772.9H2001.9V1791.3H2004.1V1793.5H2006.3V1793.8H2008.5V1779.0H2010.7V1786.4H2012.9V1776.0H2015.1V1783.1H2017.3V1780.7H2019.5V1781.9H2021.7V1778.4H2023.9V1782.8H2026.1V1787.6H2028.3V1779.1H2030.5V1769.9H2032.7V1784.9H2034.9V1772.6H2037.1V1783.3H2039.3V1778.0H2041.5V1786.4H2043.7V1782.4H2045.9V1797.9H2048.1V1807.7H2067.9V1806.0H2070.1V1805.5H2072.3V1805.6H2074.5V1802.5H2076.7V1788.7H2078.9V1777.4H2081.1V1785.7H2083.3V1758.2H2085.5V1781.9H2087.7V1778.0H2089.9V1788.7H2092.1V1784.5H2094.3V1782.2H2096.5V1778.2H2098.7V1807.7H2100.9V1807.7Z" fill="#00ADAD"/>
<path d="M327.7 1807.7H763.3V1806.7H765.5V1807.7H776.5V1807.1H778.7V1807.7H816.1V1806.8H818.3V1807.7H833.7V1806.6H835.9V1807.7H1009.7V1806.9H1011.9V1807.7H1051.5V1806.5H1053.7V1807.7H1060.3V1806.8H1062.5V1807.7H1170.3V1806.8H1172.5V1807.7H1192.3V1807.2H1194.5V1807.7H1284.7V1806.3H1286.9V1807.7H1304.5V1804.9H1306.7V1801.8H1308.9V1795.4H1311.1V1796.4H1313.3V1805.3H1315.5V1805.4H1317.7V1807.7H1410.1V1806.7H1412.3V1807.7H1603.7V1804.9H1605.9V1796.9H1608.1V1790.9H1610.3V1797.1H1612.5V1804.8H1614.7V1807.7H1638.9V1806.3H1641.1V1807.7H1654.3V1805.1H1656.5V1799.1H1658.7V1793.1H1660.9V1799.8H1663.1V1804.0H1665.3V1807.7H1674.1V1807.0H1676.3V1806.7H1678.5V1803.4H1680.7V1801.2H1682.9V1803.2H1685.1V1806.6H1687.3V1807.7H1702.7V1807.1H1704.9V1807.7H1709.3V1807.0H1711.5V1807.7H1722.5V1806.9H1724.7V1807.7H1726.9V1807.3H1729.1V1807.7H1742.3V1806.3H1744.5V1797.8H1746.7V1793.9H1748.9V1793.2H1751.1V1795.0H1753.3V1806.6H1755.5V1807.7H1790.7V1805.6H1792.9V1806.7H1795.1V1796.1H1797.3V1797.5H1799.5V1802.1H1801.7V1806.0H1803.9V1807.7H1841.3V1806.0H1843.5V1796.3H1845.7V1787.5H1847.9V1794.0H1850.1V1799.6H1852.3V1806.2H1854.5V1807.7H1872.1V1803.7H1874.3V1791.5H1876.5V1778.1H1878.7V1789.7H1880.9V1805.4H1883.1V1807.7H1894.1V1802.5H1896.3V1798.7H1898.5V1790.4H1900.7V1791.1H1902.9V1793.7H1905.1V1806.3H1907.3V1806.9H1909.5V1806.7H1911.7V1798.7H1913.9V1764.9H1916.1V1755.8H1918.3V1769.2H1920.5V1790.8H1922.7V1775.4H1924.9V1770.4H1927.1V1773.9H1929.3V1763.1H1931.5V1761.3H1933.7V1744.9H1935.9V1747.3H1938.1V1783.8H1940.3V1786.0H1942.5V1768.5H1944.7V1742.7H1946.9V1781.9H1951.3V1763.5H1953.5V1726.3H1955.7V1730.9H1957.9V1788.1H1960.1V1784.1H1962.3V1791.8H1964.5V1775.0H1966.7V1788.2H1968.9V1783.5H1971.1V1798.2H1973.3V1787.9H1975.5V1793.2H1977.7V1789.8H1979.9V1798.2H1982.1V1798.3H1984.3V1794.1H1986.5V1790.6H1988.7V1784.2H1990.9V1793.7H1993.1V1792.9H1995.3V1787.1H1997.5V1782.6H1999.7V1781.7H2001.9V1795.9H2004.1V1797.6H2006.3V1797.3H2008.5V1788.1H2010.7V1790.6H2012.9V1784.4H2015.1V1790.2H2017.3V1788.0H2019.5V1787.6H2021.7V1784.0H2023.9V1787.7H2026.1V1792.1H2028.3V1788.8H2030.5V1785.0H2032.7V1793.3H2034.9V1785.9H2037.1V1790.0H2039.3V1789.3H2041.5V1792.4H2043.7V1787.7H2045.9V1800.7H2048.1V1807.7H2067.9V1806.3H2070.1V1806.2H2074.5V1804.2H2076.7V1795.7H2078.9V1785.1H2081.1V1793.8H2083.3V1776.2H2085.5V1790.4H2087.7V1784.4H2089.9V1791.6H2092.1V1792.5H2094.3V1790.9H2096.5V1782.8H2098.7V1807.7H2100.9V1807.7Z" fill="#008A8A"/>
<rect x="348.7" y="1783.5" width="2.6" height="24.2" fill="#6CC8C8"/><rect x="348.7" y="1790.2" width="2.6" height="17.6" fill="#00ADAD"/>
<rect x="346.4" y="1768.7" width="2.3" height="39.0" fill="#6CC8C8"/><rect x="346.4" y="1776.5" width="2.3" height="31.2" fill="#008A8A"/>
<path d="M1951.3 1723.2H1953.5M1953.5 1723.2H1955.7" stroke="#B84FB0" stroke-width="3"/>
<text x="66.7" y="1780.2" font-family="'Liberation Sans', Arial, sans-serif" font-weight="normal" font-size="48.84" textLength="172.1" lengthAdjust="spacingAndGlyphs" fill="#008787">SHE_p2</text>
<text x="2116.2" y="1757.5" font-family="'Liberation Sans', Arial, sans-serif" font-weight="normal" font-size="32.22" textLength="53.1" lengthAdjust="spacingAndGlyphs" fill="#008787">200</text>
<text x="2135.0" y="1802.7" font-family="'Liberation Sans', Arial, sans-serif" font-weight="normal" font-size="32.22" textLength="17.6" lengthAdjust="spacingAndGlyphs" fill="#008787">0</text>
<path d="M327.7 1897.0H428.9V1896.5H431.1V1897.0H684.1V1896.4H686.3V1897.0H910.7V1896.0H912.9V1897.0H1062.5V1896.2H1064.7V1897.0H1190.1V1896.4H1192.3V1897.0H1198.9V1895.7H1201.1V1897.0H1304.5V1889.8H1306.7V1879.0H1308.9V1870.2H1313.3V1889.5H1317.7V1897.0H1396.9V1896.2H1399.1V1897.0H1603.7V1892.4H1605.9V1867.0H1608.1V1864.0H1610.3V1875.2H1612.5V1894.0H1614.7V1897.0H1654.3V1894.5H1656.5V1877.2H1658.7V1867.8H1660.9V1880.4H1663.1V1894.4H1665.3V1897.0H1676.3V1896.2H1678.5V1890.5H1680.7V1883.4H1682.9V1885.4H1685.1V1895.7H1687.3V1896.4H1689.5V1897.0H1742.3V1892.9H1744.5V1883.5H1746.7V1877.5H1748.9V1876.5H1751.1V1882.0H1753.3V1894.5H1755.5V1897.0H1790.7V1892.5H1792.9V1895.2H1795.1V1877.7H1797.3V1878.2H1799.5V1882.5H1801.7V1893.0H1803.9V1897.0H1841.3V1893.2H1843.5V1867.2H1845.7V1860.2H1847.9V1860.0H1850.1V1880.0H1852.3V1889.5H1854.5V1897.0H1872.1V1879.4H1874.3V1859.9H1876.5V1823.4H1878.7V1851.4H1880.9V1879.8H1883.1V1897.0H1894.1V1893.9H1896.3V1878.9H1898.5V1864.2H1900.7V1863.2H1902.9V1869.5H1905.1V1891.4H1907.3V1897.0H1909.5V1889.9H1911.7V1871.5H1913.9V1819.5H1916.1V1811.0H1918.3V1833.4H1920.5V1869.0H1922.7V1811.0H1927.1V1848.4H1929.3V1861.0H1931.5V1841.0H1933.7V1811.0H1935.9V1834.9H1938.1V1843.2H1940.3V1850.8H1942.5V1859.5H1944.7V1845.2H1946.9V1850.8H1949.1V1811.0H1957.9V1878.8H1960.1V1878.2H1962.3V1891.8H1964.5V1891.0H1966.7V1888.2H1968.9V1887.5H1971.1V1895.5H1973.3V1891.8H1975.5V1888.4H1977.7V1891.8H1979.9V1894.8H1982.1V1895.9H1984.3V1888.2H1986.5V1890.2H1988.7V1892.9H1993.1V1883.9H1995.3V1884.5H1997.5V1888.5H1999.7V1889.2H2001.9V1888.7H2004.1V1886.9H2006.3V1887.8H2008.5V1888.0H2010.7V1886.5H2012.9V1886.8H2015.1V1890.2H2017.3V1892.9H2019.5V1882.0H2021.7V1878.0H2023.9V1887.4H2026.1V1887.0H2028.3V1886.2H2030.5V1888.7H2032.7V1887.5H2034.9V1884.7H2037.1V1878.4H2039.3V1883.7H2041.5V1884.0H2043.7V1882.2H2045.9V1896.0H2048.1V1897.0H2074.5V1887.2H2076.7V1888.9H2078.9V1885.5H2081.1V1881.5H2083.3V1882.4H2085.5V1885.8H2087.7V1885.9H2089.9V1879.0H2092.1V1881.5H2094.3V1888.9H2096.5V1887.2H2098.7V1897.0H2100.9V1897.0Z" fill="#6CC8C8"/>
<path d="M327.7 1897.0H428.9V1896.5H431.1V1897.0H684.1V1896.4H686.3V1897.0H910.7V1896.0H912.9V1897.0H1062.5V1896.2H1064.7V1897.0H1190.1V1896.4H1192.3V1897.0H1198.9V1895.7H1201.1V1897.0H1304.5V1890.2H1306.7V1880.8H1308.9V1876.0H1311.1V1875.0H1313.3V1891.2H1315.5V1890.5H1317.7V1897.0H1396.9V1896.2H1399.1V1897.0H1603.7V1893.2H1605.9V1872.2H1608.1V1870.4H1610.3V1880.5H1612.5V1894.4H1614.7V1897.0H1654.3V1894.7H1656.5V1881.2H1658.7V1875.0H1660.9V1882.7H1663.1V1894.8H1665.3V1897.0H1676.3V1896.2H1678.5V1891.5H1680.7V1884.7H1682.9V1886.2H1685.1V1895.7H1687.3V1896.4H1689.5V1897.0H1742.3V1893.2H1744.5V1885.4H1746.7V1878.8H1748.9V1879.5H1751.1V1884.5H1753.3V1895.0H1755.5V1897.0H1790.7V1893.5H1792.9V1895.5H1795.1V1881.9H1797.3V1882.2H1799.5V1885.9H1801.7V1894.0H1803.9V1897.0H1841.3V1893.9H1843.5V1872.5H1845.7V1863.7H1847.9V1864.2H1850.1V1881.2H1852.3V1890.0H1854.5V1897.0H1872.1V1883.9H1874.3V1864.5H1876.5V1828.4H1878.7V1863.2H1880.9V1884.0H1883.1V1897.0H1894.1V1894.8H1896.3V1883.2H1898.5V1866.2H1900.7V1865.9H1902.9V1876.4H1905.1V1893.0H1907.3V1897.0H1909.5V1891.7H1911.7V1873.5H1913.9V1835.5H1916.1V1812.7H1918.3V1845.9H1920.5V1874.2H1922.7V1815.7H1924.9V1818.5H1927.1V1861.2H1929.3V1867.7H1931.5V1847.5H1933.7V1819.5H1935.9V1843.4H1938.1V1854.8H1940.3V1863.4H1942.5V1868.0H1944.7V1853.0H1946.9V1854.2H1949.1V1823.4H1951.3V1823.2H1953.5V1827.5H1955.7V1816.5H1957.9V1879.9H1960.1V1881.4H1962.3V1892.5H1964.5V1891.9H1966.7V1890.0H1968.9V1888.2H1971.1V1895.5H1973.3V1893.0H1975.5V1890.0H1977.7V1892.2H1979.9V1895.0H1982.1V1895.9H1984.3V1890.0H1986.5V1891.8H1988.7V1893.7H1990.9V1893.4H1993.1V1885.5H1995.3V1886.2H1997.5V1889.2H1999.7V1890.8H2001.9V1890.5H2004.1V1888.2H2006.3V1888.4H2008.5V1889.0H2010.7V1887.4H2012.9V1887.7H2015.1V1892.0H2017.3V1893.4H2019.5V1885.4H2021.7V1880.2H2023.9V1888.4H2026.1V1887.9H2028.3V1888.9H2030.5V1890.2H2032.7V1889.9H2034.9V1885.8H2037.1V1880.5H2039.3V1885.7H2041.5V1886.0H2043.7V1883.8H2045.9V1896.0H2048.1V1897.0H2074.5V1888.9H2076.7V1890.8H2078.9V1886.2H2081.1V1883.0H2083.3V1884.8H2085.5V1887.5H2087.7V1888.5H2089.9V1883.0H2092.1V1885.7H2094.3V1889.9H2096.5V1888.0H2098.7V1897.0H2100.9V1897.0Z" fill="#00ADAD"/>
<path d="M327.7 1897.0H428.9V1896.5H431.1V1897.0H684.1V1896.4H686.3V1897.0H910.7V1896.0H912.9V1897.0H1062.5V1896.2H1064.7V1897.0H1190.1V1896.4H1192.3V1897.0H1198.9V1895.7H1201.1V1897.0H1304.5V1892.5H1306.7V1886.5H1308.9V1882.0H1311.1V1882.2H1313.3V1892.5H1315.5V1892.7H1317.7V1897.0H1396.9V1896.2H1399.1V1897.0H1603.7V1894.5H1605.9V1879.5H1608.1V1875.4H1610.3V1884.2H1612.5V1895.4H1614.7V1897.0H1654.3V1895.5H1656.5V1887.2H1658.7V1880.2H1660.9V1886.0H1663.1V1895.5H1665.3V1897.0H1676.3V1896.2H1678.5V1893.4H1680.7V1887.0H1682.9V1890.4H1685.1V1895.7H1687.3V1896.4H1689.5V1897.0H1742.3V1894.0H1744.5V1887.5H1746.7V1883.0H1748.9V1885.2H1751.1V1887.2H1753.3V1895.4H1755.5V1897.0H1790.7V1894.4H1792.9V1895.5H1795.1V1885.5H1797.3V1886.0H1799.5V1887.8H1801.7V1894.5H1803.9V1897.0H1841.3V1894.5H1843.5V1879.4H1845.7V1876.0H1847.9V1873.2H1850.1V1885.9H1852.3V1891.7H1854.5V1897.0H1872.1V1887.5H1874.3V1875.5H1876.5V1852.4H1878.7V1870.5H1880.9V1887.4H1883.1V1897.0H1894.1V1895.2H1896.3V1888.0H1898.5V1875.0H1900.7V1877.4H1902.9V1883.7H1905.1V1894.2H1907.3V1897.0H1909.5V1893.5H1911.7V1877.2H1913.9V1858.5H1916.1V1814.5H1918.3V1865.2H1920.5V1878.2H1922.7V1816.5H1924.9V1828.4H1927.1V1872.7H1929.3V1876.8H1931.5V1866.0H1933.7V1831.2H1935.9V1863.9H1938.1V1864.5H1940.3V1872.4H1942.5V1877.5H1944.7V1863.5H1946.9V1863.8H1949.1V1851.7H1951.3V1835.9H1953.5V1840.0H1955.7V1814.7H1957.9V1882.8H1960.1V1886.2H1962.3V1894.0H1964.5V1893.4H1966.7V1891.2H1968.9V1890.2H1971.1V1895.5H1973.3V1894.5H1975.5V1891.5H1977.7V1893.0H1979.9V1895.7H1982.1V1895.9H1984.3V1891.7H1986.5V1892.7H1988.7V1894.7H1990.9V1894.0H1993.1V1888.5H1997.5V1890.5H1999.7V1893.0H2001.9V1892.8H2004.1V1890.5H2006.3V1891.0H2008.5V1891.7H2010.7V1891.2H2012.9V1890.4H2015.1V1892.8H2017.3V1894.5H2019.5V1889.4H2021.7V1885.4H2023.9V1890.5H2026.1V1891.5H2028.3V1891.8H2030.5V1892.0H2034.9V1888.4H2037.1V1886.5H2039.3V1890.0H2041.5V1888.0H2043.7V1886.5H2045.9V1896.0H2048.1V1897.0H2074.5V1890.9H2076.7V1892.4H2078.9V1890.0H2081.1V1888.0H2083.3V1888.2H2085.5V1889.5H2087.7V1890.9H2089.9V1886.9H2092.1V1890.0H2094.3V1891.0H2098.7V1897.0H2100.9V1897.0Z" fill="#008A8A"/>
<rect x="348.7" y="1865.3" width="2.6" height="31.6" fill="#6CC8C8"/><rect x="348.7" y="1874.0" width="2.6" height="22.9" fill="#00ADAD"/>
<rect x="346.4" y="1846.0" width="2.3" height="51.0" fill="#6CC8C8"/><rect x="346.4" y="1856.2" width="2.3" height="40.8" fill="#008A8A"/>
<path d="M1951.3 1812.5H1953.5M1953.5 1812.5H1955.7" stroke="#B84FB0" stroke-width="3"/>
<text x="66.7" y="1870.1" font-family="'Liberation Sans', Arial, sans-serif" font-weight="normal" font-size="48.84" textLength="171.8" lengthAdjust="spacingAndGlyphs" fill="#008787">SHE_p3</text>
<text x="2116.2" y="1846.8" font-family="'Liberation Sans', Arial, sans-serif" font-weight="normal" font-size="32.22" textLength="53.1" lengthAdjust="spacingAndGlyphs" fill="#008787">200</text>
<text x="2135.0" y="1892.0" font-family="'Liberation Sans', Arial, sans-serif" font-weight="normal" font-size="32.22" textLength="17.6" lengthAdjust="spacingAndGlyphs" fill="#008787">0</text>
<path d="M327.7 1986.2H354.1V1983.7H356.3V1982.6H358.5V1982.7H360.7V1982.2H362.9V1984.2H365.1V1981.0H367.3V1982.2H369.5V1983.8H371.7V1983.1H373.9V1982.9H376.1V1982.6H378.3V1979.0H380.5V1971.2H382.7V1975.5H384.9V1973.3H387.1V1976.9H389.3V1977.8H391.5V1971.5H393.7V1975.5H395.9V1980.6H398.1V1986.2H400.3V1970.1H402.5V1979.4H404.7V1980.3H406.9V1986.2H409.1V1978.3H411.3V1979.7H413.5V1977.9H415.7V1981.5H417.9V1977.3H420.1V1980.3H422.3V1982.8H424.5V1979.7H426.7V1983.4H428.9V1979.7H431.1V1973.9H433.3V1977.9H435.5V1977.5H437.7V1980.5H439.9V1977.7H442.1V1979.6H444.3V1982.0H446.5V1979.7H448.7V1979.8H450.9V1980.5H453.1V1978.6H455.3V1977.6H457.5V1986.2H459.7V1975.4H461.9V1981.4H464.1V1981.0H466.3V1978.5H468.5V1977.4H470.7V1982.8H472.9V1978.4H475.1V1983.6H477.3V1983.3H479.5V1979.9H481.7V1986.2H483.9V1982.4H486.1V1981.8H488.3V1983.5H490.5V1986.2H494.9V1982.7H497.1V1978.9H499.3V1982.3H501.5V1969.8H503.7V1986.2H505.9V1979.8H508.1V1975.9H510.3V1975.8H512.5V1981.7H514.7V1978.3H516.9V1986.2H519.1V1979.2H521.3V1976.5H523.5V1979.6H525.7V1979.2H527.9V1986.2H530.1V1978.3H532.3V1976.0H534.5V1980.0H536.7V1986.2H538.9V1982.9H541.1V1980.8H543.3V1979.1H547.7V1986.2H549.9V1982.1H552.1V1977.2H554.3V1977.8H556.5V1982.2H558.7V1977.2H560.9V1983.4H563.1V1982.5H565.3V1980.1H567.5V1976.0H569.7V1986.2H574.1V1983.7H576.3V1986.2H578.5V1981.0H580.7V1981.8H582.9V1980.2H585.1V1981.5H587.3V1982.0H589.5V1973.5H591.7V1986.2H593.9V1982.2H596.1V1986.2H598.3V1980.7H600.5V1979.2H602.7V1986.2H604.9V1981.4H607.1V1986.2H615.9V1978.9H618.1V1986.2H620.3V1982.3H622.5V1986.2H624.7V1979.6H626.9V1986.2H633.5V1982.0H635.7V1986.2H637.9V1984.2H640.1V1983.1H642.3V1986.2H644.5V1981.8H646.7V1983.0H648.9V1982.6H651.1V1986.2H655.5V1982.2H657.7V1981.6H659.9V1983.9H662.1V1983.1H664.3V1986.2H666.5V1983.8H668.7V1986.2H670.9V1978.5H673.1V1986.2H675.3V1976.4H677.5V1986.2H684.1V1978.8H686.3V1986.2H688.5V1977.6H690.7V1979.1H692.9V1980.5H695.1V1980.9H697.3V1982.5H699.5V1978.4H701.7V1982.8H703.9V1983.2H706.1V1980.2H708.3V1986.2H710.5V1983.6H712.7V1979.9H714.9V1986.2H717.1V1975.2H719.3V1982.8H721.5V1982.9H723.7V1981.7H725.9V1986.2H728.1V1977.6H730.3V1974.8H732.5V1980.2H734.7V1975.7H736.9V1986.2H739.1V1976.3H741.3V1986.2H743.5V1975.2H745.7V1986.2H747.9V1983.3H750.1V1979.1H752.3V1981.1H754.5V1980.8H756.7V1986.2H763.3V1983.8H765.5V1986.2H767.7V1983.6H769.9V1986.2H772.1V1983.4H774.3V1984.1H776.5V1982.5H778.7V1984.6H780.9V1981.7H783.1V1982.6H785.3V1982.3H787.5V1986.2H789.7V1983.5H791.9V1982.5H794.1V1986.2H796.3V1978.0H798.5V1986.2H802.9V1982.2H805.1V1986.2H807.3V1977.8H809.5V1986.2H811.7V1977.7H813.9V1977.8H816.1V1986.2H822.7V1982.5H824.9V1981.5H827.1V1986.2H829.3V1983.0H831.5V1983.9H833.7V1983.6H835.9V1986.2H838.1V1981.5H840.3V1986.2H849.1V1981.5H851.3V1986.2H853.5V1981.1H855.7V1986.2H862.3V1982.9H864.5V1983.1H866.7V1986.2H868.9V1981.7H871.1V1979.3H873.3V1979.4H875.5V1979.5H877.7V1982.0H879.9V1977.6H882.1V1982.2H884.3V1978.0H886.5V1980.0H888.7V1986.2H890.9V1979.5H893.1V1973.5H895.3V1980.9H897.5V1986.2H899.7V1979.0H901.9V1986.2H908.5V1983.6H910.7V1980.3H912.9V1981.3H915.1V1984.2H917.3V1981.1H919.5V1986.2H923.9V1984.5H926.1V1981.6H928.3V1983.9H930.5V1985.0H934.9V1983.9H937.1V1986.2H939.3V1984.1H941.5V1981.7H943.7V1981.3H945.9V1982.7H948.1V1986.2H950.3V1983.8H952.5V1983.6H954.7V1986.2H956.9V1979.1H959.1V1986.2H965.7V1979.8H967.9V1986.2H972.3V1976.6H974.5V1986.2H981.1V1984.1H983.3V1986.2H985.5V1982.2H987.7V1986.2H989.9V1984.4H992.1V1983.0H994.3V1986.2H998.7V1982.6H1000.9V1986.2H1003.1V1983.2H1005.3V1983.5H1007.5V1986.2H1014.1V1980.8H1016.3V1986.2H1020.7V1976.8H1022.9V1978.2H1025.1V1986.2H1029.5V1976.9H1031.7V1980.6H1033.9V1986.2H1040.5V1979.4H1042.7V1986.2H1044.9V1983.9H1047.1V1986.2H1049.3V1983.0H1051.5V1983.4H1053.7V1986.2H1058.1V1983.5H1060.3V1982.6H1062.5V1984.9H1064.7V1982.9H1066.9V1980.1H1069.1V1986.2H1071.3V1984.0H1073.5V1982.6H1075.7V1986.2H1082.3V1981.0H1084.5V1986.2H1088.9V1983.1H1091.1V1984.4H1093.3V1982.1H1095.5V1982.2H1097.7V1983.5H1099.9V1981.1H1102.1V1986.2H1104.3V1983.0H1106.5V1986.2H1113.1V1980.1H1115.3V1983.0H1117.5V1980.9H1119.7V1982.6H1121.9V1981.8H1124.1V1981.2H1126.3V1986.2H1132.9V1981.8H1135.1V1986.2H1139.5V1982.6H1141.7V1984.7H1143.9V1983.2H1146.1V1982.8H1148.3V1984.4H1150.5V1986.2H1154.9V1983.6H1157.1V1986.2H1159.3V1982.9H1161.5V1986.2H1165.9V1982.7H1168.1V1981.8H1170.3V1986.2H1174.7V1982.9H1176.9V1978.3H1179.1V1986.2H1181.3V1979.6H1183.5V1979.4H1185.7V1986.2H1187.9V1982.4H1190.1V1979.5H1192.3V1978.0H1194.5V1979.6H1196.7V1981.6H1198.9V1977.5H1201.1V1980.2H1203.3V1982.3H1205.5V1986.2H1209.9V1982.4H1212.1V1982.8H1214.3V1981.6H1216.5V1986.2H1218.7V1983.7H1220.9V1979.6H1223.1V1984.2H1225.3V1986.2H1229.7V1978.3H1231.9V1984.2H1234.1V1982.4H1236.3V1981.6H1238.5V1986.2H1240.7V1981.8H1242.9V1986.2H1245.1V1982.0H1247.3V1982.2H1249.5V1986.2H1251.7V1982.1H1253.9V1982.7H1256.1V1982.8H1258.3V1980.2H1260.5V1982.6H1262.7V1981.1H1264.9V1983.4H1267.1V1982.0H1269.3V1983.1H1271.5V1986.2H1273.7V1979.7H1275.9V1986.2H1278.1V1981.7H1280.3V1986.2H1284.7V1982.7H1286.9V1986.2H1293.5V1982.2H1295.7V1986.2H1297.9V1982.6H1300.1V1986.2H1304.5V1978.9H1306.7V1937.5H1308.9V1916.3H1311.1V1911.0H1313.3V1981.2H1315.5V1966.2H1317.7V1983.0H1319.9V1982.0H1322.1V1986.2H1324.3V1981.9H1326.5V1986.2H1330.9V1984.2H1333.1V1986.2H1346.3V1982.9H1348.5V1984.0H1350.7V1986.2H1366.1V1984.5H1368.3V1986.2H1372.7V1983.3H1374.9V1984.8H1377.1V1986.2H1383.7V1984.7H1385.9V1985.2H1388.1V1986.2H1394.7V1983.7H1396.9V1982.3H1399.1V1986.2H1421.1V1981.9H1423.3V1986.2H1425.5V1984.3H1427.7V1981.8H1429.9V1986.2H1432.1V1982.2H1434.3V1986.2H1436.5V1983.1H1438.7V1986.2H1449.7V1984.3H1451.9V1984.4H1454.1V1983.1H1456.3V1986.2H1482.7V1981.6H1484.9V1986.2H1489.3V1977.2H1491.5V1980.9H1493.7V1983.6H1495.9V1983.5H1498.1V1986.2H1500.3V1981.4H1502.5V1986.2H1504.7V1981.0H1506.9V1980.0H1509.1V1986.2H1513.5V1983.4H1515.7V1986.2H1517.9V1983.9H1520.1V1984.0H1522.3V1986.2H1526.7V1981.1H1528.9V1984.5H1531.1V1986.2H1548.7V1983.5H1550.9V1984.7H1553.1V1985.1H1555.3V1986.2H1561.9V1984.5H1564.1V1986.2H1570.7V1982.0H1572.9V1984.6H1575.1V1981.4H1577.3V1986.2H1579.5V1982.1H1581.7V1982.0H1583.9V1986.2H1590.5V1983.4H1592.7V1984.1H1594.9V1986.2H1599.3V1978.9H1601.5V1983.0H1603.7V1965.7H1605.9V1948.9H1608.1V1903.6H1610.3V1903.9H1612.5V1932.4H1614.7V1967.3H1616.9V1986.2H1619.1V1981.8H1621.3V1982.9H1623.5V1982.1H1625.7V1986.2H1627.9V1982.5H1630.1V1986.2H1632.3V1982.0H1634.5V1978.2H1636.7V1977.5H1638.9V1977.6H1641.1V1986.2H1645.5V1978.3H1647.7V1986.2H1649.9V1976.6H1652.1V1976.3H1654.3V1965.1H1656.5V1928.8H1658.7V1907.3H1660.9V1923.9H1663.1V1963.9H1665.3V1983.3H1667.5V1982.5H1669.7V1983.8H1671.9V1983.7H1674.1V1979.4H1676.3V1958.5H1678.5V1943.1H1680.7V1962.2H1682.9V1975.1H1685.1V1986.2H1687.3V1980.3H1689.5V1981.6H1691.7V1981.1H1693.9V1983.6H1696.1V1979.8H1698.3V1981.6H1700.5V1979.8H1702.7V1980.9H1704.9V1980.3H1707.1V1986.2H1713.7V1981.7H1715.9V1983.7H1718.1V1981.2H1720.3V1986.2H1724.7V1983.4H1726.9V1978.7H1729.1V1982.6H1731.3V1980.9H1733.5V1986.2H1735.7V1982.7H1737.9V1986.2H1740.1V1968.3H1742.3V1954.2H1744.5V1914.6H1746.7V1912.7H1748.9V1930.9H1751.1V1977.1H1753.3V1983.1H1755.5V1983.7H1757.7V1981.8H1759.9V1981.4H1762.1V1981.1H1764.3V1983.3H1766.5V1986.2H1768.7V1984.4H1770.9V1978.4H1773.1V1983.5H1775.3V1981.3H1777.5V1984.5H1779.7V1982.3H1781.9V1986.2H1784.1V1983.0H1786.3V1986.2H1788.5V1981.9H1790.7V1974.3H1792.9V1972.2H1795.1V1947.7H1797.3V1924.5H1799.5V1942.3H1801.7V1973.6H1803.9V1972.3H1806.1V1972.4H1808.3V1980.2H1810.5V1986.2H1812.7V1974.4H1814.9V1975.7H1817.1V1972.6H1819.3V1986.2H1821.5V1976.5H1823.7V1986.2H1825.9V1972.5H1828.1V1981.9H1830.3V1980.9H1832.5V1983.3H1834.7V1986.2H1836.9V1984.7H1841.3V1970.4H1843.5V1952.5H1845.7V1928.2H1847.9V1932.1H1850.1V1944.4H1852.3V1978.6H1854.5V1986.2H1856.7V1980.9H1858.9V1982.3H1861.1V1980.5H1863.3V1979.5H1865.5V1981.3H1867.7V1982.2H1869.9V1976.5H1872.1V1947.0H1874.3V1902.6H1876.5V1908.5H1878.7V1947.1H1880.9V1967.7H1883.1V1986.2H1885.3V1982.1H1887.5V1981.5H1889.7V1982.6H1891.9V1982.4H1894.1V1971.0H1896.3V1950.4H1898.5V1915.4H1900.7V1918.8H1902.9V1943.3H1905.1V1975.1H1907.3V1976.1H1909.5V1975.8H1911.7V1958.0H1913.9V1900.2H1929.3V1908.8H1931.5V1900.2H1933.7V1908.8H1935.9V1900.2H1940.3V1927.9H1942.5V1938.3H1944.7V1912.2H1946.9V1942.7H1949.1V1900.2H1951.3V1944.1H1953.5V1955.0H1955.7V1961.4H1957.9V1981.7H1960.1V1981.1H1962.3V1978.5H1964.5V1984.2H1966.7V1985.6H1971.1V1985.1H1973.3V1981.8H1975.5V1980.3H1977.7V1978.6H1979.9V1981.6H1982.1V1980.2H1984.3V1982.6H1986.5V1984.2H1988.7V1984.8H1990.9V1979.6H1993.1V1973.9H1995.3V1976.7H1997.5V1966.6H1999.7V1975.1H2001.9V1978.7H2004.1V1977.1H2006.3V1964.2H2008.5V1965.8H2010.7V1978.4H2012.9V1976.6H2015.1V1979.3H2017.3V1979.1H2019.5V1978.7H2021.7V1977.0H2023.9V1975.1H2026.1V1977.6H2028.3V1975.7H2030.5V1967.7H2032.7V1972.4H2034.9V1981.2H2037.1V1977.7H2039.3V1980.8H2041.5V1984.6H2045.9V1986.2H2074.5V1981.4H2076.7V1969.0H2078.9V1975.1H2081.1V1985.2H2083.3V1977.9H2085.5V1977.4H2087.7V1979.4H2089.9V1974.7H2092.1V1977.0H2094.3V1974.1H2096.5V1975.0H2098.7V1986.2H2100.9V1986.2Z" fill="#FFC4C4"/>
<path d="M327.7 1986.2H354.1V1984.0H356.3V1983.2H358.5V1983.5H360.7V1983.2H362.9V1984.3H365.1V1981.4H367.3V1982.9H369.5V1984.0H371.7V1983.4H373.9V1983.6H376.1V1983.0H378.3V1979.6H380.5V1974.3H382.7V1976.2H384.9V1975.9H387.1V1979.1H389.3V1978.5H391.5V1972.9H393.7V1977.9H395.9V1981.5H398.1V1986.2H400.3V1974.0H402.5V1980.1H404.7V1981.8H406.9V1986.2H409.1V1978.7H411.3V1980.1H413.5V1979.5H415.7V1981.8H417.9V1978.9H420.1V1981.1H422.3V1983.1H424.5V1981.5H426.7V1984.2H428.9V1981.0H431.1V1975.8H433.3V1978.8H435.5V1979.6H437.7V1982.0H439.9V1980.1H442.1V1981.4H444.3V1983.0H446.5V1980.1H448.7V1981.0H450.9V1981.8H453.1V1980.4H455.3V1979.1H457.5V1986.2H459.7V1977.8H461.9V1982.5H464.1V1981.9H466.3V1979.9H468.5V1977.9H470.7V1983.4H472.9V1980.5H475.1V1984.3H477.3V1983.6H479.5V1980.9H481.7V1986.2H483.9V1982.9H486.1V1982.1H488.3V1984.1H490.5V1986.2H494.9V1983.5H497.1V1980.2H499.3V1982.6H501.5V1971.1H503.7V1986.2H505.9V1980.8H508.1V1977.0H510.3V1978.0H512.5V1982.5H514.7V1980.1H516.9V1986.2H519.1V1980.2H521.3V1977.4H523.5V1980.6H525.7V1979.8H527.9V1986.2H530.1V1980.1H532.3V1977.0H534.5V1980.7H536.7V1986.2H538.9V1983.2H541.1V1981.6H543.3V1980.6H545.5V1980.5H547.7V1986.2H549.9V1982.5H552.1V1979.1H554.3V1978.2H556.5V1982.7H558.7V1977.7H560.9V1983.9H563.1V1983.1H565.3V1980.7H567.5V1976.6H569.7V1986.2H574.1V1984.3H576.3V1986.2H578.5V1981.4H580.7V1982.1H582.9V1981.4H585.1V1982.4H587.3V1983.1H589.5V1975.1H591.7V1986.2H593.9V1983.0H596.1V1986.2H598.3V1981.8H600.5V1980.8H602.7V1986.2H604.9V1981.8H607.1V1986.2H615.9V1980.9H618.1V1986.2H620.3V1982.6H622.5V1986.2H624.7V1981.2H626.9V1986.2H633.5V1982.8H635.7V1986.2H637.9V1984.6H640.1V1983.9H642.3V1986.2H644.5V1983.0H646.7V1983.8H648.9V1983.6H651.1V1986.2H655.5V1983.1H657.7V1982.6H659.9V1984.3H662.1V1983.3H664.3V1986.2H666.5V1984.2H668.7V1986.2H670.9V1979.2H673.1V1986.2H675.3V1978.3H677.5V1986.2H684.1V1979.5H686.3V1986.2H688.5V1979.6H690.7V1980.5H692.9V1981.8H695.1V1981.9H697.3V1983.1H699.5V1978.8H701.7V1983.2H703.9V1983.8H706.1V1981.5H708.3V1986.2H710.5V1983.9H712.7V1980.7H714.9V1986.2H717.1V1975.8H719.3V1983.0H721.5V1983.8H723.7V1982.0H725.9V1986.2H728.1V1979.8H730.3V1977.1H732.5V1981.5H734.7V1978.1H736.9V1986.2H739.1V1978.2H741.3V1986.2H743.5V1977.8H745.7V1986.2H747.9V1983.8H750.1V1980.6H752.3V1981.9H754.5V1981.1H756.7V1986.2H763.3V1984.4H765.5V1986.2H767.7V1984.3H769.9V1986.2H772.1V1984.1H774.3V1984.6H776.5V1982.7H778.7V1984.7H780.9V1982.5H783.1V1982.8H785.3V1983.4H787.5V1986.2H789.7V1984.2H791.9V1983.4H794.1V1986.2H796.3V1978.8H798.5V1986.2H802.9V1982.6H805.1V1986.2H807.3V1979.5H809.5V1986.2H811.7V1978.3H813.9V1979.4H816.1V1986.2H822.7V1983.0H824.9V1982.0H827.1V1986.2H829.3V1983.3H831.5V1984.3H833.7V1984.1H835.9V1986.2H838.1V1982.6H840.3V1986.2H849.1V1982.3H851.3V1986.2H853.5V1981.4H855.7V1986.2H862.3V1983.1H864.5V1983.3H866.7V1986.2H868.9V1982.2H871.1V1981.2H873.3V1980.6H875.5V1979.9H877.7V1982.7H879.9V1978.8H882.1V1982.8H884.3V1979.2H886.5V1980.8H888.7V1986.2H890.9V1980.6H893.1V1975.9H895.3V1981.2H897.5V1986.2H899.7V1980.4H901.9V1986.2H908.5V1984.0H910.7V1980.6H912.9V1982.4H915.1V1984.7H917.3V1982.5H919.5V1986.2H923.9V1984.9H926.1V1982.6H928.3V1984.3H930.5V1985.0H934.9V1984.6H937.1V1986.2H939.3V1984.2H941.5V1982.4H943.7V1982.0H945.9V1982.9H948.1V1986.2H950.3V1984.3H952.5V1984.1H954.7V1986.2H956.9V1979.5H959.1V1986.2H965.7V1980.3H967.9V1986.2H972.3V1977.5H974.5V1986.2H981.1V1984.6H983.3V1986.2H985.5V1982.5H987.7V1986.2H989.9V1984.9H992.1V1983.8H994.3V1986.2H998.7V1983.1H1000.9V1986.2H1003.1V1984.0H1005.3V1984.2H1007.5V1986.2H1014.1V1981.1H1016.3V1986.2H1020.7V1978.6H1022.9V1980.2H1025.1V1986.2H1029.5V1977.6H1031.7V1981.9H1033.9V1986.2H1040.5V1980.0H1042.7V1986.2H1044.9V1984.3H1047.1V1986.2H1049.3V1983.7H1053.7V1986.2H1058.1V1984.1H1060.3V1982.8H1062.5V1984.9H1064.7V1983.8H1066.9V1981.7H1069.1V1986.2H1071.3V1984.5H1073.5V1982.8H1075.7V1986.2H1082.3V1982.1H1084.5V1986.2H1088.9V1983.8H1091.1V1984.7H1093.3V1983.2H1095.5V1982.7H1097.7V1984.0H1099.9V1981.6H1102.1V1986.2H1104.3V1983.2H1106.5V1986.2H1113.1V1981.0H1115.3V1983.5H1117.5V1981.2H1119.7V1983.3H1121.9V1982.1H1124.1V1982.0H1126.3V1986.2H1132.9V1982.9H1135.1V1986.2H1139.5V1983.4H1141.7V1984.7H1143.9V1983.5H1146.1V1983.0H1148.3V1984.9H1150.5V1986.2H1154.9V1984.3H1157.1V1986.2H1159.3V1983.2H1161.5V1986.2H1165.9V1983.0H1168.1V1982.9H1170.3V1986.2H1174.7V1983.5H1176.9V1979.4H1179.1V1986.2H1181.3V1980.6H1183.5V1980.7H1185.7V1986.2H1187.9V1983.0H1190.1V1980.0H1192.3V1978.6H1194.5V1981.0H1196.7V1981.9H1198.9V1979.4H1201.1V1981.5H1203.3V1983.0H1205.5V1986.2H1209.9V1982.8H1212.1V1983.7H1214.3V1981.9H1216.5V1986.2H1218.7V1984.0H1220.9V1980.7H1223.1V1984.6H1225.3V1986.2H1229.7V1979.1H1231.9V1984.4H1234.1V1982.9H1238.5V1986.2H1240.7V1982.6H1242.9V1986.2H1245.1V1982.9H1249.5V1986.2H1251.7V1982.4H1253.9V1983.5H1256.1V1983.0H1258.3V1981.4H1260.5V1983.0H1262.7V1981.7H1264.9V1983.7H1267.1V1982.5H1269.3V1983.8H1271.5V1986.2H1273.7V1980.5H1275.9V1986.2H1278.1V1982.6H1280.3V1986.2H1284.7V1982.9H1286.9V1986.2H1293.5V1983.2H1295.7V1986.2H1297.9V1983.5H1300.1V1986.2H1304.5V1980.8H1306.7V1950.8H1308.9V1934.1H1311.1V1924.9H1313.3V1981.9H1315.5V1969.7H1317.7V1983.9H1319.9V1983.1H1322.1V1986.2H1324.3V1983.1H1326.5V1986.2H1330.9V1984.5H1333.1V1986.2H1346.3V1983.6H1348.5V1984.3H1350.7V1986.2H1366.1V1984.8H1368.3V1986.2H1372.7V1983.5H1374.9V1984.8H1377.1V1986.2H1383.7V1984.7H1385.9V1985.2H1388.1V1986.2H1394.7V1984.2H1396.9V1983.2H1399.1V1986.2H1421.1V1982.3H1423.3V1986.2H1425.5V1984.6H1427.7V1982.4H1429.9V1986.2H1432.1V1982.4H1434.3V1986.2H1436.5V1983.9H1438.7V1986.2H1449.7V1984.6H1451.9V1984.8H1454.1V1983.8H1456.3V1986.2H1482.7V1982.8H1484.9V1986.2H1489.3V1979.0H1491.5V1981.5H1493.7V1983.7H1498.1V1986.2H1500.3V1981.8H1502.5V1986.2H1504.7V1982.2H1506.9V1981.6H1509.1V1986.2H1513.5V1983.8H1515.7V1986.2H1517.9V1984.1H1520.1V1984.6H1522.3V1986.2H1526.7V1982.0H1528.9V1984.8H1531.1V1986.2H1548.7V1983.8H1550.9V1984.8H1553.1V1985.1H1555.3V1986.2H1561.9V1984.7H1564.1V1986.2H1570.7V1982.4H1572.9V1985.0H1575.1V1982.0H1577.3V1986.2H1579.5V1982.4H1581.7V1982.9H1583.9V1986.2H1590.5V1984.2H1594.9V1986.2H1599.3V1979.4H1601.5V1983.9H1603.7V1968.8H1605.9V1956.8H1608.1V1913.2H1610.3V1917.7H1612.5V1936.9H1614.7V1969.0H1616.9V1986.2H1619.1V1982.9H1621.3V1983.4H1623.5V1983.1H1625.7V1986.2H1627.9V1983.4H1630.1V1986.2H1632.3V1982.5H1634.5V1979.6H1636.7V1978.2H1641.1V1986.2H1645.5V1979.0H1647.7V1986.2H1649.9V1978.2H1652.1V1978.8H1654.3V1969.4H1656.5V1944.8H1658.7V1920.1H1660.9V1930.0H1663.1V1969.9H1665.3V1983.5H1669.7V1983.9H1671.9V1984.2H1674.1V1980.9H1676.3V1960.3H1678.5V1950.4H1680.7V1966.4H1682.9V1975.9H1685.1V1986.2H1687.3V1980.6H1689.5V1982.9H1691.7V1981.7H1693.9V1984.3H1696.1V1980.7H1698.3V1982.4H1700.5V1980.4H1702.7V1981.5H1704.9V1981.0H1707.1V1986.2H1713.7V1982.1H1715.9V1984.1H1718.1V1982.2H1720.3V1986.2H1724.7V1984.2H1726.9V1980.1H1729.1V1983.0H1731.3V1982.4H1733.5V1986.2H1735.7V1983.5H1737.9V1986.2H1740.1V1969.2H1742.3V1960.5H1744.5V1918.8H1746.7V1921.2H1748.9V1943.9H1751.1V1979.1H1753.3V1983.4H1755.5V1984.0H1757.7V1982.7H1759.9V1982.2H1762.1V1981.7H1764.3V1983.7H1766.5V1986.2H1768.7V1984.6H1770.9V1979.9H1773.1V1983.7H1775.3V1982.0H1777.5V1984.8H1779.7V1982.5H1781.9V1986.2H1784.1V1983.5H1786.3V1986.2H1788.5V1982.6H1790.7V1977.5H1792.9V1975.9H1795.1V1950.6H1797.3V1934.5H1799.5V1950.7H1801.7V1976.6H1803.9V1975.6H1806.1V1975.1H1808.3V1981.2H1810.5V1986.2H1812.7V1976.0H1814.9V1978.3H1817.1V1975.8H1819.3V1986.2H1821.5V1978.4H1823.7V1986.2H1825.9V1976.1H1828.1V1982.5H1830.3V1981.4H1832.5V1983.5H1834.7V1986.2H1836.9V1984.7H1839.1V1984.9H1841.3V1974.0H1843.5V1954.9H1845.7V1936.6H1847.9V1937.1H1850.1V1954.4H1852.3V1980.6H1854.5V1986.2H1856.7V1982.2H1858.9V1983.4H1861.1V1981.4H1863.3V1980.6H1865.5V1981.7H1867.7V1982.7H1869.9V1978.1H1872.1V1957.8H1874.3V1908.6H1876.5V1922.0H1878.7V1957.7H1880.9V1970.3H1883.1V1986.2H1885.3V1982.4H1887.5V1982.7H1889.7V1983.0H1894.1V1975.3H1896.3V1958.4H1898.5V1933.3H1900.7V1930.4H1902.9V1950.7H1905.1V1977.4H1909.5V1976.7H1911.7V1965.8H1913.9V1900.8H1916.1V1907.6H1918.3V1901.2H1920.5V1900.7H1922.7V1903.8H1924.9V1904.2H1927.1V1901.3H1929.3V1916.8H1931.5V1901.7H1933.7V1923.4H1935.9V1902.1H1938.1V1907.1H1940.3V1942.3H1942.5V1947.1H1944.7V1930.9H1946.9V1949.4H1949.1V1901.7H1951.3V1954.2H1953.5V1957.9H1955.7V1965.0H1957.9V1982.5H1960.1V1981.5H1962.3V1980.5H1964.5V1984.6H1966.7V1985.6H1971.1V1985.1H1973.3V1982.8H1975.5V1980.9H1977.7V1980.1H1979.9V1982.8H1982.1V1981.4H1984.3V1983.5H1986.5V1984.7H1988.7V1984.8H1990.9V1980.8H1993.1V1974.7H1995.3V1978.6H1997.5V1969.4H1999.7V1976.9H2001.9V1980.0H2004.1V1978.0H2006.3V1969.5H2008.5V1970.8H2010.7V1980.2H2012.9V1978.5H2015.1V1980.7H2017.3V1980.8H2019.5V1980.4H2021.7V1978.3H2023.9V1977.3H2026.1V1978.8H2028.3V1978.2H2030.5V1971.4H2032.7V1975.7H2034.9V1981.7H2037.1V1979.5H2039.3V1982.0H2041.5V1985.0H2043.7V1984.8H2045.9V1986.2H2074.5V1982.4H2076.7V1971.1H2078.9V1977.2H2081.1V1985.2H2083.3V1979.0H2085.5V1978.8H2087.7V1979.9H2089.9V1977.2H2092.1V1977.8H2094.3V1977.0H2096.5V1976.7H2098.7V1986.2H2100.9V1986.2Z" fill="#FF9898"/>
<path d="M327.7 1986.2H354.1V1984.5H356.3V1984.4H360.7V1984.1H362.9V1985.0H365.1V1982.4H367.3V1984.2H369.5V1984.6H371.7V1984.4H373.9V1984.2H376.1V1983.7H378.3V1981.0H380.5V1977.5H382.7V1978.7H384.9V1977.7H387.1V1981.2H389.3V1979.7H391.5V1977.3H393.7V1980.4H395.9V1982.4H398.1V1986.2H400.3V1978.6H402.5V1981.9H404.7V1982.8H406.9V1986.2H409.1V1980.6H411.3V1982.5H413.5V1981.6H415.7V1982.6H417.9V1981.0H420.1V1982.7H422.3V1984.1H424.5V1982.5H426.7V1985.0H428.9V1982.1H431.1V1979.3H433.3V1980.9H435.5V1980.8H437.7V1982.8H439.9V1981.4H442.1V1983.1H444.3V1984.2H446.5V1981.2H448.7V1982.3H450.9V1983.2H453.1V1982.2H455.3V1981.3H457.5V1986.2H459.7V1979.4H461.9V1983.3H464.1V1983.2H466.3V1981.3H468.5V1979.6H470.7V1984.4H472.9V1982.5H475.1V1984.8H477.3V1984.6H479.5V1982.1H481.7V1986.2H483.9V1984.0H486.1V1983.3H488.3V1984.5H490.5V1986.2H494.9V1984.4H497.1V1982.4H499.3V1983.2H501.5V1977.1H503.7V1986.2H505.9V1981.7H508.1V1979.3H510.3V1981.2H512.5V1983.2H514.7V1982.1H516.9V1986.2H519.1V1982.1H521.3V1978.9H523.5V1982.7H525.7V1981.8H527.9V1986.2H530.1V1981.1H532.3V1979.5H534.5V1982.1H536.7V1986.2H538.9V1984.3H541.1V1982.3H543.3V1982.0H545.5V1981.5H547.7V1986.2H549.9V1983.9H552.1V1981.7H554.3V1980.9H556.5V1983.4H558.7V1981.0H560.9V1984.3H563.1V1983.6H565.3V1982.4H567.5V1979.5H569.7V1986.2H574.1V1984.8H576.3V1986.2H578.5V1982.6H580.7V1983.5H582.9V1982.8H585.1V1983.8H587.3V1983.5H589.5V1978.9H591.7V1986.2H593.9V1983.6H596.1V1986.2H598.3V1983.0H600.5V1982.3H602.7V1986.2H604.9V1983.1H607.1V1986.2H615.9V1981.8H618.1V1986.2H620.3V1983.6H622.5V1986.2H624.7V1983.0H626.9V1986.2H633.5V1983.8H635.7V1986.2H637.9V1985.2H640.1V1984.6H642.3V1986.2H644.5V1984.0H646.7V1984.2H648.9V1984.4H651.1V1986.2H655.5V1983.8H657.7V1984.0H659.9V1984.9H662.1V1983.9H664.3V1986.2H666.5V1984.7H668.7V1986.2H670.9V1980.3H673.1V1986.2H675.3V1980.6H677.5V1986.2H684.1V1980.7H686.3V1986.2H688.5V1981.9H690.7V1982.0H692.9V1983.0H695.1V1983.2H697.3V1983.7H699.5V1980.0H701.7V1983.9H703.9V1984.2H706.1V1983.0H708.3V1986.2H710.5V1984.6H712.7V1981.6H714.9V1986.2H717.1V1979.2H719.3V1983.5H721.5V1984.7H723.7V1983.4H725.9V1986.2H728.1V1981.3H730.3V1978.8H732.5V1983.3H734.7V1980.9H736.9V1986.2H739.1V1981.4H741.3V1986.2H743.5V1980.8H745.7V1986.2H747.9V1984.4H750.1V1982.5H752.3V1983.5H754.5V1982.3H756.7V1986.2H763.3V1985.1H765.5V1986.2H767.7V1984.6H769.9V1986.2H772.1V1984.5H774.3V1984.9H776.5V1983.3H778.7V1984.7H780.9V1983.1H783.1V1983.4H785.3V1984.3H787.5V1986.2H789.7V1985.0H791.9V1984.4H794.1V1986.2H796.3V1981.8H798.5V1986.2H802.9V1983.7H805.1V1986.2H807.3V1981.4H809.5V1986.2H811.7V1980.1H813.9V1981.4H816.1V1986.2H822.7V1984.2H824.9V1983.3H827.1V1986.2H829.3V1984.0H831.5V1984.8H833.7V1985.0H835.9V1986.2H838.1V1983.7H840.3V1986.2H849.1V1983.2H851.3V1986.2H853.5V1983.1H855.7V1986.2H862.3V1984.1H864.5V1983.9H866.7V1986.2H868.9V1982.9H871.1V1982.8H873.3V1982.7H875.5V1982.0H877.7V1983.4H879.9V1980.4H882.1V1984.0H884.3V1981.4H886.5V1982.4H888.7V1986.2H890.9V1982.1H893.1V1979.1H895.3V1983.1H897.5V1986.2H899.7V1982.1H901.9V1986.2H908.5V1984.5H910.7V1981.6H912.9V1983.9H915.1V1985.0H917.3V1983.6H919.5V1986.2H923.9V1984.9H926.1V1983.9H928.3V1984.7H930.5V1985.0H934.9V1985.2H937.1V1986.2H939.3V1984.9H941.5V1983.5H943.7V1983.3H945.9V1983.6H948.1V1986.2H950.3V1985.1H952.5V1984.6H954.7V1986.2H956.9V1982.0H959.1V1986.2H965.7V1982.6H967.9V1986.2H972.3V1980.5H974.5V1986.2H981.1V1985.2H983.3V1986.2H985.5V1983.8H987.7V1986.2H989.9V1984.9H992.1V1984.5H994.3V1986.2H998.7V1983.6H1000.9V1986.2H1003.1V1984.3H1005.3V1984.9H1007.5V1986.2H1014.1V1982.9H1016.3V1986.2H1020.7V1980.9H1022.9V1982.3H1025.1V1986.2H1029.5V1979.4H1031.7V1983.1H1033.9V1986.2H1040.5V1981.5H1042.7V1986.2H1044.9V1984.9H1047.1V1986.2H1049.3V1984.6H1053.7V1986.2H1058.1V1984.9H1060.3V1983.9H1062.5V1984.9H1064.7V1984.5H1066.9V1983.5H1069.1V1986.2H1071.3V1985.0H1073.5V1984.0H1075.7V1986.2H1082.3V1983.0H1084.5V1986.2H1088.9V1984.2H1091.1V1984.7H1093.3V1984.1H1097.7V1984.6H1099.9V1982.7H1102.1V1986.2H1104.3V1984.1H1106.5V1986.2H1113.1V1982.4H1115.3V1984.0H1117.5V1982.9H1119.7V1984.2H1121.9V1983.0H1124.1V1983.6H1126.3V1986.2H1132.9V1983.7H1135.1V1986.2H1139.5V1984.4H1141.7V1984.7H1143.9V1984.4H1146.1V1983.6H1148.3V1984.9H1150.5V1986.2H1154.9V1984.7H1157.1V1986.2H1159.3V1984.1H1161.5V1986.2H1165.9V1983.7H1168.1V1984.1H1170.3V1986.2H1174.7V1984.2H1176.9V1981.2H1179.1V1986.2H1181.3V1981.5H1183.5V1981.7H1185.7V1986.2H1187.9V1983.8H1190.1V1982.1H1192.3V1981.3H1194.5V1981.9H1196.7V1983.5H1198.9V1981.7H1201.1V1982.7H1203.3V1984.3H1205.5V1986.2H1209.9V1983.3H1212.1V1984.3H1214.3V1982.7H1216.5V1986.2H1218.7V1984.6H1220.9V1982.0H1223.1V1985.2H1225.3V1986.2H1229.7V1980.5H1231.9V1984.7H1234.1V1983.8H1236.3V1983.7H1238.5V1986.2H1240.7V1983.8H1242.9V1986.2H1245.1V1984.0H1247.3V1983.9H1249.5V1986.2H1251.7V1983.2H1253.9V1984.0H1256.1V1984.1H1258.3V1982.2H1260.5V1983.8H1262.7V1983.4H1264.9V1984.2H1267.1V1983.7H1269.3V1984.7H1271.5V1986.2H1273.7V1982.2H1275.9V1986.2H1278.1V1984.0H1280.3V1986.2H1284.7V1983.4H1286.9V1986.2H1293.5V1984.3H1295.7V1986.2H1297.9V1984.4H1300.1V1986.2H1304.5V1982.8H1306.7V1960.7H1308.9V1948.3H1311.1V1945.9H1313.3V1982.9H1315.5V1972.5H1317.7V1984.7H1319.9V1984.1H1322.1V1986.2H1324.3V1984.2H1326.5V1986.2H1330.9V1985.0H1333.1V1986.2H1346.3V1984.4H1348.5V1984.9H1350.7V1986.2H1366.1V1984.8H1368.3V1986.2H1372.7V1984.2H1374.9V1984.8H1377.1V1986.2H1383.7V1984.7H1385.9V1985.2H1388.1V1986.2H1394.7V1984.5H1396.9V1984.0H1399.1V1986.2H1421.1V1983.7H1423.3V1986.2H1425.5V1985.1H1427.7V1983.4H1429.9V1986.2H1432.1V1983.5H1434.3V1986.2H1436.5V1984.7H1438.7V1986.2H1449.7V1985.1H1451.9V1984.8H1454.1V1984.5H1456.3V1986.2H1482.7V1983.7H1484.9V1986.2H1489.3V1980.1H1491.5V1982.8H1493.7V1984.5H1495.9V1984.7H1498.1V1986.2H1500.3V1983.4H1502.5V1986.2H1504.7V1983.6H1506.9V1982.8H1509.1V1986.2H1513.5V1984.4H1515.7V1986.2H1517.9V1984.7H1520.1V1984.9H1522.3V1986.2H1526.7V1982.6H1528.9V1984.8H1531.1V1986.2H1548.7V1984.5H1550.9V1984.8H1553.1V1985.1H1555.3V1986.2H1561.9V1984.9H1564.1V1986.2H1570.7V1983.4H1572.9V1985.0H1575.1V1983.4H1577.3V1986.2H1579.5V1983.8H1583.9V1986.2H1590.5V1984.7H1592.7V1984.8H1594.9V1986.2H1599.3V1981.0H1601.5V1984.4H1603.7V1975.6H1605.9V1965.8H1608.1V1930.8H1610.3V1931.3H1612.5V1955.1H1614.7V1973.1H1616.9V1986.2H1619.1V1983.9H1621.3V1983.8H1623.5V1983.9H1625.7V1986.2H1627.9V1983.9H1630.1V1986.2H1632.3V1983.3H1634.5V1981.4H1636.7V1980.7H1638.9V1980.9H1641.1V1986.2H1645.5V1981.4H1647.7V1986.2H1649.9V1981.2H1652.1V1979.9H1654.3V1972.7H1656.5V1954.5H1658.7V1944.3H1660.9V1939.2H1663.1V1974.3H1665.3V1984.1H1667.5V1984.4H1669.7V1984.3H1671.9V1985.0H1674.1V1982.5H1676.3V1967.9H1678.5V1956.3H1680.7V1971.5H1682.9V1978.6H1685.1V1986.2H1687.3V1982.2H1689.5V1983.6H1691.7V1983.5H1693.9V1984.6H1696.1V1981.7H1698.3V1983.5H1700.5V1982.1H1702.7V1982.8H1704.9V1982.4H1707.1V1986.2H1713.7V1982.9H1715.9V1984.5H1718.1V1983.5H1720.3V1986.2H1724.7V1984.9H1726.9V1981.1H1729.1V1984.1H1731.3V1983.2H1733.5V1986.2H1735.7V1984.2H1737.9V1986.2H1740.1V1974.9H1742.3V1969.2H1744.5V1943.4H1746.7V1937.7H1748.9V1955.0H1751.1V1981.8H1753.3V1984.1H1755.5V1984.8H1757.7V1983.3H1759.9V1982.9H1762.1V1983.2H1764.3V1984.3H1766.5V1986.2H1768.7V1985.0H1770.9V1982.2H1773.1V1984.3H1775.3V1982.7H1777.5V1984.8H1779.7V1983.4H1781.9V1986.2H1784.1V1983.9H1786.3V1986.2H1788.5V1983.5H1790.7V1979.3H1792.9V1979.7H1795.1V1964.2H1797.3V1953.3H1799.5V1958.2H1801.7V1978.3H1803.9V1979.4H1806.1V1978.3H1808.3V1982.1H1810.5V1986.2H1812.7V1978.3H1814.9V1980.7H1817.1V1977.5H1819.3V1986.2H1821.5V1980.0H1823.7V1986.2H1825.9V1980.0H1828.1V1983.5H1830.3V1982.7H1832.5V1984.2H1834.7V1986.2H1836.9V1984.7H1839.1V1984.9H1841.3V1977.2H1843.5V1961.2H1845.7V1946.8H1847.9V1955.5H1850.1V1959.9H1852.3V1982.2H1854.5V1986.2H1856.7V1983.0H1858.9V1984.4H1861.1V1982.9H1863.3V1982.2H1865.5V1982.4H1867.7V1983.3H1869.9V1979.9H1872.1V1967.0H1874.3V1931.6H1876.5V1944.2H1878.7V1963.4H1880.9V1974.1H1883.1V1986.2H1885.3V1983.2H1887.5V1983.8H1889.7V1984.3H1891.9V1984.0H1894.1V1978.9H1896.3V1966.8H1898.5V1950.3H1900.7V1947.9H1902.9V1957.2H1905.1V1980.8H1907.3V1980.1H1909.5V1979.2H1911.7V1972.4H1913.9V1917.9H1916.1V1916.2H1918.3V1905.6H1920.5V1909.0H1922.7V1911.0H1924.9V1912.8H1927.1V1919.2H1929.3V1942.7H1931.5V1912.7H1933.7V1940.7H1935.9V1905.0H1938.1V1920.6H1940.3V1952.6H1942.5V1957.4H1944.7V1941.0H1946.9V1956.0H1949.1V1921.4H1951.3V1962.7H1953.5V1967.2H1955.7V1969.1H1957.9V1983.6H1960.1V1983.0H1962.3V1982.3H1964.5V1984.9H1966.7V1985.6H1971.1V1985.1H1973.3V1984.0H1975.5V1981.9H1977.7V1981.5H1979.9V1983.5H1982.1V1982.5H1984.3V1984.0H1986.5V1984.7H1988.7V1984.8H1990.9V1982.9H1993.1V1977.9H1995.3V1980.3H1997.5V1974.9H1999.7V1978.5H2001.9V1982.3H2004.1V1980.4H2006.3V1975.5H2008.5V1974.5H2010.7V1981.4H2012.9V1981.3H2015.1V1981.7H2017.3V1982.3H2019.5V1981.5H2021.7V1980.4H2023.9V1979.2H2026.1V1981.2H2028.3V1980.6H2030.5V1975.9H2032.7V1977.5H2034.9V1983.2H2037.1V1981.0H2039.3V1982.9H2041.5V1985.0H2043.7V1984.8H2045.9V1986.2H2074.5V1983.1H2076.7V1974.0H2078.9V1979.5H2081.1V1985.2H2083.3V1981.9H2085.5V1980.0H2087.7V1981.0H2089.9V1979.3H2092.1V1980.4H2094.3V1980.6H2096.5V1979.1H2098.7V1986.2H2100.9V1986.2Z" fill="#FF6A6E"/>
<rect x="348.7" y="1970.7" width="2.6" height="15.5" fill="#FFC4C4"/><rect x="348.7" y="1975.0" width="2.6" height="11.2" fill="#FF9898"/>
<rect x="346.4" y="1961.2" width="2.3" height="25.0" fill="#FFC4C4"/><rect x="346.4" y="1966.2" width="2.3" height="20.0" fill="#FF6A6E"/>
<path d="M1916.1 1901.7H1918.3M1918.3 1901.7H1920.5M1920.5 1901.7H1922.7M1922.7 1901.7H1924.9M1924.9 1901.7H1927.1M1927.1 1901.7H1929.3M1931.5 1901.7H1933.7M1938.1 1901.7H1940.3" stroke="#B84FB0" stroke-width="3"/>
<text x="66.8" y="1959.0" font-family="'Liberation Sans', Arial, sans-serif" font-weight="normal" font-size="46.78" textLength="160.7" lengthAdjust="spacingAndGlyphs" fill="#FD6C6E">Skin_p1</text>
<text x="2116.2" y="1936.0" font-family="'Liberation Sans', Arial, sans-serif" font-weight="normal" font-size="32.22" textLength="53.1" lengthAdjust="spacingAndGlyphs" fill="#FD6C6E">200</text>
<text x="2135.0" y="1981.2" font-family="'Liberation Sans', Arial, sans-serif" font-weight="normal" font-size="32.22" textLength="17.6" lengthAdjust="spacingAndGlyphs" fill="#FD6C6E">0</text>
<path d="M327.7 2076.0H354.1V2072.8H356.3V2072.3H358.5V2074.7H360.7V2073.2H362.9V2070.8H365.1V2074.5H367.3V2073.1H369.5V2074.9H371.7V2075.0H373.9V2073.5H376.1V2075.0H378.3V2076.0H380.5V2073.7H382.7V2074.5H384.9V2073.0H387.1V2074.0H389.3V2076.0H393.7V2073.7H395.9V2076.0H398.1V2070.6H400.3V2076.0H402.5V2073.7H404.7V2070.2H406.9V2072.1H409.1V2068.9H411.3V2074.3H413.5V2076.0H415.7V2071.7H417.9V2076.0H420.1V2073.8H422.3V2076.0H424.5V2074.5H426.7V2076.0H428.9V2073.9H431.1V2074.6H433.3V2073.4H435.5V2073.2H437.7V2074.1H439.9V2073.9H442.1V2073.7H444.3V2074.2H446.5V2074.4H448.7V2071.8H450.9V2076.0H453.1V2072.3H455.3V2070.2H457.5V2072.0H459.7V2071.4H461.9V2069.2H464.1V2070.8H466.3V2069.7H468.5V2073.0H470.7V2072.2H472.9V2072.0H475.1V2073.2H477.3V2071.9H479.5V2071.6H481.7V2074.1H483.9V2076.0H486.1V2071.7H488.3V2071.6H490.5V2076.0H492.7V2073.6H494.9V2070.9H497.1V2073.8H499.3V2076.0H503.7V2073.5H505.9V2076.0H508.1V2069.0H510.3V2071.0H512.5V2069.2H514.7V2069.7H516.9V2070.7H519.1V2076.0H521.3V2071.0H523.5V2071.3H525.7V2073.6H527.9V2074.7H530.1V2076.0H534.5V2074.3H536.7V2074.1H538.9V2074.9H541.1V2076.0H543.3V2072.7H545.5V2076.0H558.7V2072.8H560.9V2073.8H565.3V2073.0H567.5V2076.0H574.1V2072.5H576.3V2074.1H578.5V2076.0H582.9V2072.3H585.1V2076.0H587.3V2073.4H589.5V2076.0H591.7V2075.1H593.9V2076.0H596.1V2074.5H598.3V2074.2H600.5V2076.0H602.7V2075.4H604.9V2076.0H609.3V2074.0H611.5V2074.2H613.7V2074.4H615.9V2073.8H620.3V2076.0H622.5V2072.9H624.7V2076.0H631.3V2074.1H633.5V2076.0H635.7V2071.7H637.9V2076.0H642.3V2072.9H644.5V2073.5H646.7V2076.0H648.9V2073.5H651.1V2076.0H659.9V2072.6H662.1V2076.0H664.3V2073.0H666.5V2076.0H668.7V2073.4H670.9V2076.0H675.3V2073.1H677.5V2076.0H679.7V2071.8H681.9V2076.0H686.3V2073.5H688.5V2076.0H697.3V2074.7H699.5V2076.0H701.7V2073.5H703.9V2076.0H708.3V2074.0H710.5V2074.8H712.7V2074.1H714.9V2076.0H721.5V2074.6H723.7V2073.1H725.9V2073.4H728.1V2074.1H730.3V2074.0H732.5V2074.7H734.7V2076.0H736.9V2073.8H739.1V2073.6H741.3V2076.0H743.5V2073.2H745.7V2076.0H747.9V2073.4H750.1V2076.0H752.3V2072.7H754.5V2076.0H758.9V2073.1H761.1V2076.0H763.3V2074.0H765.5V2076.0H778.7V2074.1H780.9V2076.0H783.1V2073.6H785.3V2076.0H789.7V2073.3H791.9V2076.0H805.1V2072.8H807.3V2074.4H809.5V2076.0H811.7V2072.8H813.9V2076.0H822.7V2073.0H824.9V2074.1H827.1V2074.5H829.3V2074.7H831.5V2073.8H833.7V2076.0H842.5V2073.4H844.7V2073.0H846.9V2073.9H849.1V2072.9H851.3V2074.3H853.5V2073.6H855.7V2076.0H864.5V2072.2H866.7V2076.0H871.1V2069.4H873.3V2073.0H875.5V2076.0H877.7V2072.6H879.9V2076.0H884.3V2074.4H886.5V2073.0H888.7V2075.0H890.9V2076.0H895.3V2073.7H897.5V2076.0H899.7V2073.9H901.9V2076.0H904.1V2075.0H906.3V2075.2H908.5V2075.0H910.7V2074.4H912.9V2076.0H915.1V2074.4H917.3V2076.0H921.7V2073.3H923.9V2076.0H928.3V2073.8H930.5V2076.0H934.9V2073.3H937.1V2076.0H943.7V2073.4H945.9V2073.0H948.1V2074.8H950.3V2076.0H961.3V2073.9H963.5V2076.0H972.3V2074.1H974.5V2076.0H976.7V2074.6H978.9V2076.0H981.1V2073.8H983.3V2076.0H987.7V2072.8H989.9V2076.0H992.1V2073.2H994.3V2074.5H996.5V2076.0H1011.9V2071.0H1014.1V2076.0H1022.9V2074.2H1025.1V2073.3H1027.3V2076.0H1031.7V2072.9H1033.9V2076.0H1036.1V2072.7H1038.3V2076.0H1044.9V2074.5H1047.1V2076.0H1088.9V2074.8H1091.1V2076.0H1093.3V2074.2H1095.5V2073.4H1097.7V2076.0H1130.7V2075.3H1132.9V2076.0H1137.3V2074.5H1139.5V2075.0H1141.7V2076.0H1154.9V2075.3H1157.1V2076.0H1168.1V2074.3H1170.3V2074.6H1172.5V2076.0H1174.7V2073.7H1176.9V2074.7H1179.1V2076.0H1198.9V2074.0H1201.1V2076.0H1207.7V2074.3H1209.9V2076.0H1216.5V2073.5H1218.7V2076.0H1223.1V2074.3H1225.3V2076.0H1229.7V2072.8H1231.9V2076.0H1234.1V2073.6H1236.3V2074.5H1238.5V2076.0H1240.7V2075.3H1242.9V2076.0H1253.9V2075.0H1256.1V2076.0H1269.3V2074.8H1271.5V2076.0H1289.1V2073.9H1291.3V2076.0H1304.5V2074.0H1306.7V2056.7H1308.9V2052.1H1311.1V2053.4H1313.3V2072.8H1315.5V2074.0H1317.7V2076.0H1330.9V2073.4H1333.1V2076.0H1339.7V2074.1H1341.9V2076.0H1346.3V2074.2H1348.5V2076.0H1352.9V2074.1H1355.1V2076.0H1377.1V2074.4H1379.3V2076.0H1383.7V2074.8H1385.9V2076.0H1388.1V2070.8H1390.3V2073.4H1392.5V2076.0H1394.7V2073.2H1396.9V2076.0H1403.5V2073.5H1405.7V2076.0H1410.1V2074.8H1412.3V2076.0H1416.7V2074.8H1418.9V2076.0H1423.3V2074.0H1425.5V2076.0H1436.5V2072.6H1438.7V2076.0H1458.5V2072.6H1460.7V2076.0H1462.9V2074.1H1465.1V2076.0H1469.5V2074.5H1471.7V2076.0H1478.3V2075.0H1480.5V2076.0H1484.9V2074.5H1487.1V2076.0H1493.7V2072.9H1495.9V2076.0H1517.9V2074.9H1520.1V2076.0H1575.1V2072.2H1577.3V2076.0H1586.1V2073.7H1588.3V2076.0H1599.3V2074.1H1601.5V2073.8H1603.7V2070.9H1605.9V2052.1H1608.1V2040.7H1610.3V2039.8H1612.5V2057.7H1614.7V2069.4H1616.9V2073.4H1619.1V2073.2H1621.3V2069.8H1623.5V2073.9H1625.7V2076.0H1627.9V2073.6H1630.1V2067.9H1632.3V2066.2H1634.5V2071.1H1636.7V2073.7H1638.9V2076.0H1643.3V2070.6H1645.5V2072.5H1647.7V2072.6H1649.9V2076.0H1652.1V2074.0H1654.3V2069.5H1656.5V2052.2H1658.7V2048.6H1660.9V2053.4H1663.1V2071.4H1665.3V2073.3H1667.5V2073.9H1669.7V2073.5H1671.9V2074.3H1674.1V2073.3H1676.3V2069.1H1678.5V2062.2H1680.7V2068.0H1682.9V2074.7H1685.1V2073.4H1689.5V2073.9H1691.7V2074.1H1693.9V2076.0H1696.1V2072.2H1698.3V2076.0H1700.5V2073.3H1702.7V2073.7H1704.9V2070.8H1707.1V2071.4H1709.3V2071.9H1711.5V2071.5H1713.7V2072.8H1715.9V2071.9H1718.1V2076.0H1722.5V2073.9H1724.7V2076.0H1726.9V2072.4H1729.1V2068.4H1731.3V2072.7H1733.5V2072.5H1735.7V2072.7H1737.9V2076.0H1742.3V2073.1H1744.5V2068.6H1746.7V2059.4H1748.9V2058.8H1751.1V2067.6H1753.3V2075.0H1755.5V2076.0H1759.9V2073.1H1762.1V2071.2H1764.3V2073.2H1766.5V2073.8H1768.7V2072.3H1770.9V2076.0H1775.3V2073.9H1777.5V2073.3H1779.7V2076.0H1790.7V2072.9H1792.9V2071.6H1795.1V2064.4H1797.3V2058.2H1799.5V2063.9H1801.7V2071.6H1803.9V2076.0H1806.1V2073.3H1808.3V2070.2H1810.5V2076.0H1812.7V2072.0H1814.9V2068.7H1817.1V2069.1H1819.3V2069.5H1821.5V2076.0H1823.7V2070.9H1825.9V2076.0H1828.1V2072.0H1830.3V2071.9H1832.5V2072.3H1834.7V2073.8H1836.9V2074.7H1839.1V2076.0H1841.3V2071.1H1843.5V2062.9H1845.7V2050.9H1847.9V2052.8H1850.1V2057.5H1852.3V2068.8H1854.5V2073.1H1856.7V2074.1H1858.9V2076.0H1861.1V2074.3H1863.3V2074.0H1865.5V2071.7H1867.7V2076.0H1869.9V2073.8H1872.1V2068.7H1874.3V2042.5H1876.5V2040.2H1878.7V2053.6H1880.9V2066.4H1883.1V2076.0H1887.5V2071.8H1889.7V2073.3H1891.9V2074.6H1894.1V2073.5H1896.3V2068.5H1898.5V2059.3H1900.7V2058.2H1902.9V2067.3H1905.1V2069.0H1907.3V2070.8H1909.5V2068.9H1911.7V2066.8H1913.9V2022.2H1916.1V2035.5H1918.3V2052.7H1920.5V2054.5H1922.7V2023.3H1924.9V2035.8H1927.1V2048.0H1929.3V2055.4H1931.5V2046.1H1933.7V2046.5H1935.9V2030.7H1938.1V2057.0H1940.3V2055.6H1944.7V2045.0H1946.9V2044.1H1949.1V2051.4H1951.3V2050.9H1953.5V2047.2H1955.7V2053.5H1957.9V2063.4H1960.1V2060.5H1962.3V2061.9H1964.5V2063.1H1966.7V2060.0H1968.9V2065.4H1971.1V2061.4H1973.3V2065.5H1975.5V2060.9H1977.7V2050.7H1979.9V2053.0H1982.1V2049.7H1984.3V2052.6H1986.5V2045.9H1988.7V2051.6H1990.9V2054.9H1993.1V2035.4H1995.3V2033.6H1997.5V2020.3H1999.7V2031.2H2001.9V2033.1H2004.1V2026.1H2006.3V2034.9H2008.5V2038.0H2010.7V2030.8H2012.9V2048.5H2015.1V2021.6H2017.3V2023.1H2019.5V2018.5H2021.7V2007.8H2023.9V2029.2H2026.1V2029.0H2028.3V2009.7H2030.5V2026.6H2032.7V2030.5H2034.9V2035.0H2037.1V1990.0H2041.5V2018.6H2043.7V2019.2H2045.9V2057.2H2048.1V2071.9H2052.5V2074.0H2054.7V2073.4H2056.9V2074.6H2059.1V2074.2H2061.3V2074.9H2063.5V2073.8H2067.9V2074.3H2070.1V2074.8H2072.3V2075.0H2074.5V2040.5H2076.7V1998.7H2078.9V1996.4H2081.1V1990.7H2083.3V1999.5H2085.5V2003.2H2087.7V2027.2H2089.9V2012.9H2092.1V1990.0H2094.3V1999.5H2096.5V2023.1H2098.7V2076.0H2100.9V2076.0Z" fill="#FFC4C4"/>
<path d="M327.7 2076.0H354.1V2073.5H356.3V2073.0H358.5V2074.7H360.7V2073.9H362.9V2072.1H365.1V2074.8H367.3V2073.7H369.5V2074.9H371.7V2075.0H373.9V2073.7H376.1V2075.0H378.3V2076.0H380.5V2074.2H382.7V2074.5H384.9V2073.3H387.1V2074.5H389.3V2076.0H393.7V2074.3H395.9V2076.0H398.1V2071.4H400.3V2076.0H402.5V2074.2H404.7V2071.6H406.9V2072.7H409.1V2070.5H411.3V2074.7H413.5V2076.0H415.7V2072.1H417.9V2076.0H420.1V2074.0H422.3V2076.0H424.5V2074.6H426.7V2076.0H428.9V2074.4H431.1V2074.6H433.3V2073.9H435.5V2073.7H437.7V2074.5H439.9V2074.4H442.1V2074.1H444.3V2074.7H446.5V2074.6H448.7V2072.6H450.9V2076.0H453.1V2072.5H455.3V2071.4H457.5V2073.1H459.7V2072.0H461.9V2070.1H464.1V2071.2H466.3V2070.5H468.5V2073.7H470.7V2073.0H472.9V2072.9H475.1V2073.6H477.3V2072.5H479.5V2072.4H481.7V2074.3H483.9V2076.0H486.1V2072.2H488.3V2072.4H490.5V2076.0H492.7V2074.2H494.9V2072.1H497.1V2074.3H499.3V2076.0H503.7V2074.0H505.9V2076.0H508.1V2070.6H510.3V2072.3H512.5V2070.2H514.7V2070.8H516.9V2071.5H519.1V2076.0H521.3V2071.3H523.5V2071.6H525.7V2074.0H527.9V2074.7H530.1V2076.0H534.5V2074.7H536.7V2074.3H538.9V2074.9H541.1V2076.0H543.3V2073.4H545.5V2076.0H558.7V2073.5H560.9V2074.1H563.1V2074.3H565.3V2073.5H567.5V2076.0H574.1V2072.9H576.3V2074.5H578.5V2076.0H582.9V2073.3H585.1V2076.0H587.3V2073.9H589.5V2076.0H591.7V2075.1H593.9V2076.0H596.1V2074.8H598.3V2074.4H600.5V2076.0H602.7V2075.4H604.9V2076.0H609.3V2074.6H611.5V2074.7H613.7V2074.6H615.9V2074.0H618.1V2074.1H620.3V2076.0H622.5V2073.7H624.7V2076.0H631.3V2074.5H633.5V2076.0H635.7V2072.6H637.9V2076.0H642.3V2073.3H644.5V2074.0H646.7V2076.0H648.9V2073.7H651.1V2076.0H659.9V2073.1H662.1V2076.0H664.3V2073.8H666.5V2076.0H668.7V2073.9H670.9V2076.0H675.3V2073.8H677.5V2076.0H679.7V2072.2H681.9V2076.0H686.3V2074.2H688.5V2076.0H697.3V2074.7H699.5V2076.0H701.7V2073.8H703.9V2076.0H708.3V2074.4H710.5V2074.8H712.7V2074.3H714.9V2076.0H721.5V2074.6H723.7V2073.9H725.9V2074.1H728.1V2074.3H730.3V2074.5H732.5V2074.7H734.7V2076.0H736.9V2074.4H739.1V2073.8H741.3V2076.0H743.5V2073.4H745.7V2076.0H747.9V2073.7H750.1V2076.0H752.3V2073.0H754.5V2076.0H758.9V2073.4H761.1V2076.0H763.3V2074.4H765.5V2076.0H778.7V2074.3H780.9V2076.0H783.1V2074.1H785.3V2076.0H789.7V2073.6H791.9V2076.0H805.1V2073.1H807.3V2074.5H809.5V2076.0H811.7V2073.4H813.9V2076.0H822.7V2073.1H824.9V2074.4H827.1V2074.5H829.3V2074.7H831.5V2074.3H833.7V2076.0H842.5V2074.0H844.7V2073.4H846.9V2074.1H849.1V2073.3H851.3V2074.7H853.5V2074.3H855.7V2076.0H864.5V2072.5H866.7V2076.0H871.1V2070.2H873.3V2073.7H875.5V2076.0H877.7V2072.9H879.9V2076.0H884.3V2074.6H886.5V2073.8H888.7V2075.0H890.9V2076.0H895.3V2074.3H897.5V2076.0H899.7V2074.0H901.9V2076.0H904.1V2075.0H906.3V2075.2H908.5V2075.0H910.7V2074.6H912.9V2076.0H915.1V2074.6H917.3V2076.0H921.7V2073.9H923.9V2076.0H928.3V2074.3H930.5V2076.0H934.9V2073.6H937.1V2076.0H943.7V2073.7H945.9V2073.6H948.1V2074.8H950.3V2076.0H961.3V2074.3H963.5V2076.0H972.3V2074.5H974.5V2076.0H976.7V2074.6H978.9V2076.0H981.1V2074.1H983.3V2076.0H987.7V2073.0H989.9V2076.0H992.1V2073.9H994.3V2074.5H996.5V2076.0H1011.9V2071.7H1014.1V2076.0H1022.9V2074.3H1025.1V2073.9H1027.3V2076.0H1031.7V2073.7H1033.9V2076.0H1036.1V2073.5H1038.3V2076.0H1044.9V2074.5H1047.1V2076.0H1088.9V2074.8H1091.1V2076.0H1093.3V2074.3H1095.5V2073.6H1097.7V2076.0H1130.7V2075.3H1132.9V2076.0H1137.3V2074.9H1139.5V2075.0H1141.7V2076.0H1154.9V2075.3H1157.1V2076.0H1168.1V2074.7H1170.3V2074.6H1172.5V2076.0H1174.7V2074.0H1176.9V2074.7H1179.1V2076.0H1198.9V2074.4H1201.1V2076.0H1207.7V2074.5H1209.9V2076.0H1216.5V2073.8H1218.7V2076.0H1223.1V2074.4H1225.3V2076.0H1229.7V2073.6H1231.9V2076.0H1234.1V2073.8H1236.3V2074.8H1238.5V2076.0H1240.7V2075.3H1242.9V2076.0H1253.9V2075.0H1256.1V2076.0H1269.3V2074.8H1271.5V2076.0H1289.1V2074.2H1291.3V2076.0H1304.5V2074.4H1306.7V2061.6H1308.9V2056.6H1311.1V2059.5H1313.3V2073.3H1315.5V2074.2H1317.7V2076.0H1330.9V2073.9H1333.1V2076.0H1339.7V2074.4H1341.9V2076.0H1346.3V2074.7H1348.5V2076.0H1352.9V2074.4H1355.1V2076.0H1377.1V2074.6H1379.3V2076.0H1383.7V2074.8H1385.9V2076.0H1388.1V2071.6H1390.3V2073.9H1392.5V2076.0H1394.7V2073.8H1396.9V2076.0H1403.5V2073.8H1405.7V2076.0H1410.1V2074.8H1412.3V2076.0H1416.7V2074.8H1418.9V2076.0H1423.3V2074.1H1425.5V2076.0H1436.5V2073.2H1438.7V2076.0H1458.5V2072.8H1460.7V2076.0H1462.9V2074.5H1465.1V2076.0H1469.5V2074.9H1471.7V2076.0H1478.3V2075.0H1480.5V2076.0H1484.9V2074.8H1487.1V2076.0H1493.7V2073.3H1495.9V2076.0H1517.9V2074.9H1520.1V2076.0H1575.1V2072.8H1577.3V2076.0H1586.1V2074.0H1588.3V2076.0H1599.3V2074.5H1601.5V2073.9H1603.7V2071.6H1605.9V2054.1H1608.1V2044.6H1610.3V2048.6H1612.5V2062.7H1614.7V2070.5H1616.9V2074.0H1619.1V2073.5H1621.3V2070.7H1623.5V2074.0H1625.7V2076.0H1627.9V2073.8H1630.1V2068.6H1632.3V2067.5H1634.5V2072.3H1636.7V2074.3H1638.9V2076.0H1643.3V2071.1H1645.5V2073.4H1647.7V2073.2H1649.9V2076.0H1652.1V2074.4H1654.3V2070.4H1656.5V2054.6H1658.7V2050.3H1660.9V2056.5H1663.1V2071.9H1665.3V2074.0H1667.5V2074.3H1669.7V2074.2H1671.9V2074.5H1674.1V2073.7H1676.3V2069.5H1678.5V2064.5H1680.7V2069.5H1682.9V2074.7H1685.1V2073.8H1687.3V2073.6H1689.5V2074.1H1691.7V2074.4H1693.9V2076.0H1696.1V2073.1H1698.3V2076.0H1700.5V2074.1H1704.9V2071.3H1707.1V2071.6H1709.3V2072.7H1711.5V2072.6H1713.7V2073.7H1715.9V2072.3H1718.1V2076.0H1722.5V2074.1H1724.7V2076.0H1726.9V2072.8H1729.1V2069.9H1731.3V2073.1H1733.5V2072.9H1735.7V2073.0H1737.9V2076.0H1742.3V2073.5H1744.5V2069.1H1746.7V2061.1H1748.9V2062.0H1751.1V2068.9H1753.3V2075.0H1755.5V2076.0H1759.9V2073.3H1762.1V2071.9H1764.3V2073.3H1766.5V2074.3H1768.7V2073.0H1770.9V2076.0H1775.3V2074.5H1777.5V2074.0H1779.7V2076.0H1790.7V2073.6H1792.9V2072.0H1795.1V2067.4H1797.3V2062.7H1799.5V2065.1H1801.7V2072.4H1803.9V2076.0H1806.1V2073.8H1808.3V2070.6H1810.5V2076.0H1812.7V2072.8H1814.9V2070.3H1817.1V2069.7H1819.3V2070.1H1821.5V2076.0H1823.7V2071.7H1825.9V2076.0H1828.1V2072.5H1830.3V2072.7H1832.5V2073.0H1834.7V2074.4H1836.9V2074.7H1839.1V2076.0H1841.3V2071.5H1843.5V2066.3H1845.7V2054.5H1847.9V2055.5H1850.1V2058.4H1852.3V2070.5H1854.5V2073.5H1856.7V2074.7H1858.9V2076.0H1861.1V2074.4H1863.3V2074.2H1865.5V2072.0H1867.7V2076.0H1869.9V2074.4H1872.1V2069.3H1874.3V2047.6H1876.5V2049.0H1878.7V2058.6H1880.9V2067.7H1883.1V2076.0H1887.5V2072.9H1889.7V2073.9H1891.9V2074.6H1894.1V2073.6H1896.3V2068.9H1898.5V2061.4H1900.7V2059.5H1902.9V2068.0H1905.1V2070.6H1907.3V2071.5H1909.5V2070.4H1911.7V2069.0H1913.9V2025.5H1916.1V2042.8H1918.3V2054.8H1920.5V2055.7H1922.7V2034.6H1924.9V2046.5H1927.1V2051.7H1929.3V2058.7H1931.5V2051.6H1933.7V2054.5H1935.9V2041.0H1938.1V2062.3H1940.3V2058.8H1942.5V2056.7H1944.7V2052.9H1946.9V2051.5H1949.1V2057.5H1951.3V2054.6H1953.5V2048.7H1955.7V2055.2H1957.9V2066.9H1960.1V2061.3H1962.3V2063.4H1964.5V2065.1H1966.7V2063.6H1968.9V2067.1H1971.1V2065.4H1973.3V2066.5H1975.5V2063.8H1977.7V2055.2H1979.9V2056.1H1982.1V2052.4H1984.3V2054.1H1986.5V2048.8H1988.7V2053.2H1990.9V2057.1H1993.1V2039.4H1995.3V2040.7H1997.5V2033.9H1999.7V2035.5H2001.9V2037.4H2004.1V2039.4H2006.3V2040.3H2008.5V2041.7H2010.7V2033.7H2012.9V2052.1H2015.1V2032.0H2017.3V2030.9H2019.5V2030.1H2021.7V2025.8H2023.9V2037.6H2026.1V2036.7H2028.3V2020.8H2030.5V2031.6H2032.7V2040.5H2034.9V2044.7H2037.1V2004.5H2039.3V2005.5H2041.5V2034.1H2043.7V2022.1H2045.9V2059.8H2048.1V2072.2H2050.3V2072.1H2052.5V2074.3H2054.7V2074.0H2056.9V2074.6H2059.1V2074.7H2061.3V2074.9H2063.5V2074.3H2067.9V2074.6H2070.1V2074.8H2072.3V2075.0H2074.5V2046.0H2076.7V2004.3H2078.9V2003.8H2081.1V2002.6H2083.3V2012.1H2085.5V2008.7H2087.7V2030.4H2089.9V2020.3H2092.1V2001.8H2094.3V2017.5H2096.5V2035.0H2098.7V2076.0H2100.9V2076.0Z" fill="#FF9898"/>
<path d="M327.7 2076.0H354.1V2073.9H356.3V2073.7H358.5V2074.7H360.7V2074.6H362.9V2072.9H365.1V2074.8H367.3V2074.6H369.5V2074.9H371.7V2075.0H373.9V2074.6H376.1V2075.0H378.3V2076.0H380.5V2074.7H382.7V2074.5H384.9V2073.7H387.1V2074.9H389.3V2076.0H393.7V2074.6H395.9V2076.0H398.1V2073.0H400.3V2076.0H402.5V2074.8H404.7V2073.0H406.9V2073.7H409.1V2071.4H411.3V2074.7H413.5V2076.0H415.7V2073.2H417.9V2076.0H420.1V2074.7H422.3V2076.0H424.5V2074.6H426.7V2076.0H428.9V2074.7H431.1V2074.6H433.3V2074.3H435.5V2074.0H437.7V2074.5H439.9V2075.0H442.1V2074.5H444.3V2074.7H446.5V2074.6H448.7V2073.2H450.9V2076.0H453.1V2073.4H455.3V2073.2H457.5V2074.2H459.7V2072.7H461.9V2072.4H464.1V2072.5H466.3V2072.0H468.5V2074.5H470.7V2074.0H472.9V2074.1H475.1V2074.2H477.3V2073.2H479.5V2073.6H481.7V2074.8H483.9V2076.0H486.1V2073.7H488.3V2073.5H490.5V2076.0H492.7V2074.6H494.9V2073.4H497.1V2074.6H499.3V2076.0H503.7V2074.8H505.9V2076.0H508.1V2071.9H510.3V2073.8H512.5V2072.4H514.7V2071.9H516.9V2072.3H519.1V2076.0H521.3V2072.3H523.5V2072.8H525.7V2074.3H527.9V2074.7H530.1V2076.0H534.5V2074.7H536.7V2074.9H541.1V2076.0H543.3V2074.2H545.5V2076.0H558.7V2074.2H560.9V2074.4H563.1V2074.8H565.3V2074.2H567.5V2076.0H574.1V2073.6H576.3V2075.1H578.5V2076.0H582.9V2074.0H585.1V2076.0H587.3V2074.2H589.5V2076.0H591.7V2075.1H593.9V2076.0H596.1V2074.8H598.3V2074.7H600.5V2076.0H602.7V2075.4H604.9V2076.0H609.3V2074.6H611.5V2074.7H613.7V2074.6H620.3V2076.0H622.5V2074.4H624.7V2076.0H631.3V2074.9H633.5V2076.0H635.7V2073.7H637.9V2076.0H642.3V2074.2H644.5V2074.8H646.7V2076.0H648.9V2074.5H651.1V2076.0H659.9V2073.8H662.1V2076.0H664.3V2074.5H666.5V2076.0H668.7V2074.7H670.9V2076.0H675.3V2074.6H677.5V2076.0H679.7V2073.1H681.9V2076.0H686.3V2074.9H688.5V2076.0H697.3V2074.7H699.5V2076.0H701.7V2074.5H703.9V2076.0H708.3V2074.9H710.5V2074.8H714.9V2076.0H721.5V2074.6H723.7V2074.5H725.9V2074.9H728.1V2074.7H730.3V2074.5H732.5V2074.7H734.7V2076.0H736.9V2074.9H739.1V2074.6H741.3V2076.0H743.5V2074.1H745.7V2076.0H747.9V2074.1H750.1V2076.0H752.3V2074.2H754.5V2076.0H758.9V2074.0H761.1V2076.0H763.3V2074.9H765.5V2076.0H778.7V2074.7H780.9V2076.0H783.1V2074.5H785.3V2076.0H789.7V2074.1H791.9V2076.0H805.1V2073.7H807.3V2075.1H809.5V2076.0H811.7V2073.9H813.9V2076.0H822.7V2073.9H824.9V2074.9H827.1V2074.5H829.3V2074.7H831.5V2074.8H833.7V2076.0H842.5V2074.5H844.7V2074.3H846.9V2074.8H849.1V2074.1H851.3V2074.7H853.5V2074.5H855.7V2076.0H864.5V2073.7H866.7V2076.0H871.1V2071.8H873.3V2074.3H875.5V2076.0H877.7V2073.5H879.9V2076.0H884.3V2074.6H886.5V2074.2H888.7V2075.0H890.9V2076.0H895.3V2074.9H897.5V2076.0H899.7V2074.7H901.9V2076.0H904.1V2075.0H906.3V2075.2H908.5V2075.0H910.7V2074.6H912.9V2076.0H915.1V2074.6H917.3V2076.0H921.7V2074.7H923.9V2076.0H928.3V2075.0H930.5V2076.0H934.9V2074.5H937.1V2076.0H943.7V2074.2H948.1V2074.8H950.3V2076.0H961.3V2074.9H963.5V2076.0H972.3V2074.5H974.5V2076.0H976.7V2074.6H978.9V2076.0H981.1V2074.4H983.3V2076.0H987.7V2073.8H989.9V2076.0H992.1V2074.6H994.3V2074.5H996.5V2076.0H1011.9V2072.4H1014.1V2076.0H1022.9V2074.6H1025.1V2074.3H1027.3V2076.0H1031.7V2074.5H1033.9V2076.0H1036.1V2074.3H1038.3V2076.0H1044.9V2074.5H1047.1V2076.0H1088.9V2074.8H1091.1V2076.0H1093.3V2075.0H1095.5V2074.1H1097.7V2076.0H1130.7V2075.3H1132.9V2076.0H1137.3V2074.9H1139.5V2075.0H1141.7V2076.0H1154.9V2075.3H1157.1V2076.0H1168.1V2074.7H1170.3V2074.6H1172.5V2076.0H1174.7V2074.5H1176.9V2074.7H1179.1V2076.0H1198.9V2074.9H1201.1V2076.0H1207.7V2074.5H1209.9V2076.0H1216.5V2074.7H1218.7V2076.0H1223.1V2074.9H1225.3V2076.0H1229.7V2074.3H1231.9V2076.0H1234.1V2074.5H1236.3V2074.8H1238.5V2076.0H1240.7V2075.3H1242.9V2076.0H1253.9V2075.0H1256.1V2076.0H1269.3V2074.8H1271.5V2076.0H1289.1V2074.6H1291.3V2076.0H1304.5V2074.9H1306.7V2065.8H1308.9V2063.4H1311.1V2066.0H1313.3V2074.2H1315.5V2074.6H1317.7V2076.0H1330.9V2074.3H1333.1V2076.0H1339.7V2074.8H1341.9V2076.0H1346.3V2074.7H1348.5V2076.0H1352.9V2074.8H1355.1V2076.0H1377.1V2074.6H1379.3V2076.0H1383.7V2074.8H1385.9V2076.0H1388.1V2072.5H1390.3V2074.5H1392.5V2076.0H1394.7V2074.3H1396.9V2076.0H1403.5V2074.3H1405.7V2076.0H1410.1V2074.8H1412.3V2076.0H1416.7V2074.8H1418.9V2076.0H1423.3V2074.8H1425.5V2076.0H1436.5V2073.9H1438.7V2076.0H1458.5V2073.5H1460.7V2076.0H1462.9V2074.9H1465.1V2076.0H1469.5V2074.9H1471.7V2076.0H1478.3V2075.0H1480.5V2076.0H1484.9V2074.8H1487.1V2076.0H1493.7V2074.2H1495.9V2076.0H1517.9V2074.9H1520.1V2076.0H1575.1V2073.4H1577.3V2076.0H1586.1V2074.4H1588.3V2076.0H1599.3V2074.9H1601.5V2074.2H1603.7V2072.8H1605.9V2059.7H1608.1V2051.5H1610.3V2053.7H1612.5V2065.4H1614.7V2072.2H1616.9V2074.5H1619.1V2074.1H1621.3V2072.0H1623.5V2074.7H1625.7V2076.0H1627.9V2074.4H1630.1V2070.8H1632.3V2069.1H1634.5V2073.6H1636.7V2074.9H1638.9V2076.0H1643.3V2071.9H1645.5V2074.3H1647.7V2074.0H1649.9V2076.0H1652.1V2074.7H1654.3V2072.3H1656.5V2058.2H1658.7V2056.2H1660.9V2061.7H1663.1V2072.7H1665.3V2074.5H1667.5V2074.7H1669.7V2074.8H1671.9V2074.9H1674.1V2074.5H1676.3V2070.9H1678.5V2067.0H1680.7V2071.5H1682.9V2074.7H1685.1V2074.5H1687.3V2074.1H1689.5V2074.7H1691.7V2074.9H1693.9V2076.0H1696.1V2074.0H1698.3V2076.0H1700.5V2074.5H1702.7V2074.4H1704.9V2073.0H1707.1V2072.7H1709.3V2073.7H1711.5V2073.8H1713.7V2074.5H1715.9V2072.9H1718.1V2076.0H1722.5V2074.5H1724.7V2076.0H1726.9V2073.3H1729.1V2072.2H1731.3V2074.2H1733.5V2073.8H1735.7V2073.5H1737.9V2076.0H1742.3V2074.5H1744.5V2071.5H1746.7V2064.5H1748.9V2067.0H1751.1V2071.1H1753.3V2075.0H1755.5V2076.0H1759.9V2074.2H1762.1V2073.6H1764.3V2074.1H1766.5V2074.8H1768.7V2074.0H1770.9V2076.0H1775.3V2074.9H1777.5V2074.6H1779.7V2076.0H1790.7V2074.0H1792.9V2073.2H1795.1V2069.1H1797.3V2065.2H1799.5V2069.4H1801.7V2073.0H1803.9V2076.0H1806.1V2074.4H1808.3V2072.4H1810.5V2076.0H1812.7V2073.7H1814.9V2071.8H1817.1V2071.7H1819.3V2071.4H1821.5V2076.0H1823.7V2073.3H1825.9V2076.0H1828.1V2073.6H1830.3V2073.5H1832.5V2073.9H1834.7V2074.9H1836.9V2074.7H1839.1V2076.0H1841.3V2072.5H1843.5V2069.0H1845.7V2060.0H1847.9V2061.2H1850.1V2065.1H1852.3V2072.5H1854.5V2074.3H1856.7V2074.7H1858.9V2076.0H1861.1V2075.0H1863.3V2074.8H1865.5V2073.0H1867.7V2076.0H1869.9V2074.8H1872.1V2071.3H1874.3V2057.5H1876.5V2059.5H1878.7V2064.2H1880.9V2071.0H1883.1V2076.0H1887.5V2073.9H1889.7V2074.4H1891.9V2074.6H1894.1V2074.3H1896.3V2071.7H1898.5V2065.0H1900.7V2062.5H1902.9V2071.1H1905.1V2072.7H1907.3V2073.2H1909.5V2071.9H1911.7V2071.6H1913.9V2037.6H1916.1V2053.6H1918.3V2059.2H1920.5V2061.7H1922.7V2041.5H1924.9V2056.2H1927.1V2056.1H1929.3V2063.0H1931.5V2059.4H1933.7V2058.4H1935.9V2054.7H1938.1V2065.4H1940.3V2065.5H1942.5V2060.9H1944.7V2061.6H1946.9V2060.3H1949.1V2064.5H1951.3V2058.7H1953.5V2056.3H1955.7V2060.9H1957.9V2069.3H1960.1V2064.3H1962.3V2067.5H1964.5V2068.8H1966.7V2065.6H1968.9V2069.9H1971.1V2069.0H1973.3V2069.1H1975.5V2066.3H1977.7V2062.8H1979.9V2062.7H1982.1V2057.9H1984.3V2061.9H1986.5V2059.5H1988.7V2061.0H1990.9V2064.1H1993.1V2051.7H1995.3V2050.2H1997.5V2050.3H1999.7V2045.1H2001.9V2049.1H2004.1V2046.2H2006.3V2054.1H2008.5V2055.1H2010.7V2045.8H2012.9V2056.2H2015.1V2041.1H2017.3V2037.8H2019.5V2046.0H2021.7V2033.6H2023.9V2052.6H2026.1V2045.2H2028.3V2033.2H2030.5V2047.4H2032.7V2054.1H2034.9V2050.9H2037.1V2020.9H2039.3V2022.5H2041.5V2041.3H2043.7V2040.4H2045.9V2066.0H2048.1V2072.8H2050.3V2073.5H2052.5V2074.9H2054.7V2074.4H2056.9V2074.6H2059.1V2074.7H2061.3V2074.9H2063.5V2074.8H2065.7V2074.9H2067.9V2074.6H2070.1V2074.8H2072.3V2075.0H2074.5V2053.8H2076.7V2022.2H2078.9V2029.4H2081.1V2014.7H2083.3V2036.0H2085.5V2034.0H2087.7V2040.6H2089.9V2042.0H2092.1V2022.7H2094.3V2037.1H2096.5V2045.0H2098.7V2076.0H2100.9V2076.0Z" fill="#FF6A6E"/>
<rect x="348.7" y="2063.6" width="2.6" height="12.4" fill="#FFC4C4"/><rect x="348.7" y="2067.0" width="2.6" height="9.0" fill="#FF9898"/>
<rect x="346.4" y="2056.0" width="2.3" height="20.0" fill="#FFC4C4"/><rect x="346.4" y="2060.0" width="2.3" height="16.0" fill="#FF6A6E"/>
<text x="68.0" y="2048.9" font-family="'Liberation Sans', Arial, sans-serif" font-weight="normal" font-size="46.65" textLength="236.4" lengthAdjust="spacingAndGlyphs" fill="#FD6C6E">Adipose_p1</text>
<text x="2116.2" y="2025.8" font-family="'Liberation Sans', Arial, sans-serif" font-weight="normal" font-size="32.22" textLength="53.1" lengthAdjust="spacingAndGlyphs" fill="#FD6C6E">200</text>
<text x="2135.0" y="2071.0" font-family="'Liberation Sans', Arial, sans-serif" font-weight="normal" font-size="32.22" textLength="17.6" lengthAdjust="spacingAndGlyphs" fill="#FD6C6E">0</text>
<path d="M327.7 2165.8H1304.5V2165.1H1306.7V2163.8H1308.9V2162.9H1311.1V2163.1H1313.3V2165.1H1315.5V2165.8H1603.7V2164.0H1605.9V2159.5H1608.1V2157.6H1610.3V2156.9H1612.5V2161.2H1614.7V2163.6H1616.9V2165.8H1654.3V2165.5H1656.5V2162.7H1658.7V2161.1H1660.9V2162.8H1663.1V2164.8H1665.3V2165.8H1674.1V2165.3H1676.3V2163.5H1678.5V2161.3H1680.7V2163.2H1682.9V2164.6H1685.1V2165.8H1740.1V2164.8H1742.3V2163.4H1744.5V2162.1H1746.7V2161.8H1748.9V2164.2H1751.1V2164.8H1753.3V2165.8H1792.9V2165.3H1795.1V2163.5H1797.3V2163.0H1799.5V2164.3H1801.7V2165.3H1803.9V2165.8H1841.3V2164.7H1843.5V2158.5H1845.7V2156.6H1847.9V2156.3H1850.1V2159.8H1852.3V2164.0H1854.5V2165.8H1869.9V2161.2H1872.1V2163.6H1874.3V2147.1H1876.5V2148.9H1878.7V2152.8H1880.9V2163.0H1883.1V2165.8H1894.1V2164.0H1896.3V2159.5H1898.5V2156.9H1900.7V2156.2H1902.9V2158.1H1905.1V2163.2H1907.3V2164.1H1909.5V2165.2H1911.7V2158.5H1913.9V2158.6H1916.1V2156.6H1918.3V2157.0H1920.5V2158.7H1922.7V2148.7H1924.9V2158.1H1927.1V2151.9H1929.3V2154.2H1931.5V2149.5H1933.7V2152.9H1935.9V2155.9H1938.1V2154.7H1940.3V2152.8H1942.5V2152.0H1944.7V2154.4H1946.9V2145.5H1949.1V2157.0H1951.3V2155.5H1953.5V2148.5H1955.7V2153.7H1957.9V2165.1H1960.1V2164.9H1962.3V2163.9H1964.5V2164.7H1966.7V2163.8H1968.9V2164.9H1973.3V2164.7H1975.5V2165.1H1977.7V2164.5H1979.9V2165.1H1982.1V2165.2H1984.3V2163.9H1986.5V2164.7H1988.7V2164.2H1990.9V2157.8H1993.1V2159.1H1995.3V2159.8H1997.5V2158.3H1999.7V2159.6H2001.9V2161.3H2004.1V2160.0H2006.3V2161.8H2008.5V2161.9H2010.7V2160.9H2012.9V2160.0H2015.1V2158.5H2017.3V2161.1H2019.5V2158.1H2021.7V2160.7H2023.9V2160.3H2026.1V2159.9H2028.3V2158.7H2030.5V2157.0H2032.7V2158.6H2034.9V2158.2H2037.1V2158.0H2039.3V2154.8H2041.5V2156.8H2043.7V2159.2H2045.9V2165.8H2074.5V2156.7H2076.7V2159.7H2078.9V2159.2H2081.1V2160.4H2083.3V2156.1H2085.5V2158.5H2087.7V2160.7H2089.9V2157.7H2092.1V2160.0H2094.3V2156.7H2096.5V2155.6H2098.7V2165.8H2100.9V2165.8Z" fill="#FFC4C4"/>
<path d="M327.7 2165.8H1304.5V2165.1H1306.7V2164.1H1308.9V2163.5H1311.1V2163.3H1313.3V2165.1H1315.5V2165.8H1603.7V2164.2H1605.9V2160.9H1608.1V2159.2H1610.3V2157.9H1612.5V2162.2H1614.7V2164.1H1616.9V2165.8H1654.3V2165.5H1656.5V2163.3H1658.7V2161.9H1660.9V2163.4H1663.1V2164.8H1665.3V2165.8H1674.1V2165.3H1676.3V2163.8H1678.5V2162.1H1680.7V2163.4H1682.9V2164.6H1685.1V2165.8H1740.1V2164.8H1742.3V2163.8H1744.5V2162.9H1746.7V2162.6H1748.9V2164.3H1751.1V2164.8H1753.3V2165.8H1792.9V2165.3H1795.1V2163.9H1797.3V2163.8H1799.5V2164.5H1801.7V2165.3H1803.9V2165.8H1841.3V2164.7H1843.5V2160.0H1845.7V2157.8H1847.9V2158.9H1850.1V2161.0H1852.3V2164.4H1854.5V2165.8H1869.9V2162.4H1872.1V2164.0H1874.3V2152.0H1876.5V2153.6H1878.7V2155.3H1880.9V2163.5H1883.1V2165.8H1894.1V2164.3H1896.3V2160.4H1898.5V2157.6H1900.7V2156.8H1902.9V2159.4H1905.1V2163.9H1907.3V2164.5H1909.5V2165.2H1911.7V2159.9H1913.9V2160.2H1916.1V2157.0H1918.3V2158.2H1920.5V2160.1H1922.7V2151.8H1924.9V2159.6H1927.1V2155.6H1929.3V2155.8H1931.5V2153.0H1933.7V2155.9H1935.9V2158.2H1938.1V2156.0H1940.3V2155.0H1942.5V2153.5H1944.7V2157.5H1946.9V2148.9H1949.1V2158.6H1951.3V2156.9H1953.5V2151.7H1955.7V2156.7H1957.9V2165.1H1960.1V2164.9H1962.3V2164.0H1964.5V2164.7H1966.7V2163.9H1968.9V2164.9H1973.3V2164.7H1975.5V2165.1H1977.7V2164.5H1979.9V2165.1H1982.1V2165.2H1984.3V2164.3H1986.5V2164.7H1988.7V2164.6H1990.9V2159.3H1993.1V2160.5H1995.3V2160.9H1997.5V2159.6H1999.7V2160.8H2001.9V2161.5H2004.1V2161.6H2006.3V2162.5H2008.5V2163.0H2010.7V2161.3H2012.9V2160.6H2015.1V2160.1H2017.3V2161.5H2019.5V2160.0H2021.7V2161.3H2023.9V2160.6H2026.1V2161.4H2028.3V2160.4H2030.5V2157.8H2032.7V2159.6H2034.9V2159.0H2037.1V2158.8H2039.3V2155.6H2041.5V2158.6H2043.7V2160.1H2045.9V2165.8H2074.5V2158.1H2076.7V2160.9H2078.9V2160.4H2081.1V2161.1H2083.3V2157.3H2085.5V2159.1H2087.7V2161.2H2089.9V2159.1H2092.1V2161.5H2094.3V2158.6H2096.5V2157.7H2098.7V2165.8H2100.9V2165.8Z" fill="#FF9898"/>
<path d="M327.7 2165.8H1304.5V2165.1H1306.7V2164.6H1308.9V2164.3H1311.1V2164.1H1313.3V2165.1H1315.5V2165.8H1603.7V2164.5H1605.9V2162.6H1608.1V2160.8H1610.3V2159.4H1612.5V2163.3H1614.7V2164.6H1616.9V2165.8H1654.3V2165.5H1656.5V2164.3H1658.7V2162.7H1660.9V2163.9H1663.1V2164.8H1665.3V2165.8H1674.1V2165.3H1676.3V2164.2H1678.5V2163.5H1680.7V2163.8H1682.9V2164.6H1685.1V2165.8H1740.1V2164.8H1742.3V2164.5H1744.5V2163.4H1746.7V2163.5H1748.9V2164.3H1751.1V2164.8H1753.3V2165.8H1792.9V2165.3H1795.1V2164.4H1799.5V2164.5H1801.7V2165.3H1803.9V2165.8H1841.3V2164.7H1843.5V2161.1H1845.7V2160.3H1847.9V2160.6H1850.1V2162.3H1852.3V2164.4H1854.5V2165.8H1869.9V2163.4H1872.1V2164.3H1874.3V2155.1H1876.5V2156.1H1878.7V2159.3H1880.9V2164.3H1883.1V2165.8H1894.1V2164.9H1896.3V2161.3H1898.5V2160.8H1900.7V2159.4H1902.9V2161.9H1905.1V2164.3H1907.3V2164.5H1909.5V2165.2H1911.7V2162.2H1913.9V2162.1H1916.1V2159.1H1918.3V2160.0H1920.5V2162.3H1922.7V2155.2H1924.9V2160.6H1927.1V2157.6H1929.3V2158.6H1931.5V2155.0H1933.7V2158.5H1935.9V2159.5H1938.1V2158.5H1940.3V2157.7H1942.5V2156.7H1944.7V2159.0H1946.9V2153.5H1949.1V2160.2H1951.3V2159.4H1953.5V2156.3H1955.7V2159.5H1957.9V2165.1H1960.1V2164.9H1962.3V2164.3H1964.5V2164.7H1968.9V2164.9H1973.3V2164.7H1975.5V2165.1H1977.7V2164.5H1979.9V2165.1H1982.1V2165.2H1984.3V2164.3H1986.5V2164.7H1988.7V2164.6H1990.9V2160.7H1993.1V2162.4H1995.3V2162.0H1997.5V2161.3H1999.7V2162.3H2004.1V2162.2H2006.3V2163.7H2008.5V2164.0H2010.7V2162.7H2012.9V2162.4H2015.1V2161.2H2017.3V2163.0H2019.5V2161.0H2021.7V2162.9H2023.9V2162.6H2028.3V2162.2H2030.5V2159.2H2032.7V2161.5H2037.1V2161.1H2039.3V2158.3H2041.5V2160.4H2043.7V2161.7H2045.9V2165.8H2074.5V2159.6H2076.7V2161.9H2078.9V2162.2H2081.1V2162.7H2083.3V2158.8H2085.5V2160.3H2087.7V2162.4H2089.9V2160.5H2092.1V2163.1H2094.3V2160.8H2096.5V2160.3H2098.7V2165.8H2100.9V2165.8Z" fill="#FF6A6E"/>
<text x="66.9" y="2139.0" font-family="'Liberation Sans', Arial, sans-serif" font-weight="normal" font-size="49.41" textLength="168.4" lengthAdjust="spacingAndGlyphs" fill="#FD6C6E">CNS_p1</text>
<text x="2116.2" y="2115.6" font-family="'Liberation Sans', Arial, sans-serif" font-weight="normal" font-size="32.22" textLength="53.1" lengthAdjust="spacingAndGlyphs" fill="#FD6C6E">200</text>
<text x="2135.0" y="2160.8" font-family="'Liberation Sans', Arial, sans-serif" font-weight="normal" font-size="32.22" textLength="17.6" lengthAdjust="spacingAndGlyphs" fill="#FD6C6E">0</text>
<path d="M327.7 2255.6H384.9V2254.4H387.1V2255.6H406.9V2254.6H409.1V2255.6H549.9V2254.1H552.1V2255.6H807.3V2253.8H809.5V2255.6H868.9V2254.9H871.1V2255.6H912.9V2255.1H915.1V2255.6H972.3V2255.2H974.5V2255.6H1097.7V2254.5H1099.9V2255.6H1278.1V2254.6H1280.3V2255.6H1304.5V2254.6H1306.7V2253.5H1308.9V2250.8H1313.3V2254.6H1315.5V2254.7H1317.7V2255.6H1381.5V2254.9H1383.7V2255.6H1504.7V2254.9H1506.9V2255.6H1513.5V2254.6H1515.7V2255.6H1570.7V2254.3H1572.9V2255.6H1603.7V2250.7H1605.9V2247.8H1608.1V2238.1H1610.3V2238.7H1612.5V2246.7H1614.7V2253.4H1616.9V2255.6H1623.5V2254.7H1625.7V2255.6H1654.3V2254.8H1656.5V2251.3H1658.7V2246.8H1660.9V2251.3H1663.1V2253.6H1665.3V2255.6H1674.1V2251.8H1676.3V2247.1H1678.5V2241.8H1680.7V2242.3H1682.9V2246.3H1685.1V2252.8H1687.3V2255.6H1742.3V2253.9H1744.5V2243.7H1746.7V2235.9H1748.9V2236.4H1751.1V2244.5H1753.3V2253.7H1755.5V2255.6H1792.9V2253.5H1795.1V2250.9H1797.3V2245.7H1799.5V2250.9H1801.7V2253.2H1803.9V2255.6H1841.3V2252.6H1843.5V2242.6H1845.7V2208.7H1847.9V2210.9H1850.1V2227.9H1852.3V2253.2H1854.5V2255.6H1869.9V2252.9H1872.1V2236.9H1874.3V2229.5H1876.5V2240.7H1878.7V2253.7H1880.9V2255.6H1894.1V2253.7H1896.3V2242.2H1898.5V2234.6H1900.7V2236.1H1902.9V2244.9H1905.1V2253.8H1907.3V2254.5H1909.5V2254.4H1911.7V2232.0H1913.9V2232.8H1916.1V2236.4H1918.3V2236.8H1920.5V2243.3H1922.7V2244.1H1924.9V2226.5H1927.1V2233.5H1929.3V2236.4H1931.5V2235.3H1933.7V2238.7H1935.9V2238.4H1938.1V2233.8H1940.3V2235.4H1942.5V2234.7H1944.7V2222.5H1946.9V2240.4H1949.1V2234.8H1951.3V2255.6H1957.9V2248.5H1960.1V2249.8H1962.3V2247.8H1964.5V2250.1H1966.7V2247.9H1968.9V2247.5H1971.1V2249.0H1973.3V2249.2H1975.5V2249.8H1977.7V2250.0H1979.9V2249.3H1982.1V2247.8H1984.3V2245.6H1986.5V2250.8H1988.7V2251.0H1990.9V2237.2H1993.1V2230.8H1995.3V2237.7H1997.5V2236.2H1999.7V2238.0H2001.9V2238.7H2004.1V2235.3H2006.3V2229.5H2008.5V2237.5H2010.7V2230.6H2012.9V2235.4H2015.1V2218.1H2017.3V2232.0H2019.5V2227.5H2021.7V2229.6H2023.9V2226.7H2026.1V2197.2H2028.3V2207.3H2030.5V2226.7H2032.7V2230.9H2034.9V2223.6H2037.1V2219.3H2039.3V2217.2H2041.5V2220.5H2043.7V2225.4H2045.9V2255.6H2074.5V2216.0H2076.7V2224.5H2078.9V2223.1H2081.1V2224.6H2083.3V2214.2H2085.5V2206.0H2087.7V2219.3H2089.9V2226.0H2092.1V2207.2H2094.3V2229.7H2096.5V2224.1H2098.7V2255.6H2100.9V2255.6Z" fill="#FFC4C4"/>
<path d="M327.7 2255.6H384.9V2254.4H387.1V2255.6H406.9V2254.6H409.1V2255.6H549.9V2254.1H552.1V2255.6H807.3V2254.1H809.5V2255.6H868.9V2254.9H871.1V2255.6H912.9V2255.1H915.1V2255.6H972.3V2255.2H974.5V2255.6H1097.7V2254.5H1099.9V2255.6H1278.1V2254.6H1280.3V2255.6H1304.5V2254.6H1306.7V2253.8H1308.9V2251.2H1311.1V2251.6H1313.3V2254.6H1315.5V2254.7H1317.7V2255.6H1381.5V2254.9H1383.7V2255.6H1504.7V2254.9H1506.9V2255.6H1513.5V2254.6H1515.7V2255.6H1570.7V2254.3H1572.9V2255.6H1603.7V2252.0H1605.9V2249.9H1608.1V2239.5H1610.3V2239.8H1612.5V2247.8H1614.7V2253.7H1616.9V2255.6H1623.5V2254.7H1625.7V2255.6H1654.3V2254.8H1656.5V2252.2H1658.7V2248.1H1660.9V2252.4H1663.1V2253.7H1665.3V2255.6H1674.1V2252.3H1676.3V2247.6H1678.5V2243.6H1680.7V2243.1H1682.9V2247.0H1685.1V2253.3H1687.3V2255.6H1742.3V2254.3H1744.5V2245.0H1746.7V2240.8H1748.9V2241.4H1751.1V2246.3H1753.3V2253.9H1755.5V2255.6H1792.9V2253.7H1795.1V2251.3H1797.3V2246.4H1799.5V2251.2H1801.7V2253.8H1803.9V2255.6H1841.3V2253.2H1843.5V2245.3H1845.7V2215.5H1847.9V2219.1H1850.1V2233.4H1852.3V2253.5H1854.5V2255.6H1869.9V2253.6H1872.1V2239.9H1874.3V2231.9H1876.5V2244.4H1878.7V2254.2H1880.9V2255.6H1894.1V2253.9H1896.3V2243.9H1898.5V2238.5H1900.7V2237.5H1902.9V2246.0H1905.1V2254.2H1907.3V2254.5H1909.5V2254.4H1911.7V2235.1H1913.9V2236.8H1916.1V2238.7H1918.3V2241.4H1920.5V2245.0H1922.7V2244.9H1924.9V2229.4H1927.1V2239.1H1929.3V2240.5H1931.5V2240.7H1935.9V2239.9H1938.1V2237.1H1940.3V2240.9H1942.5V2239.8H1944.7V2225.5H1946.9V2242.7H1949.1V2238.5H1951.3V2255.6H1957.9V2250.2H1960.1V2251.0H1962.3V2248.9H1964.5V2250.4H1966.7V2249.4H1968.9V2249.6H1971.1V2249.7H1973.3V2250.9H1975.5V2251.0H1977.7V2250.4H1979.9V2249.7H1982.1V2249.9H1984.3V2246.9H1986.5V2251.7H1988.7V2251.8H1990.9V2239.2H1993.1V2236.8H1995.3V2241.3H1997.5V2241.4H1999.7V2240.2H2001.9V2242.3H2004.1V2240.7H2006.3V2236.7H2008.5V2240.0H2010.7V2235.3H2012.9V2238.3H2015.1V2224.8H2017.3V2238.2H2019.5V2231.8H2021.7V2234.0H2023.9V2233.0H2026.1V2209.7H2028.3V2219.7H2030.5V2229.5H2032.7V2233.3H2034.9V2229.2H2037.1V2225.2H2039.3V2225.4H2041.5V2227.5H2043.7V2229.1H2045.9V2255.6H2074.5V2219.2H2076.7V2232.5H2078.9V2224.8H2081.1V2231.3H2083.3V2218.9H2085.5V2212.3H2087.7V2226.9H2089.9V2228.7H2092.1V2210.5H2094.3V2233.2H2096.5V2227.4H2098.7V2255.6H2100.9V2255.6Z" fill="#FF9898"/>
<path d="M327.7 2255.6H384.9V2254.4H387.1V2255.6H406.9V2254.6H409.1V2255.6H549.9V2254.1H552.1V2255.6H807.3V2254.3H809.5V2255.6H868.9V2254.9H871.1V2255.6H912.9V2255.1H915.1V2255.6H972.3V2255.2H974.5V2255.6H1097.7V2254.5H1099.9V2255.6H1278.1V2254.6H1280.3V2255.6H1304.5V2254.6H1306.7V2254.2H1308.9V2252.9H1311.1V2253.2H1313.3V2254.6H1315.5V2254.7H1317.7V2255.6H1381.5V2254.9H1383.7V2255.6H1504.7V2254.9H1506.9V2255.6H1513.5V2254.6H1515.7V2255.6H1570.7V2254.3H1572.9V2255.6H1603.7V2253.3H1605.9V2252.0H1608.1V2245.7H1610.3V2244.0H1612.5V2250.1H1614.7V2254.4H1616.9V2255.6H1623.5V2254.7H1625.7V2255.6H1654.3V2254.8H1656.5V2253.4H1658.7V2250.6H1660.9V2252.9H1663.1V2254.2H1665.3V2255.6H1674.1V2253.0H1676.3V2249.0H1678.5V2245.4H1680.7V2247.4H1682.9V2248.5H1685.1V2253.9H1687.3V2255.6H1742.3V2254.3H1744.5V2247.3H1746.7V2246.0H1748.9V2244.8H1751.1V2248.5H1753.3V2254.2H1755.5V2255.6H1792.9V2254.4H1795.1V2252.9H1797.3V2249.0H1799.5V2251.9H1801.7V2254.4H1803.9V2255.6H1841.3V2253.6H1843.5V2248.9H1845.7V2225.6H1847.9V2227.4H1850.1V2240.9H1852.3V2254.2H1854.5V2255.6H1869.9V2254.2H1872.1V2242.5H1874.3V2236.9H1876.5V2248.4H1878.7V2254.2H1880.9V2255.6H1894.1V2254.2H1896.3V2248.3H1898.5V2242.0H1900.7V2241.6H1902.9V2249.6H1905.1V2254.2H1907.3V2254.5H1909.5V2254.4H1911.7V2241.8H1913.9V2239.6H1916.1V2241.4H1918.3V2246.4H1920.5V2247.3H1922.7V2248.2H1924.9V2236.6H1927.1V2242.2H1929.3V2245.8H1931.5V2245.6H1933.7V2243.1H1935.9V2245.3H1938.1V2243.1H1940.3V2243.8H1942.5V2242.7H1944.7V2231.7H1946.9V2247.7H1949.1V2245.0H1951.3V2255.6H1957.9V2251.3H1960.1V2252.3H1962.3V2250.8H1964.5V2251.8H1966.7V2250.4H1968.9V2251.6H1971.1V2251.2H1973.3V2251.7H1975.5V2252.1H1977.7V2251.2H1979.9V2251.9H1984.3V2250.4H1986.5V2253.0H1988.7V2252.8H1990.9V2244.7H1993.1V2239.8H1995.3V2245.1H1997.5V2243.9H1999.7V2243.6H2001.9V2246.9H2004.1V2244.4H2006.3V2239.6H2008.5V2243.2H2010.7V2241.7H2012.9V2241.0H2015.1V2230.0H2017.3V2241.6H2019.5V2238.7H2021.7V2240.8H2023.9V2237.2H2026.1V2222.4H2028.3V2230.2H2030.5V2239.9H2032.7V2241.5H2034.9V2238.8H2037.1V2231.9H2039.3V2235.5H2041.5V2236.3H2043.7V2239.4H2045.9V2255.6H2074.5V2227.9H2076.7V2236.4H2078.9V2230.5H2081.1V2235.3H2083.3V2226.0H2085.5V2227.9H2087.7V2236.2H2089.9V2238.1H2092.1V2217.3H2094.3V2240.8H2096.5V2234.7H2098.7V2255.6H2100.9V2255.6Z" fill="#FF6A6E"/>
<rect x="348.7" y="2252.5" width="2.6" height="3.1" fill="#FFC4C4"/><rect x="348.7" y="2253.3" width="2.6" height="2.2" fill="#FF9898"/>
<rect x="346.4" y="2250.6" width="2.3" height="5.0" fill="#FFC4C4"/><rect x="346.4" y="2251.6" width="2.3" height="4.0" fill="#FF6A6E"/>
<text x="67.2" y="2228.9" font-family="'Liberation Sans', Arial, sans-serif" font-weight="normal" font-size="49.13" textLength="183.0" lengthAdjust="spacingAndGlyphs" fill="#FD6C6E">Heart_p1</text>
<text x="2116.2" y="2205.4" font-family="'Liberation Sans', Arial, sans-serif" font-weight="normal" font-size="32.22" textLength="53.1" lengthAdjust="spacingAndGlyphs" fill="#FD6C6E">200</text>
<text x="2135.0" y="2250.6" font-family="'Liberation Sans', Arial, sans-serif" font-weight="normal" font-size="32.22" textLength="17.6" lengthAdjust="spacingAndGlyphs" fill="#FD6C6E">0</text>
<path d="M327.7 2345.4H1304.5V2345.1H1306.7V2343.6H1308.9V2342.7H1311.1V2342.6H1313.3V2344.7H1315.5V2344.6H1317.7V2345.4H1603.7V2344.4H1605.9V2338.6H1608.1V2333.6H1612.5V2338.7H1614.7V2344.4H1616.9V2345.4H1654.3V2343.3H1656.5V2336.7H1658.7V2334.5H1660.9V2336.8H1663.1V2343.1H1665.3V2345.4H1674.1V2344.9H1676.3V2343.1H1678.5V2342.4H1680.7V2342.7H1682.9V2343.3H1685.1V2345.4H1742.3V2344.8H1744.5V2339.8H1746.7V2333.6H1748.9V2334.2H1751.1V2336.6H1753.3V2343.1H1755.5V2345.4H1792.9V2344.9H1795.1V2341.7H1797.3V2339.1H1799.5V2341.4H1801.7V2344.5H1803.9V2345.4H1841.3V2343.6H1843.5V2338.1H1845.7V2337.3H1847.9V2337.4H1850.1V2341.3H1852.3V2344.0H1854.5V2345.4H1869.9V2342.2H1872.1V2340.7H1874.3V2328.4H1876.5V2327.7H1878.7V2334.3H1880.9V2340.3H1883.1V2345.4H1894.1V2343.7H1896.3V2336.7H1898.5V2334.2H1900.7V2334.5H1902.9V2336.0H1905.1V2344.8H1907.3V2345.1H1909.5V2344.8H1911.7V2321.6H1913.9V2321.0H1916.1V2326.2H1918.3V2334.0H1920.5V2331.7H1922.7V2328.1H1924.9V2329.2H1927.1V2332.5H1929.3V2329.3H1931.5V2340.0H1933.7V2337.4H1935.9V2337.1H1938.1V2340.0H1940.3V2340.7H1942.5V2338.7H1944.7V2339.4H1946.9V2342.1H1949.1V2341.2H1951.3V2345.4H1957.9V2342.3H1960.1V2341.8H1964.5V2342.3H1966.7V2341.7H1968.9V2342.8H1971.1V2342.3H1973.3V2342.0H1975.5V2341.8H1977.7V2342.9H1979.9V2342.3H1982.1V2342.1H1984.3V2341.5H1986.5V2343.1H1988.7V2342.4H1990.9V2332.4H1993.1V2331.9H1995.3V2330.3H1997.5V2334.2H1999.7V2329.9H2001.9V2334.3H2004.1V2330.0H2006.3V2335.8H2008.5V2328.4H2010.7V2334.3H2012.9V2328.5H2015.1V2331.6H2017.3V2327.0H2019.5V2331.1H2021.7V2329.7H2023.9V2323.4H2026.1V2321.4H2028.3V2328.3H2030.5V2321.1H2032.7V2328.3H2034.9V2327.7H2037.1V2322.2H2039.3V2311.1H2041.5V2321.4H2043.7V2325.8H2045.9V2345.4H2074.5V2320.0H2076.7V2325.8H2078.9V2328.1H2081.1V2314.7H2083.3V2312.8H2085.5V2310.0H2087.7V2319.0H2089.9V2316.4H2092.1V2321.1H2094.3V2318.2H2096.5V2318.7H2098.7V2345.4H2100.9V2345.4Z" fill="#FFC4C4"/>
<path d="M327.7 2345.4H1304.5V2345.1H1306.7V2344.0H1308.9V2343.0H1311.1V2343.4H1313.3V2344.7H1315.5V2344.6H1317.7V2345.4H1603.7V2344.4H1605.9V2339.6H1608.1V2334.9H1610.3V2336.7H1612.5V2339.1H1614.7V2344.4H1616.9V2345.4H1654.3V2343.7H1656.5V2337.4H1658.7V2335.4H1660.9V2337.6H1663.1V2343.6H1665.3V2345.4H1674.1V2344.9H1676.3V2343.7H1678.5V2342.9H1680.7V2342.8H1682.9V2343.7H1685.1V2345.4H1742.3V2344.8H1744.5V2340.8H1746.7V2335.7H1748.9V2336.9H1751.1V2337.5H1753.3V2343.5H1755.5V2345.4H1792.9V2344.9H1795.1V2342.4H1797.3V2339.9H1799.5V2342.4H1801.7V2344.5H1803.9V2345.4H1841.3V2343.9H1843.5V2338.9H1845.7V2339.1H1847.9V2339.0H1850.1V2341.5H1852.3V2344.0H1854.5V2345.4H1869.9V2342.7H1872.1V2341.1H1874.3V2330.2H1876.5V2329.4H1878.7V2336.7H1880.9V2341.6H1883.1V2345.4H1894.1V2343.8H1896.3V2338.5H1898.5V2335.9H1900.7V2337.0H1902.9V2336.5H1905.1V2344.8H1907.3V2345.1H1909.5V2344.8H1911.7V2328.1H1913.9V2324.8H1916.1V2327.2H1918.3V2335.7H1920.5V2334.7H1922.7V2329.7H1924.9V2332.0H1927.1V2334.6H1929.3V2330.7H1931.5V2341.3H1933.7V2339.1H1935.9V2339.3H1938.1V2340.7H1940.3V2341.8H1942.5V2339.9H1944.7V2340.0H1946.9V2342.3H1951.3V2345.4H1957.9V2342.5H1960.1V2342.2H1962.3V2342.7H1966.7V2342.3H1968.9V2343.0H1973.3V2342.3H1977.7V2343.5H1979.9V2342.8H1982.1V2342.9H1984.3V2342.1H1986.5V2343.8H1988.7V2343.0H1990.9V2335.5H1993.1V2334.1H1995.3V2331.8H1997.5V2335.8H1999.7V2333.8H2001.9V2337.3H2004.1V2334.2H2006.3V2336.5H2008.5V2330.9H2010.7V2336.0H2012.9V2332.2H2015.1V2332.6H2017.3V2328.1H2019.5V2334.0H2021.7V2332.8H2023.9V2326.7H2026.1V2327.0H2028.3V2332.7H2030.5V2325.2H2032.7V2332.6H2034.9V2332.2H2037.1V2323.8H2039.3V2314.2H2041.5V2327.2H2043.7V2328.0H2045.9V2345.4H2074.5V2323.3H2076.7V2327.6H2078.9V2330.8H2081.1V2317.1H2083.3V2321.2H2085.5V2318.5H2087.7V2322.9H2089.9V2323.5H2092.1V2326.6H2094.3V2321.1H2096.5V2321.7H2098.7V2345.4H2100.9V2345.4Z" fill="#FF9898"/>
<path d="M327.7 2345.4H1304.5V2345.1H1306.7V2344.0H1308.9V2343.9H1313.3V2344.7H1315.5V2344.6H1317.7V2345.4H1603.7V2344.4H1605.9V2341.9H1608.1V2338.0H1610.3V2338.2H1612.5V2340.2H1614.7V2344.4H1616.9V2345.4H1654.3V2344.4H1656.5V2339.5H1658.7V2339.0H1660.9V2340.4H1663.1V2343.9H1665.3V2345.4H1674.1V2344.9H1676.3V2344.0H1678.5V2343.9H1680.7V2343.5H1682.9V2344.1H1685.1V2345.4H1742.3V2344.8H1744.5V2342.6H1746.7V2338.4H1748.9V2339.5H1751.1V2340.4H1753.3V2344.0H1755.5V2345.4H1792.9V2344.9H1795.1V2343.4H1797.3V2341.3H1799.5V2343.3H1801.7V2344.5H1803.9V2345.4H1841.3V2343.9H1843.5V2341.4H1845.7V2340.2H1847.9V2340.5H1850.1V2342.8H1852.3V2344.0H1854.5V2345.4H1869.9V2343.6H1872.1V2342.7H1874.3V2333.5H1876.5V2334.3H1878.7V2338.2H1880.9V2342.8H1883.1V2345.4H1894.1V2344.3H1896.3V2340.7H1898.5V2339.5H1900.7V2339.6H1902.9V2337.9H1905.1V2344.8H1907.3V2345.1H1909.5V2344.8H1911.7V2333.9H1913.9V2328.8H1916.1V2333.9H1918.3V2338.5H1920.5V2337.5H1922.7V2333.0H1924.9V2337.2H1927.1V2337.9H1929.3V2335.7H1931.5V2342.2H1933.7V2340.3H1935.9V2341.5H1938.1V2341.8H1940.3V2343.0H1942.5V2341.9H1944.7V2342.0H1946.9V2343.1H1949.1V2343.5H1951.3V2345.4H1957.9V2343.5H1962.3V2343.1H1964.5V2343.6H1966.7V2343.0H1968.9V2343.8H1971.1V2343.5H1975.5V2342.9H1977.7V2344.2H1979.9V2343.6H1982.1V2343.5H1984.3V2342.9H1986.5V2344.1H1988.7V2343.6H1990.9V2339.0H1993.1V2337.9H1995.3V2336.6H1997.5V2339.4H1999.7V2337.7H2001.9V2339.8H2004.1V2336.4H2006.3V2338.8H2008.5V2336.0H2010.7V2339.2H2012.9V2337.1H2015.1V2335.3H2017.3V2332.6H2019.5V2336.1H2021.7V2335.7H2023.9V2331.8H2026.1V2332.5H2028.3V2337.3H2030.5V2333.3H2032.7V2335.8H2034.9V2336.3H2037.1V2329.3H2039.3V2324.5H2041.5V2333.7H2043.7V2333.6H2045.9V2345.4H2074.5V2331.5H2076.7V2332.0H2078.9V2334.6H2081.1V2321.8H2083.3V2328.2H2085.5V2326.3H2087.7V2329.4H2089.9V2329.6H2092.1V2329.7H2094.3V2326.7H2096.5V2329.7H2098.7V2345.4H2100.9V2345.4Z" fill="#FF6A6E"/>
<rect x="348.7" y="2343.5" width="2.6" height="1.9" fill="#FFC4C4"/><rect x="348.7" y="2344.1" width="2.6" height="1.4" fill="#FF9898"/>
<rect x="346.4" y="2342.4" width="2.3" height="3.0" fill="#FFC4C4"/><rect x="346.4" y="2343.0" width="2.3" height="2.4" fill="#FF6A6E"/>
<text x="67.2" y="2318.0" font-family="'Liberation Sans', Arial, sans-serif" font-weight="normal" font-size="45.40" textLength="170.2" lengthAdjust="spacingAndGlyphs" fill="#FD6C6E">Liver_p1</text>
<text x="2116.2" y="2295.2" font-family="'Liberation Sans', Arial, sans-serif" font-weight="normal" font-size="32.22" textLength="53.1" lengthAdjust="spacingAndGlyphs" fill="#FD6C6E">200</text>
<text x="2135.0" y="2340.4" font-family="'Liberation Sans', Arial, sans-serif" font-weight="normal" font-size="32.22" textLength="17.6" lengthAdjust="spacingAndGlyphs" fill="#FD6C6E">0</text>
</svg></body></html>
